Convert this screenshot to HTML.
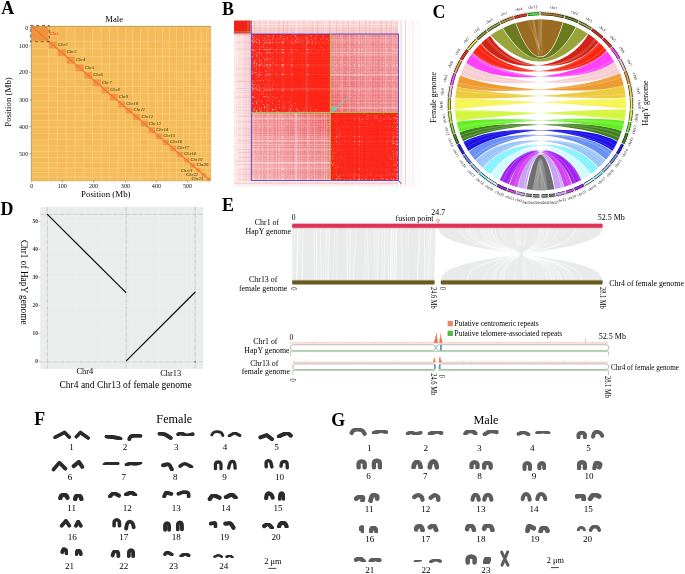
<!DOCTYPE html>
<html><head><meta charset="utf-8"><title>Figure</title>
<style>
html,body{margin:0;padding:0;background:#fff;}
body{width:685px;height:574px;overflow:hidden;font-family:"Liberation Serif",serif;}
svg{display:block;font-family:"Liberation Serif",serif;opacity:0.999;}
</style></head><body>
<svg width="685" height="574" viewBox="0 0 685 574">
<rect width="685" height="574" fill="#fff"/>
<g id="panelA">
<rect x="31.3" y="26.3" width="179.40" height="154.60" fill="#f5bb58"/>
<clipPath id="clipA"><rect x="31.3" y="26.3" width="179.40" height="154.60"/></clipPath>
<g clip-path="url(#clipA)">
<rect x="31.30" y="41.21" width="17.30" height="7.58" fill="#f9cf78" opacity="0.06"/>
<rect x="31.30" y="48.79" width="17.30" height="7.58" fill="#f2a84a" opacity="0.09"/>
<rect x="31.30" y="56.38" width="17.30" height="7.67" fill="#f2a84a" opacity="0.09"/>
<rect x="31.30" y="64.05" width="17.30" height="7.76" fill="#f2a84a" opacity="0.06"/>
<rect x="31.30" y="71.80" width="17.30" height="7.24" fill="#f2a84a" opacity="0.12"/>
<rect x="31.30" y="79.04" width="17.30" height="7.50" fill="#f9cf78" opacity="0.10"/>
<rect x="31.30" y="93.69" width="17.30" height="7.24" fill="#f2a84a" opacity="0.13"/>
<rect x="31.30" y="107.39" width="17.30" height="6.38" fill="#f2a84a" opacity="0.06"/>
<rect x="31.30" y="113.77" width="17.30" height="6.72" fill="#f2a84a" opacity="0.12"/>
<rect x="31.30" y="133.33" width="17.30" height="6.03" fill="#f2a84a" opacity="0.09"/>
<rect x="31.30" y="139.36" width="17.30" height="6.03" fill="#f9cf78" opacity="0.07"/>
<rect x="31.30" y="145.40" width="17.30" height="6.03" fill="#f9cf78" opacity="0.08"/>
<rect x="31.30" y="151.43" width="17.30" height="6.03" fill="#f9cf78" opacity="0.07"/>
<rect x="31.30" y="162.80" width="17.30" height="5.26" fill="#f9cf78" opacity="0.10"/>
<rect x="31.30" y="177.11" width="17.30" height="3.79" fill="#f2a84a" opacity="0.13"/>
<rect x="48.60" y="26.30" width="8.80" height="14.91" fill="#f2a84a" opacity="0.11"/>
<rect x="48.60" y="48.79" width="8.80" height="7.58" fill="#f9cf78" opacity="0.05"/>
<rect x="48.60" y="79.04" width="8.80" height="7.50" fill="#f9cf78" opacity="0.11"/>
<rect x="48.60" y="93.69" width="8.80" height="7.24" fill="#f9cf78" opacity="0.12"/>
<rect x="48.60" y="100.93" width="8.80" height="6.46" fill="#f2a84a" opacity="0.10"/>
<rect x="48.60" y="133.33" width="8.80" height="6.03" fill="#f9cf78" opacity="0.08"/>
<rect x="48.60" y="139.36" width="8.80" height="6.03" fill="#f2a84a" opacity="0.09"/>
<rect x="48.60" y="145.40" width="8.80" height="6.03" fill="#f9cf78" opacity="0.05"/>
<rect x="48.60" y="151.43" width="8.80" height="6.03" fill="#f2a84a" opacity="0.07"/>
<rect x="48.60" y="162.80" width="8.80" height="5.26" fill="#f9cf78" opacity="0.09"/>
<rect x="57.40" y="26.30" width="8.80" height="14.91" fill="#f2a84a" opacity="0.08"/>
<rect x="57.40" y="64.05" width="8.80" height="7.76" fill="#f2a84a" opacity="0.06"/>
<rect x="57.40" y="71.80" width="8.80" height="7.24" fill="#f9cf78" opacity="0.09"/>
<rect x="57.40" y="79.04" width="8.80" height="7.50" fill="#f2a84a" opacity="0.05"/>
<rect x="57.40" y="86.54" width="8.80" height="7.15" fill="#f9cf78" opacity="0.10"/>
<rect x="57.40" y="120.49" width="8.80" height="6.55" fill="#f9cf78" opacity="0.12"/>
<rect x="57.40" y="139.36" width="8.80" height="6.03" fill="#f2a84a" opacity="0.08"/>
<rect x="57.40" y="151.43" width="8.80" height="6.03" fill="#f2a84a" opacity="0.06"/>
<rect x="57.40" y="157.46" width="8.80" height="5.34" fill="#f2a84a" opacity="0.08"/>
<rect x="57.40" y="162.80" width="8.80" height="5.26" fill="#f2a84a" opacity="0.06"/>
<rect x="57.40" y="168.06" width="8.80" height="4.48" fill="#f9cf78" opacity="0.05"/>
<rect x="57.40" y="177.11" width="8.80" height="3.79" fill="#f2a84a" opacity="0.07"/>
<rect x="66.20" y="26.30" width="8.90" height="14.91" fill="#f9cf78" opacity="0.06"/>
<rect x="66.20" y="48.79" width="8.90" height="7.58" fill="#f2a84a" opacity="0.09"/>
<rect x="66.20" y="64.05" width="8.90" height="7.76" fill="#f2a84a" opacity="0.08"/>
<rect x="66.20" y="79.04" width="8.90" height="7.50" fill="#f9cf78" opacity="0.05"/>
<rect x="66.20" y="93.69" width="8.90" height="7.24" fill="#f2a84a" opacity="0.09"/>
<rect x="66.20" y="127.04" width="8.90" height="6.29" fill="#f2a84a" opacity="0.08"/>
<rect x="66.20" y="151.43" width="8.90" height="6.03" fill="#f9cf78" opacity="0.07"/>
<rect x="75.10" y="26.30" width="9.00" height="14.91" fill="#f2a84a" opacity="0.09"/>
<rect x="75.10" y="41.21" width="9.00" height="7.58" fill="#f2a84a" opacity="0.05"/>
<rect x="75.10" y="48.79" width="9.00" height="7.58" fill="#f9cf78" opacity="0.11"/>
<rect x="75.10" y="56.38" width="9.00" height="7.67" fill="#f9cf78" opacity="0.12"/>
<rect x="75.10" y="79.04" width="9.00" height="7.50" fill="#f2a84a" opacity="0.07"/>
<rect x="75.10" y="86.54" width="9.00" height="7.15" fill="#f9cf78" opacity="0.07"/>
<rect x="75.10" y="107.39" width="9.00" height="6.38" fill="#f9cf78" opacity="0.10"/>
<rect x="75.10" y="113.77" width="9.00" height="6.72" fill="#f9cf78" opacity="0.10"/>
<rect x="75.10" y="133.33" width="9.00" height="6.03" fill="#f9cf78" opacity="0.06"/>
<rect x="75.10" y="139.36" width="9.00" height="6.03" fill="#f9cf78" opacity="0.11"/>
<rect x="75.10" y="145.40" width="9.00" height="6.03" fill="#f9cf78" opacity="0.08"/>
<rect x="75.10" y="157.46" width="9.00" height="5.34" fill="#f2a84a" opacity="0.06"/>
<rect x="75.10" y="172.54" width="9.00" height="4.57" fill="#f9cf78" opacity="0.12"/>
<rect x="84.10" y="26.30" width="8.40" height="14.91" fill="#f2a84a" opacity="0.09"/>
<rect x="84.10" y="41.21" width="8.40" height="7.58" fill="#f9cf78" opacity="0.13"/>
<rect x="84.10" y="64.05" width="8.40" height="7.76" fill="#f9cf78" opacity="0.12"/>
<rect x="84.10" y="79.04" width="8.40" height="7.50" fill="#f2a84a" opacity="0.07"/>
<rect x="84.10" y="86.54" width="8.40" height="7.15" fill="#f2a84a" opacity="0.10"/>
<rect x="84.10" y="93.69" width="8.40" height="7.24" fill="#f9cf78" opacity="0.06"/>
<rect x="84.10" y="100.93" width="8.40" height="6.46" fill="#f9cf78" opacity="0.09"/>
<rect x="84.10" y="113.77" width="8.40" height="6.72" fill="#f9cf78" opacity="0.12"/>
<rect x="84.10" y="133.33" width="8.40" height="6.03" fill="#f2a84a" opacity="0.09"/>
<rect x="84.10" y="139.36" width="8.40" height="6.03" fill="#f2a84a" opacity="0.11"/>
<rect x="84.10" y="145.40" width="8.40" height="6.03" fill="#f9cf78" opacity="0.11"/>
<rect x="84.10" y="151.43" width="8.40" height="6.03" fill="#f9cf78" opacity="0.09"/>
<rect x="84.10" y="162.80" width="8.40" height="5.26" fill="#f2a84a" opacity="0.09"/>
<rect x="84.10" y="168.06" width="8.40" height="4.48" fill="#f9cf78" opacity="0.11"/>
<rect x="92.50" y="41.21" width="8.70" height="7.58" fill="#f9cf78" opacity="0.10"/>
<rect x="92.50" y="64.05" width="8.70" height="7.76" fill="#f2a84a" opacity="0.09"/>
<rect x="92.50" y="107.39" width="8.70" height="6.38" fill="#f9cf78" opacity="0.09"/>
<rect x="92.50" y="120.49" width="8.70" height="6.55" fill="#f2a84a" opacity="0.06"/>
<rect x="92.50" y="127.04" width="8.70" height="6.29" fill="#f2a84a" opacity="0.07"/>
<rect x="92.50" y="151.43" width="8.70" height="6.03" fill="#f9cf78" opacity="0.11"/>
<rect x="92.50" y="157.46" width="8.70" height="5.34" fill="#f9cf78" opacity="0.12"/>
<rect x="92.50" y="162.80" width="8.70" height="5.26" fill="#f2a84a" opacity="0.13"/>
<rect x="92.50" y="168.06" width="8.70" height="4.48" fill="#f9cf78" opacity="0.13"/>
<rect x="92.50" y="172.54" width="8.70" height="4.57" fill="#f9cf78" opacity="0.08"/>
<rect x="92.50" y="177.11" width="8.70" height="3.79" fill="#f2a84a" opacity="0.07"/>
<rect x="101.20" y="41.21" width="8.30" height="7.58" fill="#f2a84a" opacity="0.09"/>
<rect x="101.20" y="48.79" width="8.30" height="7.58" fill="#f9cf78" opacity="0.08"/>
<rect x="101.20" y="64.05" width="8.30" height="7.76" fill="#f9cf78" opacity="0.13"/>
<rect x="101.20" y="79.04" width="8.30" height="7.50" fill="#f2a84a" opacity="0.07"/>
<rect x="101.20" y="100.93" width="8.30" height="6.46" fill="#f2a84a" opacity="0.06"/>
<rect x="101.20" y="120.49" width="8.30" height="6.55" fill="#f9cf78" opacity="0.06"/>
<rect x="101.20" y="139.36" width="8.30" height="6.03" fill="#f9cf78" opacity="0.05"/>
<rect x="101.20" y="145.40" width="8.30" height="6.03" fill="#f9cf78" opacity="0.06"/>
<rect x="101.20" y="162.80" width="8.30" height="5.26" fill="#f2a84a" opacity="0.12"/>
<rect x="101.20" y="172.54" width="8.30" height="4.57" fill="#f9cf78" opacity="0.08"/>
<rect x="109.50" y="26.30" width="8.40" height="14.91" fill="#f9cf78" opacity="0.06"/>
<rect x="109.50" y="41.21" width="8.40" height="7.58" fill="#f2a84a" opacity="0.06"/>
<rect x="109.50" y="48.79" width="8.40" height="7.58" fill="#f2a84a" opacity="0.07"/>
<rect x="109.50" y="56.38" width="8.40" height="7.67" fill="#f2a84a" opacity="0.11"/>
<rect x="109.50" y="71.80" width="8.40" height="7.24" fill="#f2a84a" opacity="0.08"/>
<rect x="109.50" y="79.04" width="8.40" height="7.50" fill="#f9cf78" opacity="0.05"/>
<rect x="109.50" y="100.93" width="8.40" height="6.46" fill="#f9cf78" opacity="0.09"/>
<rect x="109.50" y="107.39" width="8.40" height="6.38" fill="#f2a84a" opacity="0.12"/>
<rect x="109.50" y="113.77" width="8.40" height="6.72" fill="#f2a84a" opacity="0.12"/>
<rect x="109.50" y="139.36" width="8.40" height="6.03" fill="#f9cf78" opacity="0.12"/>
<rect x="109.50" y="151.43" width="8.40" height="6.03" fill="#f2a84a" opacity="0.08"/>
<rect x="109.50" y="157.46" width="8.40" height="5.34" fill="#f9cf78" opacity="0.06"/>
<rect x="109.50" y="162.80" width="8.40" height="5.26" fill="#f2a84a" opacity="0.06"/>
<rect x="117.90" y="26.30" width="7.50" height="14.91" fill="#f2a84a" opacity="0.07"/>
<rect x="117.90" y="41.21" width="7.50" height="7.58" fill="#f2a84a" opacity="0.06"/>
<rect x="117.90" y="48.79" width="7.50" height="7.58" fill="#f9cf78" opacity="0.13"/>
<rect x="117.90" y="64.05" width="7.50" height="7.76" fill="#f2a84a" opacity="0.13"/>
<rect x="117.90" y="71.80" width="7.50" height="7.24" fill="#f2a84a" opacity="0.05"/>
<rect x="117.90" y="79.04" width="7.50" height="7.50" fill="#f2a84a" opacity="0.09"/>
<rect x="117.90" y="93.69" width="7.50" height="7.24" fill="#f2a84a" opacity="0.07"/>
<rect x="117.90" y="107.39" width="7.50" height="6.38" fill="#f2a84a" opacity="0.05"/>
<rect x="117.90" y="113.77" width="7.50" height="6.72" fill="#f9cf78" opacity="0.07"/>
<rect x="117.90" y="151.43" width="7.50" height="6.03" fill="#f9cf78" opacity="0.08"/>
<rect x="117.90" y="157.46" width="7.50" height="5.34" fill="#f9cf78" opacity="0.11"/>
<rect x="117.90" y="162.80" width="7.50" height="5.26" fill="#f9cf78" opacity="0.12"/>
<rect x="125.40" y="26.30" width="7.40" height="14.91" fill="#f9cf78" opacity="0.09"/>
<rect x="125.40" y="93.69" width="7.40" height="7.24" fill="#f2a84a" opacity="0.05"/>
<rect x="125.40" y="100.93" width="7.40" height="6.46" fill="#f9cf78" opacity="0.06"/>
<rect x="125.40" y="139.36" width="7.40" height="6.03" fill="#f9cf78" opacity="0.05"/>
<rect x="125.40" y="168.06" width="7.40" height="4.48" fill="#f2a84a" opacity="0.11"/>
<rect x="125.40" y="172.54" width="7.40" height="4.57" fill="#f9cf78" opacity="0.07"/>
<rect x="125.40" y="177.11" width="7.40" height="3.79" fill="#f9cf78" opacity="0.11"/>
<rect x="132.80" y="26.30" width="7.80" height="14.91" fill="#f2a84a" opacity="0.08"/>
<rect x="132.80" y="71.80" width="7.80" height="7.24" fill="#f2a84a" opacity="0.06"/>
<rect x="132.80" y="86.54" width="7.80" height="7.15" fill="#f2a84a" opacity="0.10"/>
<rect x="132.80" y="93.69" width="7.80" height="7.24" fill="#f9cf78" opacity="0.07"/>
<rect x="132.80" y="120.49" width="7.80" height="6.55" fill="#f2a84a" opacity="0.09"/>
<rect x="132.80" y="127.04" width="7.80" height="6.29" fill="#f9cf78" opacity="0.06"/>
<rect x="132.80" y="133.33" width="7.80" height="6.03" fill="#f9cf78" opacity="0.13"/>
<rect x="132.80" y="139.36" width="7.80" height="6.03" fill="#f9cf78" opacity="0.09"/>
<rect x="132.80" y="151.43" width="7.80" height="6.03" fill="#f2a84a" opacity="0.07"/>
<rect x="132.80" y="162.80" width="7.80" height="5.26" fill="#f2a84a" opacity="0.10"/>
<rect x="132.80" y="177.11" width="7.80" height="3.79" fill="#f9cf78" opacity="0.12"/>
<rect x="140.60" y="48.79" width="7.60" height="7.58" fill="#f2a84a" opacity="0.12"/>
<rect x="140.60" y="56.38" width="7.60" height="7.67" fill="#f2a84a" opacity="0.05"/>
<rect x="140.60" y="64.05" width="7.60" height="7.76" fill="#f2a84a" opacity="0.07"/>
<rect x="140.60" y="71.80" width="7.60" height="7.24" fill="#f9cf78" opacity="0.08"/>
<rect x="140.60" y="79.04" width="7.60" height="7.50" fill="#f9cf78" opacity="0.11"/>
<rect x="140.60" y="86.54" width="7.60" height="7.15" fill="#f9cf78" opacity="0.12"/>
<rect x="140.60" y="100.93" width="7.60" height="6.46" fill="#f2a84a" opacity="0.08"/>
<rect x="140.60" y="127.04" width="7.60" height="6.29" fill="#f2a84a" opacity="0.08"/>
<rect x="140.60" y="133.33" width="7.60" height="6.03" fill="#f9cf78" opacity="0.06"/>
<rect x="140.60" y="139.36" width="7.60" height="6.03" fill="#f2a84a" opacity="0.12"/>
<rect x="140.60" y="145.40" width="7.60" height="6.03" fill="#f2a84a" opacity="0.09"/>
<rect x="140.60" y="151.43" width="7.60" height="6.03" fill="#f9cf78" opacity="0.13"/>
<rect x="148.20" y="41.21" width="7.30" height="7.58" fill="#f2a84a" opacity="0.11"/>
<rect x="148.20" y="64.05" width="7.30" height="7.76" fill="#f9cf78" opacity="0.05"/>
<rect x="148.20" y="71.80" width="7.30" height="7.24" fill="#f2a84a" opacity="0.09"/>
<rect x="148.20" y="79.04" width="7.30" height="7.50" fill="#f9cf78" opacity="0.11"/>
<rect x="148.20" y="86.54" width="7.30" height="7.15" fill="#f2a84a" opacity="0.10"/>
<rect x="148.20" y="100.93" width="7.30" height="6.46" fill="#f2a84a" opacity="0.06"/>
<rect x="148.20" y="107.39" width="7.30" height="6.38" fill="#f2a84a" opacity="0.12"/>
<rect x="148.20" y="113.77" width="7.30" height="6.72" fill="#f9cf78" opacity="0.12"/>
<rect x="148.20" y="120.49" width="7.30" height="6.55" fill="#f2a84a" opacity="0.06"/>
<rect x="148.20" y="133.33" width="7.30" height="6.03" fill="#f2a84a" opacity="0.08"/>
<rect x="148.20" y="139.36" width="7.30" height="6.03" fill="#f9cf78" opacity="0.07"/>
<rect x="148.20" y="157.46" width="7.30" height="5.34" fill="#f9cf78" opacity="0.08"/>
<rect x="148.20" y="162.80" width="7.30" height="5.26" fill="#f2a84a" opacity="0.08"/>
<rect x="148.20" y="168.06" width="7.30" height="4.48" fill="#f2a84a" opacity="0.13"/>
<rect x="155.50" y="41.21" width="7.00" height="7.58" fill="#f2a84a" opacity="0.07"/>
<rect x="155.50" y="48.79" width="7.00" height="7.58" fill="#f9cf78" opacity="0.09"/>
<rect x="155.50" y="71.80" width="7.00" height="7.24" fill="#f9cf78" opacity="0.05"/>
<rect x="155.50" y="86.54" width="7.00" height="7.15" fill="#f2a84a" opacity="0.10"/>
<rect x="155.50" y="93.69" width="7.00" height="7.24" fill="#f9cf78" opacity="0.12"/>
<rect x="155.50" y="113.77" width="7.00" height="6.72" fill="#f2a84a" opacity="0.06"/>
<rect x="155.50" y="162.80" width="7.00" height="5.26" fill="#f2a84a" opacity="0.09"/>
<rect x="155.50" y="172.54" width="7.00" height="4.57" fill="#f9cf78" opacity="0.12"/>
<rect x="155.50" y="177.11" width="7.00" height="3.79" fill="#f2a84a" opacity="0.06"/>
<rect x="162.50" y="48.79" width="7.00" height="7.58" fill="#f9cf78" opacity="0.06"/>
<rect x="162.50" y="64.05" width="7.00" height="7.76" fill="#f9cf78" opacity="0.07"/>
<rect x="162.50" y="71.80" width="7.00" height="7.24" fill="#f2a84a" opacity="0.07"/>
<rect x="162.50" y="100.93" width="7.00" height="6.46" fill="#f2a84a" opacity="0.07"/>
<rect x="162.50" y="120.49" width="7.00" height="6.55" fill="#f2a84a" opacity="0.05"/>
<rect x="162.50" y="133.33" width="7.00" height="6.03" fill="#f9cf78" opacity="0.07"/>
<rect x="162.50" y="151.43" width="7.00" height="6.03" fill="#f2a84a" opacity="0.05"/>
<rect x="162.50" y="157.46" width="7.00" height="5.34" fill="#f2a84a" opacity="0.10"/>
<rect x="162.50" y="177.11" width="7.00" height="3.79" fill="#f2a84a" opacity="0.13"/>
<rect x="169.50" y="41.21" width="7.00" height="7.58" fill="#f9cf78" opacity="0.07"/>
<rect x="169.50" y="48.79" width="7.00" height="7.58" fill="#f2a84a" opacity="0.13"/>
<rect x="169.50" y="56.38" width="7.00" height="7.67" fill="#f2a84a" opacity="0.07"/>
<rect x="169.50" y="79.04" width="7.00" height="7.50" fill="#f2a84a" opacity="0.08"/>
<rect x="169.50" y="93.69" width="7.00" height="7.24" fill="#f2a84a" opacity="0.05"/>
<rect x="169.50" y="100.93" width="7.00" height="6.46" fill="#f9cf78" opacity="0.12"/>
<rect x="169.50" y="127.04" width="7.00" height="6.29" fill="#f9cf78" opacity="0.06"/>
<rect x="169.50" y="139.36" width="7.00" height="6.03" fill="#f2a84a" opacity="0.10"/>
<rect x="169.50" y="151.43" width="7.00" height="6.03" fill="#f2a84a" opacity="0.08"/>
<rect x="169.50" y="157.46" width="7.00" height="5.34" fill="#f2a84a" opacity="0.07"/>
<rect x="169.50" y="168.06" width="7.00" height="4.48" fill="#f2a84a" opacity="0.13"/>
<rect x="169.50" y="172.54" width="7.00" height="4.57" fill="#f9cf78" opacity="0.12"/>
<rect x="169.50" y="177.11" width="7.00" height="3.79" fill="#f2a84a" opacity="0.05"/>
<rect x="176.50" y="26.30" width="7.00" height="14.91" fill="#f2a84a" opacity="0.12"/>
<rect x="176.50" y="41.21" width="7.00" height="7.58" fill="#f2a84a" opacity="0.12"/>
<rect x="176.50" y="48.79" width="7.00" height="7.58" fill="#f9cf78" opacity="0.11"/>
<rect x="176.50" y="56.38" width="7.00" height="7.67" fill="#f2a84a" opacity="0.05"/>
<rect x="176.50" y="71.80" width="7.00" height="7.24" fill="#f9cf78" opacity="0.11"/>
<rect x="176.50" y="79.04" width="7.00" height="7.50" fill="#f9cf78" opacity="0.07"/>
<rect x="176.50" y="93.69" width="7.00" height="7.24" fill="#f2a84a" opacity="0.11"/>
<rect x="176.50" y="100.93" width="7.00" height="6.46" fill="#f9cf78" opacity="0.05"/>
<rect x="176.50" y="127.04" width="7.00" height="6.29" fill="#f2a84a" opacity="0.07"/>
<rect x="176.50" y="145.40" width="7.00" height="6.03" fill="#f2a84a" opacity="0.07"/>
<rect x="176.50" y="157.46" width="7.00" height="5.34" fill="#f2a84a" opacity="0.12"/>
<rect x="183.50" y="41.21" width="6.20" height="7.58" fill="#f2a84a" opacity="0.08"/>
<rect x="183.50" y="56.38" width="6.20" height="7.67" fill="#f9cf78" opacity="0.07"/>
<rect x="183.50" y="64.05" width="6.20" height="7.76" fill="#f2a84a" opacity="0.06"/>
<rect x="183.50" y="79.04" width="6.20" height="7.50" fill="#f9cf78" opacity="0.13"/>
<rect x="183.50" y="93.69" width="6.20" height="7.24" fill="#f2a84a" opacity="0.06"/>
<rect x="183.50" y="100.93" width="6.20" height="6.46" fill="#f2a84a" opacity="0.11"/>
<rect x="183.50" y="107.39" width="6.20" height="6.38" fill="#f9cf78" opacity="0.08"/>
<rect x="183.50" y="139.36" width="6.20" height="6.03" fill="#f2a84a" opacity="0.12"/>
<rect x="183.50" y="151.43" width="6.20" height="6.03" fill="#f2a84a" opacity="0.11"/>
<rect x="183.50" y="162.80" width="6.20" height="5.26" fill="#f2a84a" opacity="0.07"/>
<rect x="183.50" y="177.11" width="6.20" height="3.79" fill="#f9cf78" opacity="0.08"/>
<rect x="189.70" y="41.21" width="6.10" height="7.58" fill="#f9cf78" opacity="0.11"/>
<rect x="189.70" y="56.38" width="6.10" height="7.67" fill="#f9cf78" opacity="0.09"/>
<rect x="189.70" y="79.04" width="6.10" height="7.50" fill="#f2a84a" opacity="0.07"/>
<rect x="189.70" y="86.54" width="6.10" height="7.15" fill="#f9cf78" opacity="0.13"/>
<rect x="189.70" y="100.93" width="6.10" height="6.46" fill="#f2a84a" opacity="0.12"/>
<rect x="189.70" y="107.39" width="6.10" height="6.38" fill="#f9cf78" opacity="0.11"/>
<rect x="189.70" y="113.77" width="6.10" height="6.72" fill="#f9cf78" opacity="0.10"/>
<rect x="189.70" y="120.49" width="6.10" height="6.55" fill="#f2a84a" opacity="0.08"/>
<rect x="189.70" y="127.04" width="6.10" height="6.29" fill="#f9cf78" opacity="0.07"/>
<rect x="189.70" y="139.36" width="6.10" height="6.03" fill="#f2a84a" opacity="0.05"/>
<rect x="189.70" y="151.43" width="6.10" height="6.03" fill="#f2a84a" opacity="0.07"/>
<rect x="189.70" y="172.54" width="6.10" height="4.57" fill="#f2a84a" opacity="0.06"/>
<rect x="195.80" y="41.21" width="5.20" height="7.58" fill="#f9cf78" opacity="0.06"/>
<rect x="195.80" y="48.79" width="5.20" height="7.58" fill="#f2a84a" opacity="0.07"/>
<rect x="195.80" y="64.05" width="5.20" height="7.76" fill="#f2a84a" opacity="0.10"/>
<rect x="195.80" y="71.80" width="5.20" height="7.24" fill="#f9cf78" opacity="0.12"/>
<rect x="195.80" y="79.04" width="5.20" height="7.50" fill="#f9cf78" opacity="0.07"/>
<rect x="195.80" y="86.54" width="5.20" height="7.15" fill="#f9cf78" opacity="0.05"/>
<rect x="195.80" y="93.69" width="5.20" height="7.24" fill="#f2a84a" opacity="0.12"/>
<rect x="195.80" y="107.39" width="5.20" height="6.38" fill="#f2a84a" opacity="0.06"/>
<rect x="195.80" y="133.33" width="5.20" height="6.03" fill="#f2a84a" opacity="0.10"/>
<rect x="195.80" y="145.40" width="5.20" height="6.03" fill="#f9cf78" opacity="0.07"/>
<rect x="195.80" y="157.46" width="5.20" height="5.34" fill="#f9cf78" opacity="0.09"/>
<rect x="195.80" y="172.54" width="5.20" height="4.57" fill="#f9cf78" opacity="0.06"/>
<rect x="201.00" y="26.30" width="5.30" height="14.91" fill="#f9cf78" opacity="0.05"/>
<rect x="201.00" y="41.21" width="5.30" height="7.58" fill="#f9cf78" opacity="0.12"/>
<rect x="201.00" y="56.38" width="5.30" height="7.67" fill="#f2a84a" opacity="0.11"/>
<rect x="201.00" y="64.05" width="5.30" height="7.76" fill="#f9cf78" opacity="0.12"/>
<rect x="201.00" y="71.80" width="5.30" height="7.24" fill="#f2a84a" opacity="0.07"/>
<rect x="201.00" y="86.54" width="5.30" height="7.15" fill="#f2a84a" opacity="0.06"/>
<rect x="201.00" y="107.39" width="5.30" height="6.38" fill="#f9cf78" opacity="0.09"/>
<rect x="201.00" y="113.77" width="5.30" height="6.72" fill="#f2a84a" opacity="0.12"/>
<rect x="201.00" y="139.36" width="5.30" height="6.03" fill="#f9cf78" opacity="0.08"/>
<rect x="201.00" y="145.40" width="5.30" height="6.03" fill="#f2a84a" opacity="0.10"/>
<rect x="201.00" y="151.43" width="5.30" height="6.03" fill="#f9cf78" opacity="0.05"/>
<rect x="201.00" y="157.46" width="5.30" height="5.34" fill="#f9cf78" opacity="0.07"/>
<rect x="201.00" y="168.06" width="5.30" height="4.48" fill="#f2a84a" opacity="0.06"/>
<rect x="201.00" y="177.11" width="5.30" height="3.79" fill="#f2a84a" opacity="0.06"/>
<rect x="206.30" y="26.30" width="4.40" height="14.91" fill="#f9cf78" opacity="0.09"/>
<rect x="206.30" y="41.21" width="4.40" height="7.58" fill="#f2a84a" opacity="0.10"/>
<rect x="206.30" y="71.80" width="4.40" height="7.24" fill="#f2a84a" opacity="0.09"/>
<rect x="206.30" y="86.54" width="4.40" height="7.15" fill="#f9cf78" opacity="0.12"/>
<rect x="206.30" y="107.39" width="4.40" height="6.38" fill="#f2a84a" opacity="0.13"/>
<rect x="206.30" y="127.04" width="4.40" height="6.29" fill="#f9cf78" opacity="0.11"/>
<rect x="206.30" y="133.33" width="4.40" height="6.03" fill="#f9cf78" opacity="0.08"/>
<rect x="206.30" y="139.36" width="4.40" height="6.03" fill="#f2a84a" opacity="0.12"/>
<rect x="206.30" y="151.43" width="4.40" height="6.03" fill="#f9cf78" opacity="0.09"/>
<rect x="206.30" y="157.46" width="4.40" height="5.34" fill="#f9cf78" opacity="0.07"/>
<rect x="206.30" y="162.80" width="4.40" height="5.26" fill="#f2a84a" opacity="0.05"/>
<rect x="206.30" y="168.06" width="4.40" height="4.48" fill="#f9cf78" opacity="0.12"/>
<rect x="31.30" y="26.30" width="17.30" height="14.91" fill="#f1943c"/>
<rect x="48.60" y="41.21" width="8.80" height="7.58" fill="#f1943c"/>
<rect x="57.40" y="48.79" width="8.80" height="7.58" fill="#f1943c"/>
<rect x="66.20" y="56.38" width="8.90" height="7.67" fill="#f1943c"/>
<rect x="75.10" y="64.05" width="9.00" height="7.76" fill="#f1943c"/>
<rect x="84.10" y="71.80" width="8.40" height="7.24" fill="#f1943c"/>
<rect x="92.50" y="79.04" width="8.70" height="7.50" fill="#f1943c"/>
<rect x="101.20" y="86.54" width="8.30" height="7.15" fill="#f1943c"/>
<rect x="109.50" y="93.69" width="8.40" height="7.24" fill="#f1943c"/>
<rect x="117.90" y="100.93" width="7.50" height="6.46" fill="#f1943c"/>
<rect x="125.40" y="107.39" width="7.40" height="6.38" fill="#f1943c"/>
<rect x="132.80" y="113.77" width="7.80" height="6.72" fill="#f1943c"/>
<rect x="140.60" y="120.49" width="7.60" height="6.55" fill="#f1943c"/>
<rect x="148.20" y="127.04" width="7.30" height="6.29" fill="#f1943c"/>
<rect x="155.50" y="133.33" width="7.00" height="6.03" fill="#f1943c"/>
<rect x="162.50" y="139.36" width="7.00" height="6.03" fill="#f1943c"/>
<rect x="169.50" y="145.40" width="7.00" height="6.03" fill="#f1943c"/>
<rect x="176.50" y="151.43" width="7.00" height="6.03" fill="#f1943c"/>
<rect x="183.50" y="157.46" width="6.20" height="5.34" fill="#f1943c"/>
<rect x="189.70" y="162.80" width="6.10" height="5.26" fill="#f1943c"/>
<rect x="195.80" y="168.06" width="5.20" height="4.48" fill="#f1943c"/>
<rect x="201.00" y="172.54" width="5.30" height="4.57" fill="#f1943c"/>
<rect x="206.30" y="177.11" width="4.40" height="3.79" fill="#f1943c"/>
<rect x="31.30" y="26.30" width="8" height="6.6" fill="#f29238" opacity="0.3"/>
<rect x="39.30" y="32.90" width="9.30" height="8.31" fill="#f29238" opacity="0.3"/>
<line x1="48.60" y1="26.3" x2="48.60" y2="180.9" stroke="#fbdc98" stroke-width="0.6" opacity="0.8"/>
<line x1="31.3" y1="41.21" x2="210.7" y2="41.21" stroke="#fbdc98" stroke-width="0.6" opacity="0.8"/>
<line x1="57.40" y1="26.3" x2="57.40" y2="180.9" stroke="#fbdc98" stroke-width="0.6" opacity="0.8"/>
<line x1="31.3" y1="48.79" x2="210.7" y2="48.79" stroke="#fbdc98" stroke-width="0.6" opacity="0.8"/>
<line x1="66.20" y1="26.3" x2="66.20" y2="180.9" stroke="#fbdc98" stroke-width="0.6" opacity="0.8"/>
<line x1="31.3" y1="56.38" x2="210.7" y2="56.38" stroke="#fbdc98" stroke-width="0.6" opacity="0.8"/>
<line x1="75.10" y1="26.3" x2="75.10" y2="180.9" stroke="#fbdc98" stroke-width="0.6" opacity="0.8"/>
<line x1="31.3" y1="64.05" x2="210.7" y2="64.05" stroke="#fbdc98" stroke-width="0.6" opacity="0.8"/>
<line x1="84.10" y1="26.3" x2="84.10" y2="180.9" stroke="#fbdc98" stroke-width="0.6" opacity="0.8"/>
<line x1="31.3" y1="71.80" x2="210.7" y2="71.80" stroke="#fbdc98" stroke-width="0.6" opacity="0.8"/>
<line x1="92.50" y1="26.3" x2="92.50" y2="180.9" stroke="#fbdc98" stroke-width="0.6" opacity="0.8"/>
<line x1="31.3" y1="79.04" x2="210.7" y2="79.04" stroke="#fbdc98" stroke-width="0.6" opacity="0.8"/>
<line x1="101.20" y1="26.3" x2="101.20" y2="180.9" stroke="#fbdc98" stroke-width="0.6" opacity="0.8"/>
<line x1="31.3" y1="86.54" x2="210.7" y2="86.54" stroke="#fbdc98" stroke-width="0.6" opacity="0.8"/>
<line x1="109.50" y1="26.3" x2="109.50" y2="180.9" stroke="#fbdc98" stroke-width="0.6" opacity="0.8"/>
<line x1="31.3" y1="93.69" x2="210.7" y2="93.69" stroke="#fbdc98" stroke-width="0.6" opacity="0.8"/>
<line x1="117.90" y1="26.3" x2="117.90" y2="180.9" stroke="#fbdc98" stroke-width="0.6" opacity="0.8"/>
<line x1="31.3" y1="100.93" x2="210.7" y2="100.93" stroke="#fbdc98" stroke-width="0.6" opacity="0.8"/>
<line x1="125.40" y1="26.3" x2="125.40" y2="180.9" stroke="#fbdc98" stroke-width="0.6" opacity="0.8"/>
<line x1="31.3" y1="107.39" x2="210.7" y2="107.39" stroke="#fbdc98" stroke-width="0.6" opacity="0.8"/>
<line x1="132.80" y1="26.3" x2="132.80" y2="180.9" stroke="#fbdc98" stroke-width="0.6" opacity="0.8"/>
<line x1="31.3" y1="113.77" x2="210.7" y2="113.77" stroke="#fbdc98" stroke-width="0.6" opacity="0.8"/>
<line x1="140.60" y1="26.3" x2="140.60" y2="180.9" stroke="#fbdc98" stroke-width="0.6" opacity="0.8"/>
<line x1="31.3" y1="120.49" x2="210.7" y2="120.49" stroke="#fbdc98" stroke-width="0.6" opacity="0.8"/>
<line x1="148.20" y1="26.3" x2="148.20" y2="180.9" stroke="#fbdc98" stroke-width="0.6" opacity="0.8"/>
<line x1="31.3" y1="127.04" x2="210.7" y2="127.04" stroke="#fbdc98" stroke-width="0.6" opacity="0.8"/>
<line x1="155.50" y1="26.3" x2="155.50" y2="180.9" stroke="#fbdc98" stroke-width="0.6" opacity="0.8"/>
<line x1="31.3" y1="133.33" x2="210.7" y2="133.33" stroke="#fbdc98" stroke-width="0.6" opacity="0.8"/>
<line x1="162.50" y1="26.3" x2="162.50" y2="180.9" stroke="#fbdc98" stroke-width="0.6" opacity="0.8"/>
<line x1="31.3" y1="139.36" x2="210.7" y2="139.36" stroke="#fbdc98" stroke-width="0.6" opacity="0.8"/>
<line x1="169.50" y1="26.3" x2="169.50" y2="180.9" stroke="#fbdc98" stroke-width="0.6" opacity="0.8"/>
<line x1="31.3" y1="145.40" x2="210.7" y2="145.40" stroke="#fbdc98" stroke-width="0.6" opacity="0.8"/>
<line x1="176.50" y1="26.3" x2="176.50" y2="180.9" stroke="#fbdc98" stroke-width="0.6" opacity="0.8"/>
<line x1="31.3" y1="151.43" x2="210.7" y2="151.43" stroke="#fbdc98" stroke-width="0.6" opacity="0.8"/>
<line x1="183.50" y1="26.3" x2="183.50" y2="180.9" stroke="#fbdc98" stroke-width="0.6" opacity="0.8"/>
<line x1="31.3" y1="157.46" x2="210.7" y2="157.46" stroke="#fbdc98" stroke-width="0.6" opacity="0.8"/>
<line x1="189.70" y1="26.3" x2="189.70" y2="180.9" stroke="#fbdc98" stroke-width="0.6" opacity="0.8"/>
<line x1="31.3" y1="162.80" x2="210.7" y2="162.80" stroke="#fbdc98" stroke-width="0.6" opacity="0.8"/>
<line x1="195.80" y1="26.3" x2="195.80" y2="180.9" stroke="#fbdc98" stroke-width="0.6" opacity="0.8"/>
<line x1="31.3" y1="168.06" x2="210.7" y2="168.06" stroke="#fbdc98" stroke-width="0.6" opacity="0.8"/>
<line x1="201.00" y1="26.3" x2="201.00" y2="180.9" stroke="#fbdc98" stroke-width="0.6" opacity="0.8"/>
<line x1="31.3" y1="172.54" x2="210.7" y2="172.54" stroke="#fbdc98" stroke-width="0.6" opacity="0.8"/>
<line x1="206.30" y1="26.3" x2="206.30" y2="180.9" stroke="#fbdc98" stroke-width="0.6" opacity="0.8"/>
<line x1="31.3" y1="177.11" x2="210.7" y2="177.11" stroke="#fbdc98" stroke-width="0.6" opacity="0.8"/>
<line x1="38.23" y1="26.3" x2="38.23" y2="180.9" stroke="#f9d488" stroke-width="0.5" opacity="0.14"/>
<line x1="31.3" y1="32.27" x2="210.7" y2="32.27" stroke="#f9d488" stroke-width="0.5" opacity="0.14"/>
<line x1="53.75" y1="26.3" x2="53.75" y2="180.9" stroke="#f9d488" stroke-width="0.5" opacity="0.14"/>
<line x1="31.3" y1="45.65" x2="210.7" y2="45.65" stroke="#f9d488" stroke-width="0.5" opacity="0.14"/>
<line x1="60.78" y1="26.3" x2="60.78" y2="180.9" stroke="#f9d488" stroke-width="0.5" opacity="0.14"/>
<line x1="31.3" y1="51.71" x2="210.7" y2="51.71" stroke="#f9d488" stroke-width="0.5" opacity="0.14"/>
<line x1="70.73" y1="26.3" x2="70.73" y2="180.9" stroke="#f9d488" stroke-width="0.5" opacity="0.14"/>
<line x1="31.3" y1="60.28" x2="210.7" y2="60.28" stroke="#f9d488" stroke-width="0.5" opacity="0.14"/>
<line x1="79.97" y1="26.3" x2="79.97" y2="180.9" stroke="#f9d488" stroke-width="0.5" opacity="0.14"/>
<line x1="31.3" y1="68.24" x2="210.7" y2="68.24" stroke="#f9d488" stroke-width="0.5" opacity="0.14"/>
<line x1="87.95" y1="26.3" x2="87.95" y2="180.9" stroke="#f9d488" stroke-width="0.5" opacity="0.14"/>
<line x1="31.3" y1="75.12" x2="210.7" y2="75.12" stroke="#f9d488" stroke-width="0.5" opacity="0.14"/>
<line x1="97.82" y1="26.3" x2="97.82" y2="180.9" stroke="#f9d488" stroke-width="0.5" opacity="0.14"/>
<line x1="31.3" y1="83.63" x2="210.7" y2="83.63" stroke="#f9d488" stroke-width="0.5" opacity="0.14"/>
<line x1="105.49" y1="26.3" x2="105.49" y2="180.9" stroke="#f9d488" stroke-width="0.5" opacity="0.14"/>
<line x1="31.3" y1="90.23" x2="210.7" y2="90.23" stroke="#f9d488" stroke-width="0.5" opacity="0.14"/>
<line x1="113.90" y1="26.3" x2="113.90" y2="180.9" stroke="#f9d488" stroke-width="0.5" opacity="0.14"/>
<line x1="31.3" y1="97.48" x2="210.7" y2="97.48" stroke="#f9d488" stroke-width="0.5" opacity="0.14"/>
<line x1="122.51" y1="26.3" x2="122.51" y2="180.9" stroke="#f9d488" stroke-width="0.5" opacity="0.14"/>
<line x1="31.3" y1="104.90" x2="210.7" y2="104.90" stroke="#f9d488" stroke-width="0.5" opacity="0.14"/>
<line x1="128.22" y1="26.3" x2="128.22" y2="180.9" stroke="#f9d488" stroke-width="0.5" opacity="0.14"/>
<line x1="31.3" y1="109.82" x2="210.7" y2="109.82" stroke="#f9d488" stroke-width="0.5" opacity="0.14"/>
<line x1="137.85" y1="26.3" x2="137.85" y2="180.9" stroke="#f9d488" stroke-width="0.5" opacity="0.14"/>
<line x1="31.3" y1="118.12" x2="210.7" y2="118.12" stroke="#f9d488" stroke-width="0.5" opacity="0.14"/>
<line x1="144.70" y1="26.3" x2="144.70" y2="180.9" stroke="#f9d488" stroke-width="0.5" opacity="0.14"/>
<line x1="31.3" y1="124.02" x2="210.7" y2="124.02" stroke="#f9d488" stroke-width="0.5" opacity="0.14"/>
<line x1="151.62" y1="26.3" x2="151.62" y2="180.9" stroke="#f9d488" stroke-width="0.5" opacity="0.14"/>
<line x1="31.3" y1="129.99" x2="210.7" y2="129.99" stroke="#f9d488" stroke-width="0.5" opacity="0.14"/>
<line x1="159.63" y1="26.3" x2="159.63" y2="180.9" stroke="#f9d488" stroke-width="0.5" opacity="0.14"/>
<line x1="31.3" y1="136.89" x2="210.7" y2="136.89" stroke="#f9d488" stroke-width="0.5" opacity="0.14"/>
<line x1="165.51" y1="26.3" x2="165.51" y2="180.9" stroke="#f9d488" stroke-width="0.5" opacity="0.14"/>
<line x1="31.3" y1="141.95" x2="210.7" y2="141.95" stroke="#f9d488" stroke-width="0.5" opacity="0.14"/>
<line x1="174.03" y1="26.3" x2="174.03" y2="180.9" stroke="#f9d488" stroke-width="0.5" opacity="0.14"/>
<line x1="31.3" y1="149.30" x2="210.7" y2="149.30" stroke="#f9d488" stroke-width="0.5" opacity="0.14"/>
<line x1="180.16" y1="26.3" x2="180.16" y2="180.9" stroke="#f9d488" stroke-width="0.5" opacity="0.14"/>
<line x1="31.3" y1="154.58" x2="210.7" y2="154.58" stroke="#f9d488" stroke-width="0.5" opacity="0.14"/>
<line x1="186.34" y1="26.3" x2="186.34" y2="180.9" stroke="#f9d488" stroke-width="0.5" opacity="0.14"/>
<line x1="31.3" y1="159.91" x2="210.7" y2="159.91" stroke="#f9d488" stroke-width="0.5" opacity="0.14"/>
<line x1="193.23" y1="26.3" x2="193.23" y2="180.9" stroke="#f9d488" stroke-width="0.5" opacity="0.14"/>
<line x1="31.3" y1="165.85" x2="210.7" y2="165.85" stroke="#f9d488" stroke-width="0.5" opacity="0.14"/>
<line x1="198.31" y1="26.3" x2="198.31" y2="180.9" stroke="#f9d488" stroke-width="0.5" opacity="0.14"/>
<line x1="31.3" y1="170.22" x2="210.7" y2="170.22" stroke="#f9d488" stroke-width="0.5" opacity="0.14"/>
<line x1="203.14" y1="26.3" x2="203.14" y2="180.9" stroke="#f9d488" stroke-width="0.5" opacity="0.14"/>
<line x1="31.3" y1="174.38" x2="210.7" y2="174.38" stroke="#f9d488" stroke-width="0.5" opacity="0.14"/>
<line x1="208.82" y1="26.3" x2="208.82" y2="180.9" stroke="#f9d488" stroke-width="0.5" opacity="0.14"/>
<line x1="31.3" y1="179.28" x2="210.7" y2="179.28" stroke="#f9d488" stroke-width="0.5" opacity="0.14"/>
<line x1="31.3" y1="26.3" x2="210.7" y2="180.9" stroke="#f28a3a" stroke-width="2.2" opacity="0.42"/>
<line x1="31.3" y1="26.3" x2="210.7" y2="180.9" stroke="#ee5a32" stroke-width="0.7"/>
</g>
<path d="M31.3 180.9 L31.3 26.3 L210.7 26.3" fill="none" stroke="#8a7a55" stroke-width="0.6"/>
<path d="M31.3 180.9 L210.7 180.9 L210.7 26.3" fill="none" stroke="#c9a560" stroke-width="0.5"/>
<rect x="30.40" y="25.40" width="18.80" height="16.31" fill="none" stroke="#2a2a1a" stroke-width="0.75" stroke-dasharray="3.0 2.8" opacity="0.9"/>
<text x="49.40" y="34.55" font-size="4.6" text-anchor="start" font-weight="normal" font-style="italic" fill="#e8281c">Chr1</text>
<text x="58.20" y="45.80" font-size="4.6" text-anchor="start" font-weight="normal" font-style="italic" fill="#2c3a10">Chr2</text>
<text x="67.00" y="53.38" font-size="4.6" text-anchor="start" font-weight="normal" font-style="italic" fill="#2c3a10">Chr3</text>
<text x="75.90" y="61.01" font-size="4.6" text-anchor="start" font-weight="normal" font-style="italic" fill="#2c3a10">Chr4</text>
<text x="84.90" y="68.72" font-size="4.6" text-anchor="start" font-weight="normal" font-style="italic" fill="#2c3a10">Chr5</text>
<text x="93.30" y="76.22" font-size="4.6" text-anchor="start" font-weight="normal" font-style="italic" fill="#2c3a10">Chr6</text>
<text x="102.00" y="83.59" font-size="4.6" text-anchor="start" font-weight="normal" font-style="italic" fill="#2c3a10">Chr7</text>
<text x="110.30" y="90.91" font-size="4.6" text-anchor="start" font-weight="normal" font-style="italic" fill="#2c3a10">Chr8</text>
<text x="118.70" y="98.11" font-size="4.6" text-anchor="start" font-weight="normal" font-style="italic" fill="#2c3a10">Chr9</text>
<text x="126.20" y="104.96" font-size="4.6" text-anchor="start" font-weight="normal" font-style="italic" fill="#2c3a10">Chr10</text>
<text x="133.60" y="111.38" font-size="4.6" text-anchor="start" font-weight="normal" font-style="italic" fill="#2c3a10">Chr11</text>
<text x="141.40" y="117.93" font-size="4.6" text-anchor="start" font-weight="normal" font-style="italic" fill="#2c3a10">Chr12</text>
<text x="149.00" y="124.57" font-size="4.6" text-anchor="start" font-weight="normal" font-style="italic" fill="#2c3a10">Chr13</text>
<text x="156.30" y="130.99" font-size="4.6" text-anchor="start" font-weight="normal" font-style="italic" fill="#2c3a10">Chr14</text>
<text x="163.30" y="137.15" font-size="4.6" text-anchor="start" font-weight="normal" font-style="italic" fill="#2c3a10">Chr15</text>
<text x="170.30" y="143.18" font-size="4.6" text-anchor="start" font-weight="normal" font-style="italic" fill="#2c3a10">Chr16</text>
<text x="177.30" y="149.21" font-size="4.6" text-anchor="start" font-weight="normal" font-style="italic" fill="#2c3a10">Chr17</text>
<text x="184.30" y="155.24" font-size="4.6" text-anchor="start" font-weight="normal" font-style="italic" fill="#2c3a10">Chr18</text>
<text x="190.50" y="160.93" font-size="4.6" text-anchor="start" font-weight="normal" font-style="italic" fill="#2c3a10">Chr19</text>
<text x="196.60" y="166.23" font-size="4.6" text-anchor="start" font-weight="normal" font-style="italic" fill="#2c3a10">Chr20</text>
<text x="192.80" y="171.60" font-size="4.6" text-anchor="end" font-weight="normal" font-style="italic" fill="#2c3a10">Chr21</text>
<text x="198.00" y="176.12" font-size="4.6" text-anchor="end" font-weight="normal" font-style="italic" fill="#2c3a10">Chr22</text>
<text x="203.30" y="180.30" font-size="4.6" text-anchor="end" font-weight="normal" font-style="italic" fill="#2c3a10">Chr23</text>
<text x="114.20" y="22.30" font-size="8.6" text-anchor="middle" font-weight="normal" font-style="normal" fill="#000">Male</text>
<text x="28.20" y="29.50" font-size="6.1" text-anchor="end" font-weight="normal" font-style="normal" fill="#111">0</text>
<line x1="29.3" y1="27.5" x2="31.3" y2="27.5" stroke="#333" stroke-width="0.4"/>
<text x="28.20" y="47.90" font-size="6.1" text-anchor="end" font-weight="normal" font-style="normal" fill="#111">100</text>
<line x1="29.3" y1="45.9" x2="31.3" y2="45.9" stroke="#333" stroke-width="0.4"/>
<text x="28.20" y="74.30" font-size="6.1" text-anchor="end" font-weight="normal" font-style="normal" fill="#111">200</text>
<line x1="29.3" y1="72.3" x2="31.3" y2="72.3" stroke="#333" stroke-width="0.4"/>
<text x="28.20" y="101.90" font-size="6.1" text-anchor="end" font-weight="normal" font-style="normal" fill="#111">300</text>
<line x1="29.3" y1="99.9" x2="31.3" y2="99.9" stroke="#333" stroke-width="0.4"/>
<text x="28.20" y="128.60" font-size="6.1" text-anchor="end" font-weight="normal" font-style="normal" fill="#111">400</text>
<line x1="29.3" y1="126.6" x2="31.3" y2="126.6" stroke="#333" stroke-width="0.4"/>
<text x="28.20" y="155.60" font-size="6.1" text-anchor="end" font-weight="normal" font-style="normal" fill="#111">500</text>
<line x1="29.3" y1="153.6" x2="31.3" y2="153.6" stroke="#333" stroke-width="0.4"/>
<text x="31.80" y="187.70" font-size="6.1" text-anchor="middle" font-weight="normal" font-style="normal" fill="#111">0</text>
<line x1="31.8" y1="180.9" x2="31.8" y2="182.5" stroke="#333" stroke-width="0.4"/>
<text x="62.30" y="187.70" font-size="6.1" text-anchor="middle" font-weight="normal" font-style="normal" fill="#111">100</text>
<line x1="62.3" y1="180.9" x2="62.3" y2="182.5" stroke="#333" stroke-width="0.4"/>
<text x="93.50" y="187.70" font-size="6.1" text-anchor="middle" font-weight="normal" font-style="normal" fill="#111">200</text>
<line x1="93.5" y1="180.9" x2="93.5" y2="182.5" stroke="#333" stroke-width="0.4"/>
<text x="125.40" y="187.70" font-size="6.1" text-anchor="middle" font-weight="normal" font-style="normal" fill="#111">300</text>
<line x1="125.4" y1="180.9" x2="125.4" y2="182.5" stroke="#333" stroke-width="0.4"/>
<text x="156.40" y="187.70" font-size="6.1" text-anchor="middle" font-weight="normal" font-style="normal" fill="#111">400</text>
<line x1="156.4" y1="180.9" x2="156.4" y2="182.5" stroke="#333" stroke-width="0.4"/>
<text x="187.60" y="187.70" font-size="6.1" text-anchor="middle" font-weight="normal" font-style="normal" fill="#111">500</text>
<line x1="187.6" y1="180.9" x2="187.6" y2="182.5" stroke="#333" stroke-width="0.4"/>
<text x="105.80" y="196.60" font-size="8.9" text-anchor="middle" font-weight="normal" font-style="normal" fill="#000">Position (Mb)</text>
<text x="11.20" y="102.00" font-size="8.9" text-anchor="middle" font-weight="normal" font-style="normal" fill="#000" transform="rotate(-90 11.20 102.00)">Position (Mb)</text>
</g>
<g id="panelB">
<defs>
<linearGradient id="bTR" x1="0" y1="1" x2="1" y2="0"><stop offset="0" stop-color="#f24844"/><stop offset="0.25" stop-color="#ec7276"/><stop offset="1" stop-color="#ee8c90"/></linearGradient>
<linearGradient id="bBL" x1="1" y1="0" x2="0" y2="1"><stop offset="0" stop-color="#f24844"/><stop offset="0.25" stop-color="#ec7276"/><stop offset="1" stop-color="#f2a2a6"/></linearGradient>
<linearGradient id="bTop" x1="0" y1="0" x2="0" y2="1"><stop offset="0" stop-color="#fadada"/><stop offset="1" stop-color="#f5bcbc"/></linearGradient>
<linearGradient id="bLeft" x1="0" y1="0" x2="1" y2="0"><stop offset="0" stop-color="#fce4e4"/><stop offset="1" stop-color="#f6c4c4"/></linearGradient>
<clipPath id="clipB"><rect x="234.0" y="20.5" width="185.70" height="165.70"/></clipPath>
<clipPath id="clipBbox"><rect x="251.3" y="34.0" width="147.10" height="146.50"/></clipPath>
</defs>
<rect x="234.0" y="20.5" width="185.70" height="165.70" fill="#fdf1f1"/>
<rect x="251.3" y="20.5" width="147.10" height="13.50" fill="url(#bTop)"/>
<rect x="234.0" y="34.0" width="17.30" height="146.50" fill="url(#bLeft)"/>
<rect x="234.0" y="180.5" width="164.40" height="5.70" fill="#fbe6e6"/>
<rect x="398.4" y="20.5" width="21.30" height="165.70" fill="#fefbfb"/>
<rect x="330.3" y="34.0" width="68.10" height="78.40" fill="url(#bTR)"/>
<rect x="251.3" y="112.4" width="79.00" height="68.10" fill="url(#bBL)"/>
<g clip-path="url(#clipB)">
<line x1="235.60" y1="20.5" x2="235.60" y2="186.2" stroke="#fff" stroke-width="0.74" opacity="0.45"/>
<line x1="237.22" y1="20.5" x2="237.22" y2="186.2" stroke="#fff" stroke-width="0.71" opacity="0.31"/>
<line x1="238.23" y1="20.5" x2="238.23" y2="186.2" stroke="#fff" stroke-width="0.71" opacity="0.33"/>
<line x1="240.57" y1="20.5" x2="240.57" y2="186.2" stroke="#fff" stroke-width="0.42" opacity="0.20"/>
<line x1="241.37" y1="20.5" x2="241.37" y2="186.2" stroke="#fff" stroke-width="0.92" opacity="0.36"/>
<line x1="242.06" y1="20.5" x2="242.06" y2="186.2" stroke="#fff" stroke-width="1.04" opacity="0.47"/>
<line x1="244.10" y1="20.5" x2="244.10" y2="186.2" stroke="#fff" stroke-width="0.78" opacity="0.14"/>
<line x1="244.73" y1="20.5" x2="244.73" y2="186.2" stroke="#fff" stroke-width="0.72" opacity="0.10"/>
<line x1="245.75" y1="20.5" x2="245.75" y2="186.2" stroke="#fff" stroke-width="0.52" opacity="0.09"/>
<line x1="247.37" y1="20.5" x2="247.37" y2="186.2" stroke="#fff" stroke-width="0.66" opacity="0.42"/>
<line x1="249.11" y1="20.5" x2="249.11" y2="186.2" stroke="#fff" stroke-width="0.80" opacity="0.28"/>
<line x1="251.17" y1="20.5" x2="251.17" y2="186.2" stroke="#fff" stroke-width="0.67" opacity="0.19"/>
<line x1="253.97" y1="20.5" x2="253.97" y2="186.2" stroke="#fff" stroke-width="1.05" opacity="0.42"/>
<line x1="256.12" y1="20.5" x2="256.12" y2="186.2" stroke="#fff" stroke-width="0.57" opacity="0.17"/>
<line x1="257.36" y1="20.5" x2="257.36" y2="186.2" stroke="#fff" stroke-width="0.40" opacity="0.39"/>
<line x1="258.84" y1="20.5" x2="258.84" y2="186.2" stroke="#fff" stroke-width="0.94" opacity="0.23"/>
<line x1="261.55" y1="20.5" x2="261.55" y2="186.2" stroke="#fff" stroke-width="0.94" opacity="0.08"/>
<line x1="262.61" y1="20.5" x2="262.61" y2="186.2" stroke="#fff" stroke-width="0.99" opacity="0.27"/>
<line x1="265.37" y1="20.5" x2="265.37" y2="186.2" stroke="#fff" stroke-width="0.63" opacity="0.11"/>
<line x1="267.35" y1="20.5" x2="267.35" y2="186.2" stroke="#fff" stroke-width="0.89" opacity="0.19"/>
<line x1="268.14" y1="20.5" x2="268.14" y2="186.2" stroke="#fff" stroke-width="0.58" opacity="0.47"/>
<line x1="270.41" y1="20.5" x2="270.41" y2="186.2" stroke="#fff" stroke-width="0.43" opacity="0.18"/>
<line x1="271.23" y1="20.5" x2="271.23" y2="186.2" stroke="#fff" stroke-width="0.39" opacity="0.40"/>
<line x1="272.22" y1="20.5" x2="272.22" y2="186.2" stroke="#fff" stroke-width="0.74" opacity="0.26"/>
<line x1="273.24" y1="20.5" x2="273.24" y2="186.2" stroke="#fff" stroke-width="0.86" opacity="0.13"/>
<line x1="275.26" y1="20.5" x2="275.26" y2="186.2" stroke="#fff" stroke-width="0.43" opacity="0.25"/>
<line x1="276.33" y1="20.5" x2="276.33" y2="186.2" stroke="#fff" stroke-width="0.54" opacity="0.47"/>
<line x1="278.70" y1="20.5" x2="278.70" y2="186.2" stroke="#fff" stroke-width="0.56" opacity="0.43"/>
<line x1="279.76" y1="20.5" x2="279.76" y2="186.2" stroke="#fff" stroke-width="0.63" opacity="0.42"/>
<line x1="281.77" y1="20.5" x2="281.77" y2="186.2" stroke="#fff" stroke-width="0.42" opacity="0.48"/>
<line x1="282.84" y1="20.5" x2="282.84" y2="186.2" stroke="#fff" stroke-width="0.53" opacity="0.39"/>
<line x1="284.16" y1="20.5" x2="284.16" y2="186.2" stroke="#fff" stroke-width="0.56" opacity="0.11"/>
<line x1="284.96" y1="20.5" x2="284.96" y2="186.2" stroke="#fff" stroke-width="0.76" opacity="0.18"/>
<line x1="286.89" y1="20.5" x2="286.89" y2="186.2" stroke="#fff" stroke-width="0.61" opacity="0.26"/>
<line x1="289.60" y1="20.5" x2="289.60" y2="186.2" stroke="#fff" stroke-width="0.69" opacity="0.31"/>
<line x1="292.10" y1="20.5" x2="292.10" y2="186.2" stroke="#fff" stroke-width="0.48" opacity="0.14"/>
<line x1="294.70" y1="20.5" x2="294.70" y2="186.2" stroke="#fff" stroke-width="0.92" opacity="0.18"/>
<line x1="295.72" y1="20.5" x2="295.72" y2="186.2" stroke="#fff" stroke-width="0.87" opacity="0.46"/>
<line x1="296.75" y1="20.5" x2="296.75" y2="186.2" stroke="#fff" stroke-width="1.02" opacity="0.43"/>
<line x1="298.68" y1="20.5" x2="298.68" y2="186.2" stroke="#fff" stroke-width="0.65" opacity="0.12"/>
<line x1="299.36" y1="20.5" x2="299.36" y2="186.2" stroke="#fff" stroke-width="1.02" opacity="0.18"/>
<line x1="301.51" y1="20.5" x2="301.51" y2="186.2" stroke="#fff" stroke-width="0.53" opacity="0.41"/>
<line x1="303.43" y1="20.5" x2="303.43" y2="186.2" stroke="#fff" stroke-width="0.56" opacity="0.15"/>
<line x1="305.61" y1="20.5" x2="305.61" y2="186.2" stroke="#fff" stroke-width="0.40" opacity="0.17"/>
<line x1="307.44" y1="20.5" x2="307.44" y2="186.2" stroke="#fff" stroke-width="0.95" opacity="0.33"/>
<line x1="308.66" y1="20.5" x2="308.66" y2="186.2" stroke="#fff" stroke-width="0.99" opacity="0.16"/>
<line x1="309.29" y1="20.5" x2="309.29" y2="186.2" stroke="#fff" stroke-width="0.54" opacity="0.26"/>
<line x1="310.03" y1="20.5" x2="310.03" y2="186.2" stroke="#fff" stroke-width="0.47" opacity="0.23"/>
<line x1="311.89" y1="20.5" x2="311.89" y2="186.2" stroke="#fff" stroke-width="0.44" opacity="0.22"/>
<line x1="314.45" y1="20.5" x2="314.45" y2="186.2" stroke="#fff" stroke-width="1.04" opacity="0.34"/>
<line x1="316.57" y1="20.5" x2="316.57" y2="186.2" stroke="#fff" stroke-width="0.76" opacity="0.14"/>
<line x1="317.24" y1="20.5" x2="317.24" y2="186.2" stroke="#fff" stroke-width="0.36" opacity="0.44"/>
<line x1="319.39" y1="20.5" x2="319.39" y2="186.2" stroke="#fff" stroke-width="1.02" opacity="0.09"/>
<line x1="321.39" y1="20.5" x2="321.39" y2="186.2" stroke="#fff" stroke-width="0.69" opacity="0.37"/>
<line x1="322.69" y1="20.5" x2="322.69" y2="186.2" stroke="#fff" stroke-width="1.05" opacity="0.11"/>
<line x1="324.49" y1="20.5" x2="324.49" y2="186.2" stroke="#fff" stroke-width="0.87" opacity="0.44"/>
<line x1="326.71" y1="20.5" x2="326.71" y2="186.2" stroke="#fff" stroke-width="0.84" opacity="0.40"/>
<line x1="329.32" y1="20.5" x2="329.32" y2="186.2" stroke="#fff" stroke-width="0.60" opacity="0.35"/>
<line x1="331.90" y1="20.5" x2="331.90" y2="186.2" stroke="#fff" stroke-width="0.96" opacity="0.25"/>
<line x1="334.24" y1="20.5" x2="334.24" y2="186.2" stroke="#fff" stroke-width="0.95" opacity="0.31"/>
<line x1="336.22" y1="20.5" x2="336.22" y2="186.2" stroke="#fff" stroke-width="0.62" opacity="0.31"/>
<line x1="338.16" y1="20.5" x2="338.16" y2="186.2" stroke="#fff" stroke-width="0.41" opacity="0.34"/>
<line x1="340.94" y1="20.5" x2="340.94" y2="186.2" stroke="#fff" stroke-width="0.97" opacity="0.37"/>
<line x1="342.40" y1="20.5" x2="342.40" y2="186.2" stroke="#fff" stroke-width="0.86" opacity="0.31"/>
<line x1="343.97" y1="20.5" x2="343.97" y2="186.2" stroke="#fff" stroke-width="0.94" opacity="0.11"/>
<line x1="346.22" y1="20.5" x2="346.22" y2="186.2" stroke="#fff" stroke-width="0.37" opacity="0.32"/>
<line x1="347.88" y1="20.5" x2="347.88" y2="186.2" stroke="#fff" stroke-width="0.51" opacity="0.36"/>
<line x1="349.57" y1="20.5" x2="349.57" y2="186.2" stroke="#fff" stroke-width="0.78" opacity="0.45"/>
<line x1="350.73" y1="20.5" x2="350.73" y2="186.2" stroke="#fff" stroke-width="0.36" opacity="0.20"/>
<line x1="352.82" y1="20.5" x2="352.82" y2="186.2" stroke="#fff" stroke-width="0.49" opacity="0.15"/>
<line x1="355.42" y1="20.5" x2="355.42" y2="186.2" stroke="#fff" stroke-width="0.81" opacity="0.26"/>
<line x1="357.98" y1="20.5" x2="357.98" y2="186.2" stroke="#fff" stroke-width="0.58" opacity="0.35"/>
<line x1="359.02" y1="20.5" x2="359.02" y2="186.2" stroke="#fff" stroke-width="0.65" opacity="0.40"/>
<line x1="361.63" y1="20.5" x2="361.63" y2="186.2" stroke="#fff" stroke-width="0.97" opacity="0.23"/>
<line x1="363.51" y1="20.5" x2="363.51" y2="186.2" stroke="#fff" stroke-width="0.57" opacity="0.13"/>
<line x1="365.20" y1="20.5" x2="365.20" y2="186.2" stroke="#fff" stroke-width="0.94" opacity="0.42"/>
<line x1="367.37" y1="20.5" x2="367.37" y2="186.2" stroke="#fff" stroke-width="1.02" opacity="0.19"/>
<line x1="368.34" y1="20.5" x2="368.34" y2="186.2" stroke="#fff" stroke-width="0.67" opacity="0.19"/>
<line x1="369.41" y1="20.5" x2="369.41" y2="186.2" stroke="#fff" stroke-width="0.64" opacity="0.33"/>
<line x1="371.10" y1="20.5" x2="371.10" y2="186.2" stroke="#fff" stroke-width="0.57" opacity="0.42"/>
<line x1="373.86" y1="20.5" x2="373.86" y2="186.2" stroke="#fff" stroke-width="0.67" opacity="0.11"/>
<line x1="374.53" y1="20.5" x2="374.53" y2="186.2" stroke="#fff" stroke-width="0.96" opacity="0.10"/>
<line x1="376.69" y1="20.5" x2="376.69" y2="186.2" stroke="#fff" stroke-width="0.75" opacity="0.20"/>
<line x1="379.03" y1="20.5" x2="379.03" y2="186.2" stroke="#fff" stroke-width="0.36" opacity="0.13"/>
<line x1="380.63" y1="20.5" x2="380.63" y2="186.2" stroke="#fff" stroke-width="0.37" opacity="0.41"/>
<line x1="381.75" y1="20.5" x2="381.75" y2="186.2" stroke="#fff" stroke-width="0.45" opacity="0.10"/>
<line x1="383.73" y1="20.5" x2="383.73" y2="186.2" stroke="#fff" stroke-width="0.66" opacity="0.33"/>
<line x1="385.77" y1="20.5" x2="385.77" y2="186.2" stroke="#fff" stroke-width="0.92" opacity="0.46"/>
<line x1="387.88" y1="20.5" x2="387.88" y2="186.2" stroke="#fff" stroke-width="0.49" opacity="0.27"/>
<line x1="388.87" y1="20.5" x2="388.87" y2="186.2" stroke="#fff" stroke-width="0.36" opacity="0.27"/>
<line x1="391.04" y1="20.5" x2="391.04" y2="186.2" stroke="#fff" stroke-width="0.48" opacity="0.19"/>
<line x1="392.41" y1="20.5" x2="392.41" y2="186.2" stroke="#fff" stroke-width="0.84" opacity="0.29"/>
<line x1="394.36" y1="20.5" x2="394.36" y2="186.2" stroke="#fff" stroke-width="0.88" opacity="0.24"/>
<line x1="396.70" y1="20.5" x2="396.70" y2="186.2" stroke="#fff" stroke-width="0.98" opacity="0.11"/>
<line x1="399.35" y1="20.5" x2="399.35" y2="186.2" stroke="#fff" stroke-width="0.86" opacity="0.13"/>
<line x1="400.95" y1="20.5" x2="400.95" y2="186.2" stroke="#fff" stroke-width="0.79" opacity="0.44"/>
<line x1="402.38" y1="20.5" x2="402.38" y2="186.2" stroke="#fff" stroke-width="0.75" opacity="0.43"/>
<line x1="404.73" y1="20.5" x2="404.73" y2="186.2" stroke="#fff" stroke-width="1.01" opacity="0.27"/>
<line x1="406.76" y1="20.5" x2="406.76" y2="186.2" stroke="#fff" stroke-width="0.49" opacity="0.37"/>
<line x1="409.16" y1="20.5" x2="409.16" y2="186.2" stroke="#fff" stroke-width="0.80" opacity="0.37"/>
<line x1="410.23" y1="20.5" x2="410.23" y2="186.2" stroke="#fff" stroke-width="0.98" opacity="0.47"/>
<line x1="412.98" y1="20.5" x2="412.98" y2="186.2" stroke="#fff" stroke-width="0.73" opacity="0.40"/>
<line x1="414.29" y1="20.5" x2="414.29" y2="186.2" stroke="#fff" stroke-width="0.99" opacity="0.42"/>
<line x1="415.66" y1="20.5" x2="415.66" y2="186.2" stroke="#fff" stroke-width="0.41" opacity="0.26"/>
<line x1="417.47" y1="20.5" x2="417.47" y2="186.2" stroke="#fff" stroke-width="0.89" opacity="0.27"/>
<line x1="418.13" y1="20.5" x2="418.13" y2="186.2" stroke="#fff" stroke-width="0.92" opacity="0.11"/>
<line x1="420.49" y1="20.5" x2="420.49" y2="186.2" stroke="#fff" stroke-width="0.47" opacity="0.21"/>
<line x1="234.0" y1="22.83" x2="419.7" y2="22.83" stroke="#fff" stroke-width="0.45" opacity="0.14"/>
<line x1="234.0" y1="24.57" x2="419.7" y2="24.57" stroke="#fff" stroke-width="0.86" opacity="0.42"/>
<line x1="234.0" y1="26.69" x2="419.7" y2="26.69" stroke="#fff" stroke-width="1.01" opacity="0.28"/>
<line x1="234.0" y1="29.37" x2="419.7" y2="29.37" stroke="#fff" stroke-width="0.41" opacity="0.17"/>
<line x1="234.0" y1="31.13" x2="419.7" y2="31.13" stroke="#fff" stroke-width="0.55" opacity="0.37"/>
<line x1="234.0" y1="33.14" x2="419.7" y2="33.14" stroke="#fff" stroke-width="0.72" opacity="0.42"/>
<line x1="234.0" y1="34.97" x2="419.7" y2="34.97" stroke="#fff" stroke-width="0.57" opacity="0.23"/>
<line x1="234.0" y1="37.43" x2="419.7" y2="37.43" stroke="#fff" stroke-width="0.98" opacity="0.16"/>
<line x1="234.0" y1="39.90" x2="419.7" y2="39.90" stroke="#fff" stroke-width="1.03" opacity="0.29"/>
<line x1="234.0" y1="41.76" x2="419.7" y2="41.76" stroke="#fff" stroke-width="0.49" opacity="0.29"/>
<line x1="234.0" y1="43.47" x2="419.7" y2="43.47" stroke="#fff" stroke-width="0.77" opacity="0.09"/>
<line x1="234.0" y1="46.20" x2="419.7" y2="46.20" stroke="#fff" stroke-width="0.71" opacity="0.24"/>
<line x1="234.0" y1="48.56" x2="419.7" y2="48.56" stroke="#fff" stroke-width="0.74" opacity="0.28"/>
<line x1="234.0" y1="50.68" x2="419.7" y2="50.68" stroke="#fff" stroke-width="0.40" opacity="0.30"/>
<line x1="234.0" y1="52.19" x2="419.7" y2="52.19" stroke="#fff" stroke-width="1.02" opacity="0.45"/>
<line x1="234.0" y1="53.39" x2="419.7" y2="53.39" stroke="#fff" stroke-width="0.68" opacity="0.13"/>
<line x1="234.0" y1="54.94" x2="419.7" y2="54.94" stroke="#fff" stroke-width="0.92" opacity="0.44"/>
<line x1="234.0" y1="56.59" x2="419.7" y2="56.59" stroke="#fff" stroke-width="0.57" opacity="0.16"/>
<line x1="234.0" y1="58.55" x2="419.7" y2="58.55" stroke="#fff" stroke-width="1.00" opacity="0.13"/>
<line x1="234.0" y1="60.86" x2="419.7" y2="60.86" stroke="#fff" stroke-width="0.37" opacity="0.16"/>
<line x1="234.0" y1="61.96" x2="419.7" y2="61.96" stroke="#fff" stroke-width="0.83" opacity="0.21"/>
<line x1="234.0" y1="63.35" x2="419.7" y2="63.35" stroke="#fff" stroke-width="0.78" opacity="0.12"/>
<line x1="234.0" y1="65.55" x2="419.7" y2="65.55" stroke="#fff" stroke-width="0.44" opacity="0.28"/>
<line x1="234.0" y1="66.70" x2="419.7" y2="66.70" stroke="#fff" stroke-width="0.49" opacity="0.29"/>
<line x1="234.0" y1="68.27" x2="419.7" y2="68.27" stroke="#fff" stroke-width="0.61" opacity="0.25"/>
<line x1="234.0" y1="70.03" x2="419.7" y2="70.03" stroke="#fff" stroke-width="0.46" opacity="0.16"/>
<line x1="234.0" y1="72.02" x2="419.7" y2="72.02" stroke="#fff" stroke-width="0.80" opacity="0.29"/>
<line x1="234.0" y1="74.49" x2="419.7" y2="74.49" stroke="#fff" stroke-width="0.78" opacity="0.42"/>
<line x1="234.0" y1="75.60" x2="419.7" y2="75.60" stroke="#fff" stroke-width="0.87" opacity="0.40"/>
<line x1="234.0" y1="78.19" x2="419.7" y2="78.19" stroke="#fff" stroke-width="0.57" opacity="0.21"/>
<line x1="234.0" y1="80.82" x2="419.7" y2="80.82" stroke="#fff" stroke-width="0.50" opacity="0.48"/>
<line x1="234.0" y1="83.37" x2="419.7" y2="83.37" stroke="#fff" stroke-width="0.44" opacity="0.18"/>
<line x1="234.0" y1="85.57" x2="419.7" y2="85.57" stroke="#fff" stroke-width="0.53" opacity="0.12"/>
<line x1="234.0" y1="88.00" x2="419.7" y2="88.00" stroke="#fff" stroke-width="0.65" opacity="0.40"/>
<line x1="234.0" y1="88.88" x2="419.7" y2="88.88" stroke="#fff" stroke-width="0.63" opacity="0.35"/>
<line x1="234.0" y1="89.52" x2="419.7" y2="89.52" stroke="#fff" stroke-width="0.49" opacity="0.35"/>
<line x1="234.0" y1="92.12" x2="419.7" y2="92.12" stroke="#fff" stroke-width="1.03" opacity="0.13"/>
<line x1="234.0" y1="93.84" x2="419.7" y2="93.84" stroke="#fff" stroke-width="0.88" opacity="0.28"/>
<line x1="234.0" y1="95.94" x2="419.7" y2="95.94" stroke="#fff" stroke-width="0.48" opacity="0.11"/>
<line x1="234.0" y1="96.78" x2="419.7" y2="96.78" stroke="#fff" stroke-width="0.38" opacity="0.30"/>
<line x1="234.0" y1="98.51" x2="419.7" y2="98.51" stroke="#fff" stroke-width="0.75" opacity="0.14"/>
<line x1="234.0" y1="99.52" x2="419.7" y2="99.52" stroke="#fff" stroke-width="0.49" opacity="0.42"/>
<line x1="234.0" y1="102.29" x2="419.7" y2="102.29" stroke="#fff" stroke-width="1.00" opacity="0.12"/>
<line x1="234.0" y1="103.03" x2="419.7" y2="103.03" stroke="#fff" stroke-width="1.02" opacity="0.26"/>
<line x1="234.0" y1="105.31" x2="419.7" y2="105.31" stroke="#fff" stroke-width="0.58" opacity="0.27"/>
<line x1="234.0" y1="107.05" x2="419.7" y2="107.05" stroke="#fff" stroke-width="0.65" opacity="0.32"/>
<line x1="234.0" y1="107.68" x2="419.7" y2="107.68" stroke="#fff" stroke-width="0.84" opacity="0.42"/>
<line x1="234.0" y1="108.67" x2="419.7" y2="108.67" stroke="#fff" stroke-width="0.67" opacity="0.38"/>
<line x1="234.0" y1="110.17" x2="419.7" y2="110.17" stroke="#fff" stroke-width="0.49" opacity="0.15"/>
<line x1="234.0" y1="111.89" x2="419.7" y2="111.89" stroke="#fff" stroke-width="0.36" opacity="0.44"/>
<line x1="234.0" y1="114.26" x2="419.7" y2="114.26" stroke="#fff" stroke-width="0.84" opacity="0.42"/>
<line x1="234.0" y1="116.24" x2="419.7" y2="116.24" stroke="#fff" stroke-width="0.63" opacity="0.32"/>
<line x1="234.0" y1="117.95" x2="419.7" y2="117.95" stroke="#fff" stroke-width="1.04" opacity="0.40"/>
<line x1="234.0" y1="119.12" x2="419.7" y2="119.12" stroke="#fff" stroke-width="0.99" opacity="0.38"/>
<line x1="234.0" y1="121.43" x2="419.7" y2="121.43" stroke="#fff" stroke-width="0.92" opacity="0.24"/>
<line x1="234.0" y1="124.00" x2="419.7" y2="124.00" stroke="#fff" stroke-width="0.97" opacity="0.36"/>
<line x1="234.0" y1="126.29" x2="419.7" y2="126.29" stroke="#fff" stroke-width="0.89" opacity="0.24"/>
<line x1="234.0" y1="128.48" x2="419.7" y2="128.48" stroke="#fff" stroke-width="0.40" opacity="0.22"/>
<line x1="234.0" y1="130.11" x2="419.7" y2="130.11" stroke="#fff" stroke-width="0.36" opacity="0.22"/>
<line x1="234.0" y1="132.12" x2="419.7" y2="132.12" stroke="#fff" stroke-width="0.79" opacity="0.17"/>
<line x1="234.0" y1="134.80" x2="419.7" y2="134.80" stroke="#fff" stroke-width="0.82" opacity="0.22"/>
<line x1="234.0" y1="136.85" x2="419.7" y2="136.85" stroke="#fff" stroke-width="0.75" opacity="0.29"/>
<line x1="234.0" y1="138.31" x2="419.7" y2="138.31" stroke="#fff" stroke-width="1.05" opacity="0.34"/>
<line x1="234.0" y1="140.45" x2="419.7" y2="140.45" stroke="#fff" stroke-width="0.88" opacity="0.47"/>
<line x1="234.0" y1="141.10" x2="419.7" y2="141.10" stroke="#fff" stroke-width="0.78" opacity="0.38"/>
<line x1="234.0" y1="142.26" x2="419.7" y2="142.26" stroke="#fff" stroke-width="0.63" opacity="0.10"/>
<line x1="234.0" y1="143.29" x2="419.7" y2="143.29" stroke="#fff" stroke-width="0.61" opacity="0.12"/>
<line x1="234.0" y1="144.44" x2="419.7" y2="144.44" stroke="#fff" stroke-width="0.98" opacity="0.30"/>
<line x1="234.0" y1="146.16" x2="419.7" y2="146.16" stroke="#fff" stroke-width="1.03" opacity="0.31"/>
<line x1="234.0" y1="148.95" x2="419.7" y2="148.95" stroke="#fff" stroke-width="0.80" opacity="0.40"/>
<line x1="234.0" y1="149.72" x2="419.7" y2="149.72" stroke="#fff" stroke-width="0.77" opacity="0.38"/>
<line x1="234.0" y1="150.42" x2="419.7" y2="150.42" stroke="#fff" stroke-width="1.00" opacity="0.14"/>
<line x1="234.0" y1="152.06" x2="419.7" y2="152.06" stroke="#fff" stroke-width="0.47" opacity="0.28"/>
<line x1="234.0" y1="154.00" x2="419.7" y2="154.00" stroke="#fff" stroke-width="0.39" opacity="0.46"/>
<line x1="234.0" y1="155.53" x2="419.7" y2="155.53" stroke="#fff" stroke-width="0.72" opacity="0.32"/>
<line x1="234.0" y1="156.93" x2="419.7" y2="156.93" stroke="#fff" stroke-width="0.55" opacity="0.34"/>
<line x1="234.0" y1="158.76" x2="419.7" y2="158.76" stroke="#fff" stroke-width="0.55" opacity="0.37"/>
<line x1="234.0" y1="160.01" x2="419.7" y2="160.01" stroke="#fff" stroke-width="0.36" opacity="0.18"/>
<line x1="234.0" y1="160.71" x2="419.7" y2="160.71" stroke="#fff" stroke-width="0.46" opacity="0.38"/>
<line x1="234.0" y1="162.17" x2="419.7" y2="162.17" stroke="#fff" stroke-width="0.98" opacity="0.38"/>
<line x1="234.0" y1="162.88" x2="419.7" y2="162.88" stroke="#fff" stroke-width="1.04" opacity="0.46"/>
<line x1="234.0" y1="163.64" x2="419.7" y2="163.64" stroke="#fff" stroke-width="0.98" opacity="0.25"/>
<line x1="234.0" y1="165.29" x2="419.7" y2="165.29" stroke="#fff" stroke-width="1.03" opacity="0.18"/>
<line x1="234.0" y1="167.04" x2="419.7" y2="167.04" stroke="#fff" stroke-width="1.01" opacity="0.37"/>
<line x1="234.0" y1="168.67" x2="419.7" y2="168.67" stroke="#fff" stroke-width="1.04" opacity="0.41"/>
<line x1="234.0" y1="170.60" x2="419.7" y2="170.60" stroke="#fff" stroke-width="0.43" opacity="0.33"/>
<line x1="234.0" y1="172.20" x2="419.7" y2="172.20" stroke="#fff" stroke-width="0.49" opacity="0.10"/>
<line x1="234.0" y1="173.96" x2="419.7" y2="173.96" stroke="#fff" stroke-width="0.44" opacity="0.26"/>
<line x1="234.0" y1="176.03" x2="419.7" y2="176.03" stroke="#fff" stroke-width="0.67" opacity="0.18"/>
<line x1="234.0" y1="177.91" x2="419.7" y2="177.91" stroke="#fff" stroke-width="0.64" opacity="0.39"/>
<line x1="234.0" y1="179.68" x2="419.7" y2="179.68" stroke="#fff" stroke-width="1.05" opacity="0.46"/>
<line x1="234.0" y1="181.90" x2="419.7" y2="181.90" stroke="#fff" stroke-width="0.52" opacity="0.13"/>
<line x1="234.0" y1="184.46" x2="419.7" y2="184.46" stroke="#fff" stroke-width="0.90" opacity="0.33"/>
<line x1="234.0" y1="185.85" x2="419.7" y2="185.85" stroke="#fff" stroke-width="0.54" opacity="0.35"/>
<line x1="234.0" y1="187.69" x2="419.7" y2="187.69" stroke="#fff" stroke-width="0.76" opacity="0.33"/>
<line x1="254.37" y1="20.5" x2="254.37" y2="34.0" stroke="#ee8888" stroke-width="0.7" opacity="0.54"/>
<line x1="254.37" y1="180.5" x2="254.37" y2="186.2" stroke="#f08a8a" stroke-width="0.6" opacity="0.17"/>
<line x1="259.24" y1="20.5" x2="259.24" y2="34.0" stroke="#ee8888" stroke-width="0.7" opacity="0.30"/>
<line x1="259.24" y1="180.5" x2="259.24" y2="186.2" stroke="#f08a8a" stroke-width="0.6" opacity="0.09"/>
<line x1="265.77" y1="20.5" x2="265.77" y2="34.0" stroke="#ee8888" stroke-width="0.7" opacity="0.14"/>
<line x1="265.77" y1="180.5" x2="265.77" y2="186.2" stroke="#f08a8a" stroke-width="0.6" opacity="0.04"/>
<line x1="270.81" y1="20.5" x2="270.81" y2="34.0" stroke="#ee8888" stroke-width="0.7" opacity="0.23"/>
<line x1="270.81" y1="180.5" x2="270.81" y2="186.2" stroke="#f08a8a" stroke-width="0.6" opacity="0.07"/>
<line x1="273.64" y1="20.5" x2="273.64" y2="34.0" stroke="#ee8888" stroke-width="0.7" opacity="0.17"/>
<line x1="273.64" y1="180.5" x2="273.64" y2="186.2" stroke="#f08a8a" stroke-width="0.6" opacity="0.05"/>
<line x1="279.10" y1="20.5" x2="279.10" y2="34.0" stroke="#ee8888" stroke-width="0.7" opacity="0.56"/>
<line x1="279.10" y1="180.5" x2="279.10" y2="186.2" stroke="#f08a8a" stroke-width="0.6" opacity="0.17"/>
<line x1="283.24" y1="20.5" x2="283.24" y2="34.0" stroke="#ee8888" stroke-width="0.7" opacity="0.51"/>
<line x1="283.24" y1="180.5" x2="283.24" y2="186.2" stroke="#f08a8a" stroke-width="0.6" opacity="0.16"/>
<line x1="287.29" y1="20.5" x2="287.29" y2="34.0" stroke="#ee8888" stroke-width="0.7" opacity="0.34"/>
<line x1="287.29" y1="180.5" x2="287.29" y2="186.2" stroke="#f08a8a" stroke-width="0.6" opacity="0.10"/>
<line x1="295.10" y1="20.5" x2="295.10" y2="34.0" stroke="#ee8888" stroke-width="0.7" opacity="0.23"/>
<line x1="295.10" y1="180.5" x2="295.10" y2="186.2" stroke="#f08a8a" stroke-width="0.6" opacity="0.07"/>
<line x1="299.08" y1="20.5" x2="299.08" y2="34.0" stroke="#ee8888" stroke-width="0.7" opacity="0.16"/>
<line x1="299.08" y1="180.5" x2="299.08" y2="186.2" stroke="#f08a8a" stroke-width="0.6" opacity="0.05"/>
<line x1="303.83" y1="20.5" x2="303.83" y2="34.0" stroke="#ee8888" stroke-width="0.7" opacity="0.20"/>
<line x1="303.83" y1="180.5" x2="303.83" y2="186.2" stroke="#f08a8a" stroke-width="0.6" opacity="0.06"/>
<line x1="309.06" y1="20.5" x2="309.06" y2="34.0" stroke="#ee8888" stroke-width="0.7" opacity="0.21"/>
<line x1="309.06" y1="180.5" x2="309.06" y2="186.2" stroke="#f08a8a" stroke-width="0.6" opacity="0.06"/>
<line x1="312.29" y1="20.5" x2="312.29" y2="34.0" stroke="#ee8888" stroke-width="0.7" opacity="0.29"/>
<line x1="312.29" y1="180.5" x2="312.29" y2="186.2" stroke="#f08a8a" stroke-width="0.6" opacity="0.09"/>
<line x1="317.64" y1="20.5" x2="317.64" y2="34.0" stroke="#ee8888" stroke-width="0.7" opacity="0.58"/>
<line x1="317.64" y1="180.5" x2="317.64" y2="186.2" stroke="#f08a8a" stroke-width="0.6" opacity="0.18"/>
<line x1="323.09" y1="20.5" x2="323.09" y2="34.0" stroke="#ee8888" stroke-width="0.7" opacity="0.14"/>
<line x1="323.09" y1="180.5" x2="323.09" y2="186.2" stroke="#f08a8a" stroke-width="0.6" opacity="0.04"/>
<line x1="329.72" y1="20.5" x2="329.72" y2="34.0" stroke="#ee8888" stroke-width="0.7" opacity="0.46"/>
<line x1="329.72" y1="180.5" x2="329.72" y2="186.2" stroke="#f08a8a" stroke-width="0.6" opacity="0.14"/>
<line x1="336.62" y1="20.5" x2="336.62" y2="34.0" stroke="#ee8888" stroke-width="0.7" opacity="0.41"/>
<line x1="336.62" y1="180.5" x2="336.62" y2="186.2" stroke="#f08a8a" stroke-width="0.6" opacity="0.13"/>
<line x1="342.80" y1="20.5" x2="342.80" y2="34.0" stroke="#ee8888" stroke-width="0.7" opacity="0.41"/>
<line x1="342.80" y1="180.5" x2="342.80" y2="186.2" stroke="#f08a8a" stroke-width="0.6" opacity="0.12"/>
<line x1="348.28" y1="20.5" x2="348.28" y2="34.0" stroke="#ee8888" stroke-width="0.7" opacity="0.47"/>
<line x1="348.28" y1="180.5" x2="348.28" y2="186.2" stroke="#f08a8a" stroke-width="0.6" opacity="0.14"/>
<line x1="353.22" y1="20.5" x2="353.22" y2="34.0" stroke="#ee8888" stroke-width="0.7" opacity="0.19"/>
<line x1="353.22" y1="180.5" x2="353.22" y2="186.2" stroke="#f08a8a" stroke-width="0.6" opacity="0.06"/>
<line x1="359.42" y1="20.5" x2="359.42" y2="34.0" stroke="#ee8888" stroke-width="0.7" opacity="0.52"/>
<line x1="359.42" y1="180.5" x2="359.42" y2="186.2" stroke="#f08a8a" stroke-width="0.6" opacity="0.16"/>
<line x1="365.60" y1="20.5" x2="365.60" y2="34.0" stroke="#ee8888" stroke-width="0.7" opacity="0.55"/>
<line x1="365.60" y1="180.5" x2="365.60" y2="186.2" stroke="#f08a8a" stroke-width="0.6" opacity="0.17"/>
<line x1="369.81" y1="20.5" x2="369.81" y2="34.0" stroke="#ee8888" stroke-width="0.7" opacity="0.43"/>
<line x1="369.81" y1="180.5" x2="369.81" y2="186.2" stroke="#f08a8a" stroke-width="0.6" opacity="0.13"/>
<line x1="374.93" y1="20.5" x2="374.93" y2="34.0" stroke="#ee8888" stroke-width="0.7" opacity="0.13"/>
<line x1="374.93" y1="180.5" x2="374.93" y2="186.2" stroke="#f08a8a" stroke-width="0.6" opacity="0.04"/>
<line x1="381.03" y1="20.5" x2="381.03" y2="34.0" stroke="#ee8888" stroke-width="0.7" opacity="0.54"/>
<line x1="381.03" y1="180.5" x2="381.03" y2="186.2" stroke="#f08a8a" stroke-width="0.6" opacity="0.16"/>
<line x1="386.17" y1="20.5" x2="386.17" y2="34.0" stroke="#ee8888" stroke-width="0.7" opacity="0.60"/>
<line x1="386.17" y1="180.5" x2="386.17" y2="186.2" stroke="#f08a8a" stroke-width="0.6" opacity="0.19"/>
<line x1="391.44" y1="20.5" x2="391.44" y2="34.0" stroke="#ee8888" stroke-width="0.7" opacity="0.25"/>
<line x1="391.44" y1="180.5" x2="391.44" y2="186.2" stroke="#f08a8a" stroke-width="0.6" opacity="0.08"/>
<line x1="397.10" y1="20.5" x2="397.10" y2="34.0" stroke="#ee8888" stroke-width="0.7" opacity="0.15"/>
<line x1="397.10" y1="180.5" x2="397.10" y2="186.2" stroke="#f08a8a" stroke-width="0.6" opacity="0.05"/>
<line x1="238.52" y1="35.37" x2="251.3" y2="35.37" stroke="#ee8888" stroke-width="0.7" opacity="0.30"/>
<line x1="235.14" y1="42.16" x2="251.3" y2="42.16" stroke="#ee8888" stroke-width="0.7" opacity="0.38"/>
<line x1="235.49" y1="48.96" x2="251.3" y2="48.96" stroke="#ee8888" stroke-width="0.7" opacity="0.36"/>
<line x1="239.88" y1="53.79" x2="251.3" y2="53.79" stroke="#ee8888" stroke-width="0.7" opacity="0.17"/>
<line x1="239.49" y1="58.95" x2="251.3" y2="58.95" stroke="#ee8888" stroke-width="0.7" opacity="0.17"/>
<line x1="239.27" y1="63.75" x2="251.3" y2="63.75" stroke="#ee8888" stroke-width="0.7" opacity="0.16"/>
<line x1="234.24" y1="68.67" x2="251.3" y2="68.67" stroke="#ee8888" stroke-width="0.7" opacity="0.32"/>
<line x1="234.36" y1="74.89" x2="251.3" y2="74.89" stroke="#ee8888" stroke-width="0.7" opacity="0.55"/>
<line x1="235.63" y1="81.22" x2="251.3" y2="81.22" stroke="#ee8888" stroke-width="0.7" opacity="0.62"/>
<line x1="236.55" y1="88.40" x2="251.3" y2="88.40" stroke="#ee8888" stroke-width="0.7" opacity="0.51"/>
<line x1="237.74" y1="92.52" x2="251.3" y2="92.52" stroke="#ee8888" stroke-width="0.7" opacity="0.16"/>
<line x1="234.61" y1="97.18" x2="251.3" y2="97.18" stroke="#ee8888" stroke-width="0.7" opacity="0.39"/>
<line x1="237.25" y1="102.69" x2="251.3" y2="102.69" stroke="#ee8888" stroke-width="0.7" opacity="0.15"/>
<line x1="234.43" y1="107.45" x2="251.3" y2="107.45" stroke="#ee8888" stroke-width="0.7" opacity="0.42"/>
<line x1="234.52" y1="110.57" x2="251.3" y2="110.57" stroke="#ee8888" stroke-width="0.7" opacity="0.19"/>
<line x1="238.06" y1="116.64" x2="251.3" y2="116.64" stroke="#ee8888" stroke-width="0.7" opacity="0.42"/>
<line x1="237.30" y1="121.83" x2="251.3" y2="121.83" stroke="#ee8888" stroke-width="0.7" opacity="0.31"/>
<line x1="237.79" y1="128.88" x2="251.3" y2="128.88" stroke="#ee8888" stroke-width="0.7" opacity="0.28"/>
<line x1="236.24" y1="135.20" x2="251.3" y2="135.20" stroke="#ee8888" stroke-width="0.7" opacity="0.28"/>
<line x1="236.87" y1="140.85" x2="251.3" y2="140.85" stroke="#ee8888" stroke-width="0.7" opacity="0.61"/>
<line x1="235.26" y1="143.69" x2="251.3" y2="143.69" stroke="#ee8888" stroke-width="0.7" opacity="0.16"/>
<line x1="236.06" y1="149.35" x2="251.3" y2="149.35" stroke="#ee8888" stroke-width="0.7" opacity="0.52"/>
<line x1="238.47" y1="152.46" x2="251.3" y2="152.46" stroke="#ee8888" stroke-width="0.7" opacity="0.36"/>
<line x1="239.03" y1="157.33" x2="251.3" y2="157.33" stroke="#ee8888" stroke-width="0.7" opacity="0.44"/>
<line x1="234.45" y1="161.11" x2="251.3" y2="161.11" stroke="#ee8888" stroke-width="0.7" opacity="0.50"/>
<line x1="234.72" y1="164.04" x2="251.3" y2="164.04" stroke="#ee8888" stroke-width="0.7" opacity="0.33"/>
<line x1="238.86" y1="169.07" x2="251.3" y2="169.07" stroke="#ee8888" stroke-width="0.7" opacity="0.53"/>
<line x1="237.74" y1="174.36" x2="251.3" y2="174.36" stroke="#ee8888" stroke-width="0.7" opacity="0.33"/>
<line x1="238.61" y1="180.08" x2="251.3" y2="180.08" stroke="#ee8888" stroke-width="0.7" opacity="0.60"/>
</g>
<g clip-path="url(#clipBbox)">
<rect x="251.3" y="34.0" width="79.00" height="78.40" fill="#fd2316"/>
<rect x="330.3" y="112.4" width="68.10" height="68.10" fill="#fd2316"/>
<pattern id="speck" width="43" height="47" patternUnits="userSpaceOnUse"><rect x="0" y="29" width="1" height="1" fill="#ffdcd8" opacity="0.54"/><rect x="0" y="38" width="1" height="1" fill="#ffdcd8" opacity="0.42"/><rect x="1" y="14" width="1" height="1" fill="#ffdcd8" opacity="0.92"/><rect x="1" y="23" width="1" height="1" fill="#ffdcd8" opacity="0.63"/><rect x="1" y="40" width="1" height="1" fill="#ffdcd8" opacity="0.84"/><rect x="1" y="43" width="1" height="1" fill="#ffdcd8" opacity="0.51"/><rect x="2" y="17" width="1" height="1" fill="#ffdcd8" opacity="0.53"/><rect x="2" y="28" width="1" height="1" fill="#ffdcd8" opacity="0.58"/><rect x="2" y="33" width="1" height="1" fill="#ffdcd8" opacity="0.94"/><rect x="3" y="6" width="1" height="1" fill="#ffdcd8" opacity="0.43"/><rect x="3" y="7" width="1" height="1" fill="#ffdcd8" opacity="0.76"/><rect x="3" y="13" width="1" height="1" fill="#ffdcd8" opacity="0.49"/><rect x="3" y="14" width="1" height="1" fill="#ffdcd8" opacity="0.42"/><rect x="3" y="16" width="1" height="1" fill="#ffdcd8" opacity="0.90"/><rect x="3" y="25" width="1" height="1" fill="#ffdcd8" opacity="0.59"/><rect x="3" y="31" width="1" height="1" fill="#ffdcd8" opacity="0.55"/><rect x="3" y="46" width="1" height="1" fill="#ffdcd8" opacity="0.78"/><rect x="4" y="18" width="1" height="1" fill="#ffdcd8" opacity="0.89"/><rect x="4" y="37" width="1" height="1" fill="#ffdcd8" opacity="0.46"/><rect x="5" y="0" width="1" height="1" fill="#ffdcd8" opacity="0.47"/><rect x="5" y="2" width="1" height="1" fill="#ffdcd8" opacity="0.58"/><rect x="5" y="10" width="1" height="1" fill="#ffdcd8" opacity="0.75"/><rect x="5" y="33" width="1" height="1" fill="#ffdcd8" opacity="0.79"/><rect x="5" y="40" width="1" height="1" fill="#ffdcd8" opacity="0.42"/><rect x="5" y="44" width="1" height="1" fill="#ffdcd8" opacity="0.77"/><rect x="5" y="46" width="1" height="1" fill="#ffdcd8" opacity="0.53"/><rect x="6" y="2" width="1" height="1" fill="#ffdcd8" opacity="0.90"/><rect x="6" y="12" width="1" height="1" fill="#ffdcd8" opacity="0.83"/><rect x="6" y="13" width="1" height="1" fill="#ffdcd8" opacity="0.67"/><rect x="6" y="15" width="1" height="1" fill="#ffdcd8" opacity="0.50"/><rect x="6" y="18" width="1" height="1" fill="#ffdcd8" opacity="0.89"/><rect x="6" y="23" width="1" height="1" fill="#ffdcd8" opacity="0.37"/><rect x="6" y="38" width="1" height="1" fill="#ffdcd8" opacity="0.88"/><rect x="6" y="42" width="1" height="1" fill="#ffdcd8" opacity="0.88"/><rect x="6" y="43" width="1" height="1" fill="#ffdcd8" opacity="0.41"/><rect x="7" y="2" width="1" height="1" fill="#ffdcd8" opacity="0.77"/><rect x="7" y="24" width="1" height="1" fill="#ffdcd8" opacity="0.94"/><rect x="7" y="28" width="1" height="1" fill="#ffdcd8" opacity="0.71"/><rect x="7" y="32" width="1" height="1" fill="#ffdcd8" opacity="0.52"/><rect x="7" y="40" width="1" height="1" fill="#ffdcd8" opacity="0.63"/><rect x="8" y="12" width="1" height="1" fill="#ffdcd8" opacity="0.71"/><rect x="8" y="23" width="1" height="1" fill="#ffdcd8" opacity="0.71"/><rect x="8" y="29" width="1" height="1" fill="#ffdcd8" opacity="0.65"/><rect x="8" y="42" width="1" height="1" fill="#ffdcd8" opacity="0.54"/><rect x="9" y="0" width="1" height="1" fill="#ffdcd8" opacity="0.84"/><rect x="9" y="3" width="1" height="1" fill="#ffdcd8" opacity="0.76"/><rect x="9" y="6" width="1" height="1" fill="#ffdcd8" opacity="0.60"/><rect x="9" y="10" width="1" height="1" fill="#ffdcd8" opacity="0.64"/><rect x="9" y="13" width="1" height="1" fill="#ffdcd8" opacity="0.62"/><rect x="9" y="15" width="1" height="1" fill="#ffdcd8" opacity="0.49"/><rect x="9" y="17" width="1" height="1" fill="#ffdcd8" opacity="0.59"/><rect x="9" y="20" width="1" height="1" fill="#ffdcd8" opacity="0.37"/><rect x="9" y="24" width="1" height="1" fill="#ffdcd8" opacity="0.50"/><rect x="9" y="33" width="1" height="1" fill="#ffdcd8" opacity="0.59"/><rect x="9" y="35" width="1" height="1" fill="#ffdcd8" opacity="0.56"/><rect x="10" y="2" width="1" height="1" fill="#ffdcd8" opacity="0.47"/><rect x="10" y="3" width="1" height="1" fill="#ffdcd8" opacity="0.63"/><rect x="10" y="11" width="1" height="1" fill="#ffdcd8" opacity="0.76"/><rect x="10" y="14" width="1" height="1" fill="#ffdcd8" opacity="0.46"/><rect x="10" y="21" width="1" height="1" fill="#ffdcd8" opacity="0.91"/><rect x="10" y="26" width="1" height="1" fill="#ffdcd8" opacity="0.54"/><rect x="10" y="28" width="1" height="1" fill="#ffdcd8" opacity="0.88"/><rect x="10" y="32" width="1" height="1" fill="#ffdcd8" opacity="0.59"/><rect x="10" y="33" width="1" height="1" fill="#ffdcd8" opacity="0.37"/><rect x="10" y="36" width="1" height="1" fill="#ffdcd8" opacity="0.54"/><rect x="10" y="39" width="1" height="1" fill="#ffdcd8" opacity="0.77"/><rect x="10" y="43" width="1" height="1" fill="#ffdcd8" opacity="0.47"/><rect x="11" y="6" width="1" height="1" fill="#ffdcd8" opacity="0.36"/><rect x="11" y="21" width="1" height="1" fill="#ffdcd8" opacity="0.61"/><rect x="11" y="23" width="1" height="1" fill="#ffdcd8" opacity="0.58"/><rect x="11" y="33" width="1" height="1" fill="#ffdcd8" opacity="0.56"/><rect x="11" y="40" width="1" height="1" fill="#ffdcd8" opacity="0.58"/><rect x="11" y="42" width="1" height="1" fill="#ffdcd8" opacity="0.59"/><rect x="11" y="43" width="1" height="1" fill="#ffdcd8" opacity="0.65"/><rect x="12" y="1" width="1" height="1" fill="#ffdcd8" opacity="0.56"/><rect x="12" y="23" width="1" height="1" fill="#ffdcd8" opacity="0.43"/><rect x="12" y="33" width="1" height="1" fill="#ffdcd8" opacity="0.68"/><rect x="14" y="2" width="1" height="1" fill="#ffdcd8" opacity="0.58"/><rect x="14" y="6" width="1" height="1" fill="#ffdcd8" opacity="0.70"/><rect x="14" y="9" width="1" height="1" fill="#ffdcd8" opacity="0.76"/><rect x="14" y="15" width="1" height="1" fill="#ffdcd8" opacity="0.78"/><rect x="14" y="16" width="1" height="1" fill="#ffdcd8" opacity="0.38"/><rect x="14" y="22" width="1" height="1" fill="#ffdcd8" opacity="0.68"/><rect x="14" y="37" width="1" height="1" fill="#ffdcd8" opacity="0.46"/><rect x="14" y="38" width="1" height="1" fill="#ffdcd8" opacity="0.91"/><rect x="14" y="41" width="1" height="1" fill="#ffdcd8" opacity="0.54"/><rect x="14" y="42" width="1" height="1" fill="#ffdcd8" opacity="0.69"/><rect x="14" y="43" width="1" height="1" fill="#ffdcd8" opacity="0.73"/><rect x="15" y="2" width="1" height="1" fill="#ffdcd8" opacity="0.39"/><rect x="15" y="15" width="1" height="1" fill="#ffdcd8" opacity="0.68"/><rect x="15" y="26" width="1" height="1" fill="#ffdcd8" opacity="0.45"/><rect x="15" y="33" width="1" height="1" fill="#ffdcd8" opacity="0.48"/><rect x="15" y="35" width="1" height="1" fill="#ffdcd8" opacity="0.67"/><rect x="16" y="3" width="1" height="1" fill="#ffdcd8" opacity="0.70"/><rect x="16" y="27" width="1" height="1" fill="#ffdcd8" opacity="0.65"/><rect x="17" y="15" width="1" height="1" fill="#ffdcd8" opacity="0.85"/><rect x="17" y="25" width="1" height="1" fill="#ffdcd8" opacity="0.73"/><rect x="18" y="3" width="1" height="1" fill="#ffdcd8" opacity="0.87"/><rect x="18" y="13" width="1" height="1" fill="#ffdcd8" opacity="0.68"/><rect x="18" y="25" width="1" height="1" fill="#ffdcd8" opacity="0.37"/><rect x="18" y="29" width="1" height="1" fill="#ffdcd8" opacity="0.46"/><rect x="18" y="43" width="1" height="1" fill="#ffdcd8" opacity="0.55"/><rect x="19" y="2" width="1" height="1" fill="#ffdcd8" opacity="0.43"/><rect x="19" y="17" width="1" height="1" fill="#ffdcd8" opacity="0.73"/><rect x="19" y="39" width="1" height="1" fill="#ffdcd8" opacity="0.60"/><rect x="19" y="46" width="1" height="1" fill="#ffdcd8" opacity="0.60"/><rect x="20" y="19" width="1" height="1" fill="#ffdcd8" opacity="0.73"/><rect x="20" y="46" width="1" height="1" fill="#ffdcd8" opacity="0.74"/><rect x="21" y="6" width="1" height="1" fill="#ffdcd8" opacity="0.63"/><rect x="21" y="7" width="1" height="1" fill="#ffdcd8" opacity="0.87"/><rect x="21" y="10" width="1" height="1" fill="#ffdcd8" opacity="0.56"/><rect x="21" y="13" width="1" height="1" fill="#ffdcd8" opacity="0.82"/><rect x="21" y="18" width="1" height="1" fill="#ffdcd8" opacity="0.40"/><rect x="21" y="24" width="1" height="1" fill="#ffdcd8" opacity="0.48"/><rect x="21" y="29" width="1" height="1" fill="#ffdcd8" opacity="0.86"/><rect x="21" y="38" width="1" height="1" fill="#ffdcd8" opacity="0.44"/><rect x="21" y="42" width="1" height="1" fill="#ffdcd8" opacity="0.67"/><rect x="21" y="43" width="1" height="1" fill="#ffdcd8" opacity="0.42"/><rect x="22" y="1" width="1" height="1" fill="#ffdcd8" opacity="0.60"/><rect x="22" y="2" width="1" height="1" fill="#ffdcd8" opacity="0.51"/><rect x="22" y="3" width="1" height="1" fill="#ffdcd8" opacity="0.90"/><rect x="22" y="22" width="1" height="1" fill="#ffdcd8" opacity="0.85"/><rect x="22" y="35" width="1" height="1" fill="#ffdcd8" opacity="0.59"/><rect x="22" y="37" width="1" height="1" fill="#ffdcd8" opacity="0.71"/><rect x="23" y="2" width="1" height="1" fill="#ffdcd8" opacity="0.41"/><rect x="23" y="21" width="1" height="1" fill="#ffdcd8" opacity="0.72"/><rect x="23" y="25" width="1" height="1" fill="#ffdcd8" opacity="0.91"/><rect x="23" y="28" width="1" height="1" fill="#ffdcd8" opacity="0.79"/><rect x="23" y="33" width="1" height="1" fill="#ffdcd8" opacity="0.82"/><rect x="24" y="13" width="1" height="1" fill="#ffdcd8" opacity="0.61"/><rect x="24" y="21" width="1" height="1" fill="#ffdcd8" opacity="0.80"/><rect x="24" y="24" width="1" height="1" fill="#ffdcd8" opacity="0.56"/><rect x="24" y="43" width="1" height="1" fill="#ffdcd8" opacity="0.84"/><rect x="25" y="11" width="1" height="1" fill="#ffdcd8" opacity="0.77"/><rect x="25" y="39" width="1" height="1" fill="#ffdcd8" opacity="0.67"/><rect x="26" y="14" width="1" height="1" fill="#ffdcd8" opacity="0.91"/><rect x="26" y="32" width="1" height="1" fill="#ffdcd8" opacity="0.69"/><rect x="26" y="33" width="1" height="1" fill="#ffdcd8" opacity="0.94"/><rect x="26" y="38" width="1" height="1" fill="#ffdcd8" opacity="0.37"/><rect x="27" y="8" width="1" height="1" fill="#ffdcd8" opacity="0.64"/><rect x="27" y="12" width="1" height="1" fill="#ffdcd8" opacity="0.53"/><rect x="27" y="21" width="1" height="1" fill="#ffdcd8" opacity="0.64"/><rect x="27" y="30" width="1" height="1" fill="#ffdcd8" opacity="0.42"/><rect x="27" y="33" width="1" height="1" fill="#ffdcd8" opacity="0.37"/><rect x="27" y="40" width="1" height="1" fill="#ffdcd8" opacity="0.39"/><rect x="28" y="0" width="1" height="1" fill="#ffdcd8" opacity="0.81"/><rect x="28" y="29" width="1" height="1" fill="#ffdcd8" opacity="0.81"/><rect x="29" y="3" width="1" height="1" fill="#ffdcd8" opacity="0.65"/><rect x="29" y="18" width="1" height="1" fill="#ffdcd8" opacity="0.76"/><rect x="29" y="24" width="1" height="1" fill="#ffdcd8" opacity="0.51"/><rect x="29" y="26" width="1" height="1" fill="#ffdcd8" opacity="0.46"/><rect x="29" y="28" width="1" height="1" fill="#ffdcd8" opacity="0.53"/><rect x="29" y="37" width="1" height="1" fill="#ffdcd8" opacity="0.48"/><rect x="29" y="38" width="1" height="1" fill="#ffdcd8" opacity="0.54"/><rect x="30" y="8" width="1" height="1" fill="#ffdcd8" opacity="0.81"/><rect x="30" y="15" width="1" height="1" fill="#ffdcd8" opacity="0.48"/><rect x="30" y="21" width="1" height="1" fill="#ffdcd8" opacity="0.53"/><rect x="30" y="22" width="1" height="1" fill="#ffdcd8" opacity="0.51"/><rect x="31" y="12" width="1" height="1" fill="#ffdcd8" opacity="0.65"/><rect x="31" y="17" width="1" height="1" fill="#ffdcd8" opacity="0.65"/><rect x="31" y="23" width="1" height="1" fill="#ffdcd8" opacity="0.83"/><rect x="32" y="3" width="1" height="1" fill="#ffdcd8" opacity="0.84"/><rect x="32" y="7" width="1" height="1" fill="#ffdcd8" opacity="0.66"/><rect x="32" y="14" width="1" height="1" fill="#ffdcd8" opacity="0.75"/><rect x="32" y="15" width="1" height="1" fill="#ffdcd8" opacity="0.94"/><rect x="32" y="18" width="1" height="1" fill="#ffdcd8" opacity="0.77"/><rect x="32" y="22" width="1" height="1" fill="#ffdcd8" opacity="0.79"/><rect x="32" y="23" width="1" height="1" fill="#ffdcd8" opacity="0.87"/><rect x="32" y="33" width="1" height="1" fill="#ffdcd8" opacity="0.45"/><rect x="33" y="11" width="1" height="1" fill="#ffdcd8" opacity="0.87"/><rect x="33" y="21" width="1" height="1" fill="#ffdcd8" opacity="0.56"/><rect x="33" y="44" width="1" height="1" fill="#ffdcd8" opacity="0.44"/><rect x="34" y="12" width="1" height="1" fill="#ffdcd8" opacity="0.39"/><rect x="34" y="24" width="1" height="1" fill="#ffdcd8" opacity="0.78"/><rect x="34" y="26" width="1" height="1" fill="#ffdcd8" opacity="0.63"/><rect x="34" y="27" width="1" height="1" fill="#ffdcd8" opacity="0.39"/><rect x="35" y="34" width="1" height="1" fill="#ffdcd8" opacity="0.60"/><rect x="35" y="43" width="1" height="1" fill="#ffdcd8" opacity="0.70"/><rect x="36" y="26" width="1" height="1" fill="#ffdcd8" opacity="0.71"/><rect x="36" y="43" width="1" height="1" fill="#ffdcd8" opacity="0.57"/><rect x="37" y="2" width="1" height="1" fill="#ffdcd8" opacity="0.46"/><rect x="37" y="3" width="1" height="1" fill="#ffdcd8" opacity="0.40"/><rect x="37" y="9" width="1" height="1" fill="#ffdcd8" opacity="0.84"/><rect x="37" y="24" width="1" height="1" fill="#ffdcd8" opacity="0.48"/><rect x="37" y="26" width="1" height="1" fill="#ffdcd8" opacity="0.93"/><rect x="37" y="33" width="1" height="1" fill="#ffdcd8" opacity="0.56"/><rect x="37" y="35" width="1" height="1" fill="#ffdcd8" opacity="0.88"/><rect x="37" y="37" width="1" height="1" fill="#ffdcd8" opacity="0.57"/><rect x="37" y="40" width="1" height="1" fill="#ffdcd8" opacity="0.77"/><rect x="37" y="41" width="1" height="1" fill="#ffdcd8" opacity="0.85"/><rect x="37" y="44" width="1" height="1" fill="#ffdcd8" opacity="0.38"/><rect x="38" y="2" width="1" height="1" fill="#ffdcd8" opacity="0.41"/><rect x="38" y="3" width="1" height="1" fill="#ffdcd8" opacity="0.77"/><rect x="38" y="14" width="1" height="1" fill="#ffdcd8" opacity="0.53"/><rect x="38" y="16" width="1" height="1" fill="#ffdcd8" opacity="0.54"/><rect x="38" y="18" width="1" height="1" fill="#ffdcd8" opacity="0.42"/><rect x="38" y="37" width="1" height="1" fill="#ffdcd8" opacity="0.36"/><rect x="38" y="39" width="1" height="1" fill="#ffdcd8" opacity="0.83"/><rect x="38" y="42" width="1" height="1" fill="#ffdcd8" opacity="0.87"/><rect x="39" y="7" width="1" height="1" fill="#ffdcd8" opacity="0.50"/><rect x="39" y="15" width="1" height="1" fill="#ffdcd8" opacity="0.95"/><rect x="39" y="16" width="1" height="1" fill="#ffdcd8" opacity="0.44"/><rect x="39" y="19" width="1" height="1" fill="#ffdcd8" opacity="0.69"/><rect x="39" y="25" width="1" height="1" fill="#ffdcd8" opacity="0.63"/><rect x="39" y="34" width="1" height="1" fill="#ffdcd8" opacity="0.48"/><rect x="39" y="37" width="1" height="1" fill="#ffdcd8" opacity="0.81"/><rect x="39" y="41" width="1" height="1" fill="#ffdcd8" opacity="0.73"/><rect x="39" y="46" width="1" height="1" fill="#ffdcd8" opacity="0.37"/><rect x="40" y="3" width="1" height="1" fill="#ffdcd8" opacity="0.45"/><rect x="40" y="13" width="1" height="1" fill="#ffdcd8" opacity="0.69"/><rect x="40" y="25" width="1" height="1" fill="#ffdcd8" opacity="0.46"/><rect x="40" y="40" width="1" height="1" fill="#ffdcd8" opacity="0.37"/><rect x="41" y="8" width="1" height="1" fill="#ffdcd8" opacity="0.87"/><rect x="41" y="9" width="1" height="1" fill="#ffdcd8" opacity="0.46"/><rect x="41" y="16" width="1" height="1" fill="#ffdcd8" opacity="0.85"/><rect x="41" y="17" width="1" height="1" fill="#ffdcd8" opacity="0.45"/><rect x="41" y="18" width="1" height="1" fill="#ffdcd8" opacity="0.37"/><rect x="41" y="21" width="1" height="1" fill="#ffdcd8" opacity="0.38"/><rect x="41" y="25" width="1" height="1" fill="#ffdcd8" opacity="0.42"/><rect x="41" y="28" width="1" height="1" fill="#ffdcd8" opacity="0.47"/><rect x="41" y="39" width="1" height="1" fill="#ffdcd8" opacity="0.72"/><rect x="41" y="42" width="1" height="1" fill="#ffdcd8" opacity="0.88"/><rect x="42" y="6" width="1" height="1" fill="#ffdcd8" opacity="0.52"/><rect x="42" y="33" width="1" height="1" fill="#ffdcd8" opacity="0.82"/></pattern>
<linearGradient id="mL" x1="0" y1="0" x2="1" y2="0"><stop offset="0" stop-color="#fff" stop-opacity="0.95"/><stop offset="1" stop-color="#fff" stop-opacity="0"/></linearGradient>
<linearGradient id="mT" x1="0" y1="0" x2="0" y2="1"><stop offset="0" stop-color="#fff" stop-opacity="0.8"/><stop offset="1" stop-color="#fff" stop-opacity="0"/></linearGradient>
<linearGradient id="mR" x1="1" y1="0" x2="0" y2="0"><stop offset="0" stop-color="#fff" stop-opacity="0.95"/><stop offset="1" stop-color="#fff" stop-opacity="0"/></linearGradient>
<linearGradient id="mB" x1="0" y1="1" x2="0" y2="0"><stop offset="0" stop-color="#fff" stop-opacity="0.9"/><stop offset="1" stop-color="#fff" stop-opacity="0"/></linearGradient>
<mask id="maskTL" maskUnits="userSpaceOnUse" x="250" y="33" width="82" height="81">
<rect x="251.3" y="34.0" width="79.00" height="78.40" fill="#fff" opacity="0.05"/>
<rect x="251.3" y="34.0" width="30" height="78.40" fill="url(#mL)"/>
<rect x="251.3" y="34.0" width="79.00" height="13" fill="url(#mT)"/>
<rect x="251.3" y="92.4" width="46" height="20" fill="url(#mB)"/>
<rect x="297.3" y="103.4" width="20" height="9" fill="url(#mB)" opacity="0.6"/>
<rect x="287.3" y="34.0" width="40" height="26" fill="url(#mT)" opacity="0.5"/>
</mask>
<mask id="maskBR" maskUnits="userSpaceOnUse" x="329" y="111" width="71" height="71">
<rect x="330.3" y="112.4" width="68.10" height="68.10" fill="#fff" opacity="0.05"/>
<rect x="385.4" y="112.4" width="13" height="68.10" fill="url(#mR)"/>
<rect x="330.3" y="169.5" width="68.10" height="11" fill="url(#mB)"/>
<rect x="330.3" y="120.4" width="20" height="60.10" fill="url(#mL)" opacity="0.55"/>
<rect x="356.3" y="112.4" width="42.10" height="16" fill="url(#mT)" opacity="0.75"/>
</mask>
<rect x="330.3" y="34.0" width="68.10" height="78.40" fill="url(#speck)" opacity="0.3"/>
<rect x="251.3" y="112.4" width="79.00" height="68.10" fill="url(#speck)" opacity="0.3"/>
<rect x="251.3" y="34.0" width="79.00" height="78.40" fill="url(#speck)" mask="url(#maskTL)"/>
<rect x="330.3" y="112.4" width="68.10" height="68.10" fill="url(#speck)" mask="url(#maskBR)"/>
<line x1="254.40" y1="34.0" x2="254.40" y2="180.5" stroke="#ffe4e0" stroke-width="0.55" opacity="0.07"/>
<line x1="251.3" y1="37.09" x2="398.4" y2="37.09" stroke="#ffe4e0" stroke-width="0.55" opacity="0.07"/>
<line x1="256.68" y1="34.0" x2="256.68" y2="180.5" stroke="#ffe4e0" stroke-width="0.55" opacity="0.09"/>
<line x1="251.3" y1="39.36" x2="398.4" y2="39.36" stroke="#ffe4e0" stroke-width="0.55" opacity="0.09"/>
<line x1="257.39" y1="34.0" x2="257.39" y2="180.5" stroke="#ffe4e0" stroke-width="0.55" opacity="0.05"/>
<line x1="251.3" y1="40.07" x2="398.4" y2="40.07" stroke="#ffe4e0" stroke-width="0.55" opacity="0.05"/>
<line x1="258.10" y1="34.0" x2="258.10" y2="180.5" stroke="#ffe4e0" stroke-width="0.55" opacity="0.09"/>
<line x1="251.3" y1="40.78" x2="398.4" y2="40.78" stroke="#ffe4e0" stroke-width="0.55" opacity="0.09"/>
<line x1="259.59" y1="34.0" x2="259.59" y2="180.5" stroke="#ffe4e0" stroke-width="0.55" opacity="0.19"/>
<line x1="251.3" y1="42.25" x2="398.4" y2="42.25" stroke="#ffe4e0" stroke-width="0.55" opacity="0.19"/>
<line x1="262.09" y1="34.0" x2="262.09" y2="180.5" stroke="#ffe4e0" stroke-width="0.55" opacity="0.06"/>
<line x1="251.3" y1="44.75" x2="398.4" y2="44.75" stroke="#ffe4e0" stroke-width="0.55" opacity="0.06"/>
<line x1="264.82" y1="34.0" x2="264.82" y2="180.5" stroke="#ffe4e0" stroke-width="0.55" opacity="0.07"/>
<line x1="251.3" y1="47.47" x2="398.4" y2="47.47" stroke="#ffe4e0" stroke-width="0.55" opacity="0.07"/>
<line x1="266.89" y1="34.0" x2="266.89" y2="180.5" stroke="#ffe4e0" stroke-width="0.55" opacity="0.19"/>
<line x1="251.3" y1="49.52" x2="398.4" y2="49.52" stroke="#ffe4e0" stroke-width="0.55" opacity="0.19"/>
<line x1="270.01" y1="34.0" x2="270.01" y2="180.5" stroke="#ffe4e0" stroke-width="0.55" opacity="0.19"/>
<line x1="251.3" y1="52.64" x2="398.4" y2="52.64" stroke="#ffe4e0" stroke-width="0.55" opacity="0.19"/>
<line x1="271.91" y1="34.0" x2="271.91" y2="180.5" stroke="#ffe4e0" stroke-width="0.55" opacity="0.08"/>
<line x1="251.3" y1="54.52" x2="398.4" y2="54.52" stroke="#ffe4e0" stroke-width="0.55" opacity="0.08"/>
<line x1="273.74" y1="34.0" x2="273.74" y2="180.5" stroke="#ffe4e0" stroke-width="0.55" opacity="0.08"/>
<line x1="251.3" y1="56.35" x2="398.4" y2="56.35" stroke="#ffe4e0" stroke-width="0.55" opacity="0.08"/>
<line x1="276.54" y1="34.0" x2="276.54" y2="180.5" stroke="#ffe4e0" stroke-width="0.55" opacity="0.12"/>
<line x1="251.3" y1="59.14" x2="398.4" y2="59.14" stroke="#ffe4e0" stroke-width="0.55" opacity="0.12"/>
<line x1="279.18" y1="34.0" x2="279.18" y2="180.5" stroke="#ffe4e0" stroke-width="0.55" opacity="0.06"/>
<line x1="251.3" y1="61.77" x2="398.4" y2="61.77" stroke="#ffe4e0" stroke-width="0.55" opacity="0.06"/>
<line x1="282.10" y1="34.0" x2="282.10" y2="180.5" stroke="#ffe4e0" stroke-width="0.55" opacity="0.19"/>
<line x1="251.3" y1="64.67" x2="398.4" y2="64.67" stroke="#ffe4e0" stroke-width="0.55" opacity="0.19"/>
<line x1="283.38" y1="34.0" x2="283.38" y2="180.5" stroke="#ffe4e0" stroke-width="0.55" opacity="0.16"/>
<line x1="251.3" y1="65.95" x2="398.4" y2="65.95" stroke="#ffe4e0" stroke-width="0.55" opacity="0.16"/>
<line x1="284.54" y1="34.0" x2="284.54" y2="180.5" stroke="#ffe4e0" stroke-width="0.55" opacity="0.05"/>
<line x1="251.3" y1="67.11" x2="398.4" y2="67.11" stroke="#ffe4e0" stroke-width="0.55" opacity="0.05"/>
<line x1="286.42" y1="34.0" x2="286.42" y2="180.5" stroke="#ffe4e0" stroke-width="0.55" opacity="0.06"/>
<line x1="251.3" y1="68.97" x2="398.4" y2="68.97" stroke="#ffe4e0" stroke-width="0.55" opacity="0.06"/>
<line x1="289.19" y1="34.0" x2="289.19" y2="180.5" stroke="#ffe4e0" stroke-width="0.55" opacity="0.08"/>
<line x1="251.3" y1="71.73" x2="398.4" y2="71.73" stroke="#ffe4e0" stroke-width="0.55" opacity="0.08"/>
<line x1="291.80" y1="34.0" x2="291.80" y2="180.5" stroke="#ffe4e0" stroke-width="0.55" opacity="0.18"/>
<line x1="251.3" y1="74.33" x2="398.4" y2="74.33" stroke="#ffe4e0" stroke-width="0.55" opacity="0.18"/>
<line x1="292.67" y1="34.0" x2="292.67" y2="180.5" stroke="#ffe4e0" stroke-width="0.55" opacity="0.03"/>
<line x1="251.3" y1="75.20" x2="398.4" y2="75.20" stroke="#ffe4e0" stroke-width="0.55" opacity="0.03"/>
<line x1="294.69" y1="34.0" x2="294.69" y2="180.5" stroke="#ffe4e0" stroke-width="0.55" opacity="0.06"/>
<line x1="251.3" y1="77.21" x2="398.4" y2="77.21" stroke="#ffe4e0" stroke-width="0.55" opacity="0.06"/>
<line x1="302.27" y1="34.0" x2="302.27" y2="180.5" stroke="#ffe4e0" stroke-width="0.55" opacity="0.10"/>
<line x1="251.3" y1="84.76" x2="398.4" y2="84.76" stroke="#ffe4e0" stroke-width="0.55" opacity="0.10"/>
<line x1="307.91" y1="34.0" x2="307.91" y2="180.5" stroke="#ffe4e0" stroke-width="0.55" opacity="0.15"/>
<line x1="251.3" y1="90.37" x2="398.4" y2="90.37" stroke="#ffe4e0" stroke-width="0.55" opacity="0.15"/>
<line x1="312.30" y1="34.0" x2="312.30" y2="180.5" stroke="#ffe4e0" stroke-width="0.55" opacity="0.03"/>
<line x1="251.3" y1="94.75" x2="398.4" y2="94.75" stroke="#ffe4e0" stroke-width="0.55" opacity="0.03"/>
<line x1="318.59" y1="34.0" x2="318.59" y2="180.5" stroke="#ffe4e0" stroke-width="0.55" opacity="0.03"/>
<line x1="251.3" y1="101.02" x2="398.4" y2="101.02" stroke="#ffe4e0" stroke-width="0.55" opacity="0.03"/>
<line x1="321.98" y1="34.0" x2="321.98" y2="180.5" stroke="#ffe4e0" stroke-width="0.55" opacity="0.03"/>
<line x1="251.3" y1="104.39" x2="398.4" y2="104.39" stroke="#ffe4e0" stroke-width="0.55" opacity="0.03"/>
<line x1="324.88" y1="34.0" x2="324.88" y2="180.5" stroke="#ffe4e0" stroke-width="0.55" opacity="0.03"/>
<line x1="251.3" y1="107.28" x2="398.4" y2="107.28" stroke="#ffe4e0" stroke-width="0.55" opacity="0.03"/>
<line x1="330.40" y1="34.0" x2="330.40" y2="180.5" stroke="#ffe4e0" stroke-width="0.55" opacity="0.03"/>
<line x1="251.3" y1="112.78" x2="398.4" y2="112.78" stroke="#ffe4e0" stroke-width="0.55" opacity="0.03"/>
<line x1="336.43" y1="34.0" x2="336.43" y2="180.5" stroke="#ffe4e0" stroke-width="0.55" opacity="0.14"/>
<line x1="251.3" y1="118.78" x2="398.4" y2="118.78" stroke="#ffe4e0" stroke-width="0.55" opacity="0.14"/>
<line x1="339.51" y1="34.0" x2="339.51" y2="180.5" stroke="#ffe4e0" stroke-width="0.55" opacity="0.03"/>
<line x1="251.3" y1="121.85" x2="398.4" y2="121.85" stroke="#ffe4e0" stroke-width="0.55" opacity="0.03"/>
<line x1="344.28" y1="34.0" x2="344.28" y2="180.5" stroke="#ffe4e0" stroke-width="0.55" opacity="0.11"/>
<line x1="251.3" y1="126.60" x2="398.4" y2="126.60" stroke="#ffe4e0" stroke-width="0.55" opacity="0.11"/>
<line x1="350.15" y1="34.0" x2="350.15" y2="180.5" stroke="#ffe4e0" stroke-width="0.55" opacity="0.08"/>
<line x1="251.3" y1="132.45" x2="398.4" y2="132.45" stroke="#ffe4e0" stroke-width="0.55" opacity="0.08"/>
<line x1="354.46" y1="34.0" x2="354.46" y2="180.5" stroke="#ffe4e0" stroke-width="0.55" opacity="0.15"/>
<line x1="251.3" y1="136.74" x2="398.4" y2="136.74" stroke="#ffe4e0" stroke-width="0.55" opacity="0.15"/>
<line x1="359.26" y1="34.0" x2="359.26" y2="180.5" stroke="#ffe4e0" stroke-width="0.55" opacity="0.18"/>
<line x1="251.3" y1="141.52" x2="398.4" y2="141.52" stroke="#ffe4e0" stroke-width="0.55" opacity="0.18"/>
<line x1="362.04" y1="34.0" x2="362.04" y2="180.5" stroke="#ffe4e0" stroke-width="0.55" opacity="0.13"/>
<line x1="251.3" y1="144.29" x2="398.4" y2="144.29" stroke="#ffe4e0" stroke-width="0.55" opacity="0.13"/>
<line x1="366.61" y1="34.0" x2="366.61" y2="180.5" stroke="#ffe4e0" stroke-width="0.55" opacity="0.07"/>
<line x1="251.3" y1="148.84" x2="398.4" y2="148.84" stroke="#ffe4e0" stroke-width="0.55" opacity="0.07"/>
<line x1="367.96" y1="34.0" x2="367.96" y2="180.5" stroke="#ffe4e0" stroke-width="0.55" opacity="0.07"/>
<line x1="251.3" y1="150.18" x2="398.4" y2="150.18" stroke="#ffe4e0" stroke-width="0.55" opacity="0.07"/>
<line x1="370.62" y1="34.0" x2="370.62" y2="180.5" stroke="#ffe4e0" stroke-width="0.55" opacity="0.09"/>
<line x1="251.3" y1="152.83" x2="398.4" y2="152.83" stroke="#ffe4e0" stroke-width="0.55" opacity="0.09"/>
<line x1="374.55" y1="34.0" x2="374.55" y2="180.5" stroke="#ffe4e0" stroke-width="0.55" opacity="0.07"/>
<line x1="251.3" y1="156.75" x2="398.4" y2="156.75" stroke="#ffe4e0" stroke-width="0.55" opacity="0.07"/>
<line x1="376.15" y1="34.0" x2="376.15" y2="180.5" stroke="#ffe4e0" stroke-width="0.55" opacity="0.03"/>
<line x1="251.3" y1="158.34" x2="398.4" y2="158.34" stroke="#ffe4e0" stroke-width="0.55" opacity="0.03"/>
<line x1="380.59" y1="34.0" x2="380.59" y2="180.5" stroke="#ffe4e0" stroke-width="0.55" opacity="0.10"/>
<line x1="251.3" y1="162.76" x2="398.4" y2="162.76" stroke="#ffe4e0" stroke-width="0.55" opacity="0.10"/>
<line x1="387.01" y1="34.0" x2="387.01" y2="180.5" stroke="#ffe4e0" stroke-width="0.55" opacity="0.13"/>
<line x1="251.3" y1="169.16" x2="398.4" y2="169.16" stroke="#ffe4e0" stroke-width="0.55" opacity="0.13"/>
<line x1="389.81" y1="34.0" x2="389.81" y2="180.5" stroke="#ffe4e0" stroke-width="0.55" opacity="0.06"/>
<line x1="251.3" y1="171.94" x2="398.4" y2="171.94" stroke="#ffe4e0" stroke-width="0.55" opacity="0.06"/>
<line x1="393.72" y1="34.0" x2="393.72" y2="180.5" stroke="#ffe4e0" stroke-width="0.55" opacity="0.13"/>
<line x1="251.3" y1="175.84" x2="398.4" y2="175.84" stroke="#ffe4e0" stroke-width="0.55" opacity="0.13"/>
<line x1="397.06" y1="34.0" x2="397.06" y2="180.5" stroke="#ffe4e0" stroke-width="0.55" opacity="0.17"/>
<line x1="251.3" y1="179.16" x2="398.4" y2="179.16" stroke="#ffe4e0" stroke-width="0.55" opacity="0.17"/>
<line x1="400.86" y1="34.0" x2="400.86" y2="180.5" stroke="#ffe4e0" stroke-width="0.55" opacity="0.06"/>
<line x1="251.3" y1="182.95" x2="398.4" y2="182.95" stroke="#ffe4e0" stroke-width="0.55" opacity="0.06"/>
<rect x="259.14" y="41.80" width="0.9" height="0.9" fill="#fff" opacity="0.90"/>
<rect x="259.14" y="49.07" width="0.9" height="0.9" fill="#fff" opacity="0.90"/>
<rect x="259.14" y="52.19" width="0.9" height="0.9" fill="#fff" opacity="0.90"/>
<rect x="259.14" y="58.69" width="0.9" height="0.9" fill="#fff" opacity="0.59"/>
<rect x="259.14" y="64.22" width="0.9" height="0.9" fill="#fff" opacity="0.90"/>
<rect x="259.14" y="65.50" width="0.9" height="0.9" fill="#fff" opacity="0.90"/>
<rect x="259.14" y="73.88" width="0.9" height="0.9" fill="#fff" opacity="0.90"/>
<rect x="259.14" y="89.92" width="0.9" height="0.9" fill="#fff" opacity="0.81"/>
<rect x="259.14" y="118.33" width="0.9" height="0.9" fill="#fff" opacity="0.75"/>
<rect x="259.14" y="126.15" width="0.9" height="0.9" fill="#fff" opacity="0.58"/>
<rect x="259.14" y="136.29" width="0.9" height="0.9" fill="#fff" opacity="0.82"/>
<rect x="259.14" y="141.07" width="0.9" height="0.9" fill="#fff" opacity="0.90"/>
<rect x="259.14" y="143.84" width="0.9" height="0.9" fill="#fff" opacity="0.66"/>
<rect x="259.14" y="168.71" width="0.9" height="0.9" fill="#fff" opacity="0.69"/>
<rect x="259.14" y="175.39" width="0.9" height="0.9" fill="#fff" opacity="0.71"/>
<rect x="259.14" y="178.71" width="0.9" height="0.9" fill="#fff" opacity="0.90"/>
<rect x="266.44" y="41.80" width="0.9" height="0.9" fill="#fff" opacity="0.90"/>
<rect x="266.44" y="49.07" width="0.9" height="0.9" fill="#fff" opacity="0.90"/>
<rect x="266.44" y="52.19" width="0.9" height="0.9" fill="#fff" opacity="0.90"/>
<rect x="266.44" y="58.69" width="0.9" height="0.9" fill="#fff" opacity="0.59"/>
<rect x="266.44" y="64.22" width="0.9" height="0.9" fill="#fff" opacity="0.90"/>
<rect x="266.44" y="65.50" width="0.9" height="0.9" fill="#fff" opacity="0.90"/>
<rect x="266.44" y="73.88" width="0.9" height="0.9" fill="#fff" opacity="0.90"/>
<rect x="266.44" y="89.92" width="0.9" height="0.9" fill="#fff" opacity="0.81"/>
<rect x="266.44" y="118.33" width="0.9" height="0.9" fill="#fff" opacity="0.75"/>
<rect x="266.44" y="126.15" width="0.9" height="0.9" fill="#fff" opacity="0.58"/>
<rect x="266.44" y="136.29" width="0.9" height="0.9" fill="#fff" opacity="0.82"/>
<rect x="266.44" y="141.07" width="0.9" height="0.9" fill="#fff" opacity="0.90"/>
<rect x="266.44" y="143.84" width="0.9" height="0.9" fill="#fff" opacity="0.66"/>
<rect x="266.44" y="168.71" width="0.9" height="0.9" fill="#fff" opacity="0.69"/>
<rect x="266.44" y="175.39" width="0.9" height="0.9" fill="#fff" opacity="0.71"/>
<rect x="266.44" y="178.71" width="0.9" height="0.9" fill="#fff" opacity="0.90"/>
<rect x="269.56" y="41.80" width="0.9" height="0.9" fill="#fff" opacity="0.90"/>
<rect x="269.56" y="49.07" width="0.9" height="0.9" fill="#fff" opacity="0.90"/>
<rect x="269.56" y="52.19" width="0.9" height="0.9" fill="#fff" opacity="0.90"/>
<rect x="269.56" y="58.69" width="0.9" height="0.9" fill="#fff" opacity="0.59"/>
<rect x="269.56" y="64.22" width="0.9" height="0.9" fill="#fff" opacity="0.90"/>
<rect x="269.56" y="65.50" width="0.9" height="0.9" fill="#fff" opacity="0.90"/>
<rect x="269.56" y="73.88" width="0.9" height="0.9" fill="#fff" opacity="0.90"/>
<rect x="269.56" y="89.92" width="0.9" height="0.9" fill="#fff" opacity="0.81"/>
<rect x="269.56" y="118.33" width="0.9" height="0.9" fill="#fff" opacity="0.75"/>
<rect x="269.56" y="126.15" width="0.9" height="0.9" fill="#fff" opacity="0.58"/>
<rect x="269.56" y="136.29" width="0.9" height="0.9" fill="#fff" opacity="0.82"/>
<rect x="269.56" y="141.07" width="0.9" height="0.9" fill="#fff" opacity="0.90"/>
<rect x="269.56" y="143.84" width="0.9" height="0.9" fill="#fff" opacity="0.66"/>
<rect x="269.56" y="168.71" width="0.9" height="0.9" fill="#fff" opacity="0.69"/>
<rect x="269.56" y="175.39" width="0.9" height="0.9" fill="#fff" opacity="0.71"/>
<rect x="269.56" y="178.71" width="0.9" height="0.9" fill="#fff" opacity="0.90"/>
<rect x="276.09" y="41.80" width="0.9" height="0.9" fill="#fff" opacity="0.59"/>
<rect x="276.09" y="49.07" width="0.9" height="0.9" fill="#fff" opacity="0.59"/>
<rect x="276.09" y="52.19" width="0.9" height="0.9" fill="#fff" opacity="0.59"/>
<rect x="276.09" y="64.22" width="0.9" height="0.9" fill="#fff" opacity="0.59"/>
<rect x="276.09" y="73.88" width="0.9" height="0.9" fill="#fff" opacity="0.55"/>
<rect x="276.09" y="141.07" width="0.9" height="0.9" fill="#fff" opacity="0.56"/>
<rect x="281.65" y="41.80" width="0.9" height="0.9" fill="#fff" opacity="0.90"/>
<rect x="281.65" y="49.07" width="0.9" height="0.9" fill="#fff" opacity="0.90"/>
<rect x="281.65" y="52.19" width="0.9" height="0.9" fill="#fff" opacity="0.90"/>
<rect x="281.65" y="58.69" width="0.9" height="0.9" fill="#fff" opacity="0.59"/>
<rect x="281.65" y="64.22" width="0.9" height="0.9" fill="#fff" opacity="0.90"/>
<rect x="281.65" y="65.50" width="0.9" height="0.9" fill="#fff" opacity="0.90"/>
<rect x="281.65" y="73.88" width="0.9" height="0.9" fill="#fff" opacity="0.90"/>
<rect x="281.65" y="89.92" width="0.9" height="0.9" fill="#fff" opacity="0.81"/>
<rect x="281.65" y="118.33" width="0.9" height="0.9" fill="#fff" opacity="0.75"/>
<rect x="281.65" y="126.15" width="0.9" height="0.9" fill="#fff" opacity="0.58"/>
<rect x="281.65" y="136.29" width="0.9" height="0.9" fill="#fff" opacity="0.82"/>
<rect x="281.65" y="141.07" width="0.9" height="0.9" fill="#fff" opacity="0.90"/>
<rect x="281.65" y="143.84" width="0.9" height="0.9" fill="#fff" opacity="0.66"/>
<rect x="281.65" y="168.71" width="0.9" height="0.9" fill="#fff" opacity="0.69"/>
<rect x="281.65" y="175.39" width="0.9" height="0.9" fill="#fff" opacity="0.71"/>
<rect x="281.65" y="178.71" width="0.9" height="0.9" fill="#fff" opacity="0.90"/>
<rect x="282.93" y="41.80" width="0.9" height="0.9" fill="#fff" opacity="0.90"/>
<rect x="282.93" y="49.07" width="0.9" height="0.9" fill="#fff" opacity="0.90"/>
<rect x="282.93" y="52.19" width="0.9" height="0.9" fill="#fff" opacity="0.90"/>
<rect x="282.93" y="64.22" width="0.9" height="0.9" fill="#fff" opacity="0.90"/>
<rect x="282.93" y="65.50" width="0.9" height="0.9" fill="#fff" opacity="0.77"/>
<rect x="282.93" y="73.88" width="0.9" height="0.9" fill="#fff" opacity="0.86"/>
<rect x="282.93" y="89.92" width="0.9" height="0.9" fill="#fff" opacity="0.67"/>
<rect x="282.93" y="118.33" width="0.9" height="0.9" fill="#fff" opacity="0.62"/>
<rect x="282.93" y="136.29" width="0.9" height="0.9" fill="#fff" opacity="0.68"/>
<rect x="282.93" y="141.07" width="0.9" height="0.9" fill="#fff" opacity="0.87"/>
<rect x="282.93" y="143.84" width="0.9" height="0.9" fill="#fff" opacity="0.55"/>
<rect x="282.93" y="168.71" width="0.9" height="0.9" fill="#fff" opacity="0.58"/>
<rect x="282.93" y="175.39" width="0.9" height="0.9" fill="#fff" opacity="0.59"/>
<rect x="282.93" y="178.71" width="0.9" height="0.9" fill="#fff" opacity="0.78"/>
<rect x="291.35" y="41.80" width="0.9" height="0.9" fill="#fff" opacity="0.90"/>
<rect x="291.35" y="49.07" width="0.9" height="0.9" fill="#fff" opacity="0.90"/>
<rect x="291.35" y="52.19" width="0.9" height="0.9" fill="#fff" opacity="0.90"/>
<rect x="291.35" y="58.69" width="0.9" height="0.9" fill="#fff" opacity="0.55"/>
<rect x="291.35" y="64.22" width="0.9" height="0.9" fill="#fff" opacity="0.90"/>
<rect x="291.35" y="65.50" width="0.9" height="0.9" fill="#fff" opacity="0.86"/>
<rect x="291.35" y="73.88" width="0.9" height="0.9" fill="#fff" opacity="0.90"/>
<rect x="291.35" y="89.92" width="0.9" height="0.9" fill="#fff" opacity="0.76"/>
<rect x="291.35" y="118.33" width="0.9" height="0.9" fill="#fff" opacity="0.70"/>
<rect x="291.35" y="136.29" width="0.9" height="0.9" fill="#fff" opacity="0.77"/>
<rect x="291.35" y="141.07" width="0.9" height="0.9" fill="#fff" opacity="0.90"/>
<rect x="291.35" y="143.84" width="0.9" height="0.9" fill="#fff" opacity="0.62"/>
<rect x="291.35" y="168.71" width="0.9" height="0.9" fill="#fff" opacity="0.65"/>
<rect x="291.35" y="175.39" width="0.9" height="0.9" fill="#fff" opacity="0.67"/>
<rect x="291.35" y="178.71" width="0.9" height="0.9" fill="#fff" opacity="0.87"/>
<rect x="307.46" y="41.80" width="0.9" height="0.9" fill="#fff" opacity="0.81"/>
<rect x="307.46" y="49.07" width="0.9" height="0.9" fill="#fff" opacity="0.81"/>
<rect x="307.46" y="52.19" width="0.9" height="0.9" fill="#fff" opacity="0.81"/>
<rect x="307.46" y="64.22" width="0.9" height="0.9" fill="#fff" opacity="0.81"/>
<rect x="307.46" y="65.50" width="0.9" height="0.9" fill="#fff" opacity="0.67"/>
<rect x="307.46" y="73.88" width="0.9" height="0.9" fill="#fff" opacity="0.76"/>
<rect x="307.46" y="89.92" width="0.9" height="0.9" fill="#fff" opacity="0.59"/>
<rect x="307.46" y="136.29" width="0.9" height="0.9" fill="#fff" opacity="0.60"/>
<rect x="307.46" y="141.07" width="0.9" height="0.9" fill="#fff" opacity="0.77"/>
<rect x="307.46" y="178.71" width="0.9" height="0.9" fill="#fff" opacity="0.68"/>
<rect x="335.98" y="41.80" width="0.9" height="0.9" fill="#fff" opacity="0.75"/>
<rect x="335.98" y="49.07" width="0.9" height="0.9" fill="#fff" opacity="0.75"/>
<rect x="335.98" y="52.19" width="0.9" height="0.9" fill="#fff" opacity="0.75"/>
<rect x="335.98" y="64.22" width="0.9" height="0.9" fill="#fff" opacity="0.75"/>
<rect x="335.98" y="65.50" width="0.9" height="0.9" fill="#fff" opacity="0.62"/>
<rect x="335.98" y="73.88" width="0.9" height="0.9" fill="#fff" opacity="0.70"/>
<rect x="335.98" y="136.29" width="0.9" height="0.9" fill="#fff" opacity="0.56"/>
<rect x="335.98" y="141.07" width="0.9" height="0.9" fill="#fff" opacity="0.71"/>
<rect x="335.98" y="178.71" width="0.9" height="0.9" fill="#fff" opacity="0.63"/>
<rect x="343.83" y="41.80" width="0.9" height="0.9" fill="#fff" opacity="0.58"/>
<rect x="343.83" y="49.07" width="0.9" height="0.9" fill="#fff" opacity="0.58"/>
<rect x="343.83" y="52.19" width="0.9" height="0.9" fill="#fff" opacity="0.58"/>
<rect x="343.83" y="64.22" width="0.9" height="0.9" fill="#fff" opacity="0.58"/>
<rect x="343.83" y="141.07" width="0.9" height="0.9" fill="#fff" opacity="0.55"/>
<rect x="354.01" y="41.80" width="0.9" height="0.9" fill="#fff" opacity="0.82"/>
<rect x="354.01" y="49.07" width="0.9" height="0.9" fill="#fff" opacity="0.82"/>
<rect x="354.01" y="52.19" width="0.9" height="0.9" fill="#fff" opacity="0.82"/>
<rect x="354.01" y="64.22" width="0.9" height="0.9" fill="#fff" opacity="0.82"/>
<rect x="354.01" y="65.50" width="0.9" height="0.9" fill="#fff" opacity="0.68"/>
<rect x="354.01" y="73.88" width="0.9" height="0.9" fill="#fff" opacity="0.77"/>
<rect x="354.01" y="89.92" width="0.9" height="0.9" fill="#fff" opacity="0.60"/>
<rect x="354.01" y="118.33" width="0.9" height="0.9" fill="#fff" opacity="0.56"/>
<rect x="354.01" y="136.29" width="0.9" height="0.9" fill="#fff" opacity="0.61"/>
<rect x="354.01" y="141.07" width="0.9" height="0.9" fill="#fff" opacity="0.78"/>
<rect x="354.01" y="178.71" width="0.9" height="0.9" fill="#fff" opacity="0.69"/>
<rect x="358.81" y="41.80" width="0.9" height="0.9" fill="#fff" opacity="0.90"/>
<rect x="358.81" y="49.07" width="0.9" height="0.9" fill="#fff" opacity="0.90"/>
<rect x="358.81" y="52.19" width="0.9" height="0.9" fill="#fff" opacity="0.90"/>
<rect x="358.81" y="58.69" width="0.9" height="0.9" fill="#fff" opacity="0.56"/>
<rect x="358.81" y="64.22" width="0.9" height="0.9" fill="#fff" opacity="0.90"/>
<rect x="358.81" y="65.50" width="0.9" height="0.9" fill="#fff" opacity="0.87"/>
<rect x="358.81" y="73.88" width="0.9" height="0.9" fill="#fff" opacity="0.90"/>
<rect x="358.81" y="89.92" width="0.9" height="0.9" fill="#fff" opacity="0.77"/>
<rect x="358.81" y="118.33" width="0.9" height="0.9" fill="#fff" opacity="0.71"/>
<rect x="358.81" y="126.15" width="0.9" height="0.9" fill="#fff" opacity="0.55"/>
<rect x="358.81" y="136.29" width="0.9" height="0.9" fill="#fff" opacity="0.78"/>
<rect x="358.81" y="141.07" width="0.9" height="0.9" fill="#fff" opacity="0.90"/>
<rect x="358.81" y="143.84" width="0.9" height="0.9" fill="#fff" opacity="0.63"/>
<rect x="358.81" y="168.71" width="0.9" height="0.9" fill="#fff" opacity="0.66"/>
<rect x="358.81" y="175.39" width="0.9" height="0.9" fill="#fff" opacity="0.68"/>
<rect x="358.81" y="178.71" width="0.9" height="0.9" fill="#fff" opacity="0.89"/>
<rect x="361.59" y="41.80" width="0.9" height="0.9" fill="#fff" opacity="0.66"/>
<rect x="361.59" y="49.07" width="0.9" height="0.9" fill="#fff" opacity="0.66"/>
<rect x="361.59" y="52.19" width="0.9" height="0.9" fill="#fff" opacity="0.66"/>
<rect x="361.59" y="64.22" width="0.9" height="0.9" fill="#fff" opacity="0.66"/>
<rect x="361.59" y="65.50" width="0.9" height="0.9" fill="#fff" opacity="0.55"/>
<rect x="361.59" y="73.88" width="0.9" height="0.9" fill="#fff" opacity="0.62"/>
<rect x="361.59" y="141.07" width="0.9" height="0.9" fill="#fff" opacity="0.63"/>
<rect x="361.59" y="178.71" width="0.9" height="0.9" fill="#fff" opacity="0.56"/>
<rect x="386.56" y="41.80" width="0.9" height="0.9" fill="#fff" opacity="0.69"/>
<rect x="386.56" y="49.07" width="0.9" height="0.9" fill="#fff" opacity="0.69"/>
<rect x="386.56" y="52.19" width="0.9" height="0.9" fill="#fff" opacity="0.69"/>
<rect x="386.56" y="64.22" width="0.9" height="0.9" fill="#fff" opacity="0.69"/>
<rect x="386.56" y="65.50" width="0.9" height="0.9" fill="#fff" opacity="0.58"/>
<rect x="386.56" y="73.88" width="0.9" height="0.9" fill="#fff" opacity="0.65"/>
<rect x="386.56" y="141.07" width="0.9" height="0.9" fill="#fff" opacity="0.66"/>
<rect x="386.56" y="178.71" width="0.9" height="0.9" fill="#fff" opacity="0.59"/>
<rect x="393.27" y="41.80" width="0.9" height="0.9" fill="#fff" opacity="0.71"/>
<rect x="393.27" y="49.07" width="0.9" height="0.9" fill="#fff" opacity="0.71"/>
<rect x="393.27" y="52.19" width="0.9" height="0.9" fill="#fff" opacity="0.71"/>
<rect x="393.27" y="64.22" width="0.9" height="0.9" fill="#fff" opacity="0.71"/>
<rect x="393.27" y="65.50" width="0.9" height="0.9" fill="#fff" opacity="0.59"/>
<rect x="393.27" y="73.88" width="0.9" height="0.9" fill="#fff" opacity="0.67"/>
<rect x="393.27" y="141.07" width="0.9" height="0.9" fill="#fff" opacity="0.68"/>
<rect x="393.27" y="178.71" width="0.9" height="0.9" fill="#fff" opacity="0.60"/>
<rect x="396.61" y="41.80" width="0.9" height="0.9" fill="#fff" opacity="0.90"/>
<rect x="396.61" y="49.07" width="0.9" height="0.9" fill="#fff" opacity="0.90"/>
<rect x="396.61" y="52.19" width="0.9" height="0.9" fill="#fff" opacity="0.90"/>
<rect x="396.61" y="64.22" width="0.9" height="0.9" fill="#fff" opacity="0.90"/>
<rect x="396.61" y="65.50" width="0.9" height="0.9" fill="#fff" opacity="0.78"/>
<rect x="396.61" y="73.88" width="0.9" height="0.9" fill="#fff" opacity="0.87"/>
<rect x="396.61" y="89.92" width="0.9" height="0.9" fill="#fff" opacity="0.68"/>
<rect x="396.61" y="118.33" width="0.9" height="0.9" fill="#fff" opacity="0.63"/>
<rect x="396.61" y="136.29" width="0.9" height="0.9" fill="#fff" opacity="0.69"/>
<rect x="396.61" y="141.07" width="0.9" height="0.9" fill="#fff" opacity="0.89"/>
<rect x="396.61" y="143.84" width="0.9" height="0.9" fill="#fff" opacity="0.56"/>
<rect x="396.61" y="168.71" width="0.9" height="0.9" fill="#fff" opacity="0.59"/>
<rect x="396.61" y="175.39" width="0.9" height="0.9" fill="#fff" opacity="0.60"/>
<rect x="396.61" y="178.71" width="0.9" height="0.9" fill="#fff" opacity="0.79"/>
<line x1="306.4" y1="34.0" x2="306.4" y2="112.4" stroke="#ff9a90" stroke-width="0.5" opacity="0.8"/>
<line x1="251.3" y1="88.8" x2="330.3" y2="88.8" stroke="#ff9a90" stroke-width="0.5" opacity="0.8"/>
</g>
<rect x="234.0" y="20.5" width="16.6" height="13.0" fill="#f2221a"/>
<line x1="234.0" y1="31.9" x2="250.6" y2="31.9" stroke="#8fd24a" stroke-width="0.6"/>
<line x1="248" y1="20.5" x2="248" y2="33.5" stroke="#b5b040" stroke-width="0.6"/>
<line x1="401.0" y1="20.5" x2="401.0" y2="186.2" stroke="#e98080" stroke-width="0.6" opacity="0.55"/>
<line x1="405.4" y1="20.5" x2="405.4" y2="186.2" stroke="#e98080" stroke-width="0.6" opacity="0.6"/>
<line x1="413.0" y1="20.5" x2="413.0" y2="186.2" stroke="#e98080" stroke-width="0.6" opacity="0.25"/>
<line x1="409.5" y1="20.5" x2="409.5" y2="186.2" stroke="#e98080" stroke-width="0.6" opacity="0.15"/>
<line x1="234.0" y1="183.2" x2="398.4" y2="183.2" stroke="#e98080" stroke-width="0.6" opacity="0.5"/>
<rect x="251.3" y="34.0" width="147.10" height="146.50" fill="none" stroke="#3a34d0" stroke-width="0.8"/>
<line x1="251.3" y1="20.5" x2="251.3" y2="34.0" stroke="#3a34d0" stroke-width="0.8"/>
<line x1="234.0" y1="34.0" x2="251.3" y2="34.0" stroke="#7a50c0" stroke-width="0.6" opacity="0.6"/>
<line x1="330.3" y1="34.0" x2="330.3" y2="180.5" stroke="#7fdc4a" stroke-width="0.9"/>
<line x1="251.3" y1="112.4" x2="398.4" y2="112.4" stroke="#7fdc4a" stroke-width="0.9"/>
<path d="M347.6 97.9 L335.5 107.8" stroke="#45e0d0" stroke-width="1.0" stroke-linecap="round"/><path d="M331.4 111.2 L334.0 106.3 L336.9 109.7 Z" fill="#45e0d0" stroke="#45e0d0" stroke-width="0.4" stroke-linejoin="round"/>
<path d="M398.4 180.5 L401.4 183.8" stroke="#5a3a90" stroke-width="1"/>
</g>
<g id="panelC">
<path d="M515.91 22.90 A85.5 85.5 0 0 1 562.84 22.28 Q541.53 90.61 515.91 22.90 Z" fill="#9b6b22"/>
<path d="M554.38 189.16 A85.5 85.5 0 0 1 526.66 189.18 Q540.38 120.03 554.38 189.16 Z" fill="#6e6e6e"/>
<path d="M547.60 190.00 A85.5 85.5 0 0 1 533.59 190.02 Q540.30 126.99 547.60 190.00 Z" fill="#8e8e8e"/>
<path d="M563.70 187.08 A85.5 85.5 0 0 1 555.03 189.05 C548.47 142.15 528.14 141.20 518.06 187.32 A85.5 85.5 0 0 0 526.01 189.07 C532.51 142.26 553.24 141.16 563.70 187.08 Z" fill="#c9a2f8" fill-rule="nonzero"/>
<path d="M571.76 184.36 A85.5 85.5 0 0 1 564.33 186.90 C553.59 141.42 523.46 140.11 509.56 184.52 A85.5 85.5 0 0 0 517.43 187.14 C527.79 141.51 557.67 139.98 571.76 184.36 Z" fill="#d242f2" fill-rule="nonzero"/>
<path d="M581.22 179.95 A85.5 85.5 0 0 1 572.37 184.12 C558.00 141.24 518.10 138.98 499.81 180.02 A85.5 85.5 0 0 0 508.95 184.28 C523.12 141.28 562.87 138.90 581.22 179.95 Z" fill="#a222ee" fill-rule="nonzero"/>
<path d="M590.44 174.16 A85.5 85.5 0 0 1 581.80 179.64 C563.19 140.48 513.29 137.71 491.07 174.60 A85.5 85.5 0 0 0 499.23 179.71 C517.78 140.68 567.94 137.63 590.44 174.16 Z" fill="#d2fbff" fill-rule="nonzero"/>
<path d="M597.97 168.06 A85.5 85.5 0 0 1 590.97 173.78 C568.24 137.80 509.00 134.82 483.26 168.36 A85.5 85.5 0 0 0 490.53 174.22 C513.00 137.98 572.09 134.59 597.97 168.06 Z" fill="#84f2ff" fill-rule="nonzero"/>
<path d="M605.54 160.24 A85.5 85.5 0 0 1 598.45 167.61 C572.35 135.02 504.76 131.09 475.55 160.46 A85.5 85.5 0 0 0 482.78 167.92 C508.73 135.15 576.25 130.93 605.54 160.24 Z" fill="#9cc6f9" fill-rule="nonzero"/>
<path d="M612.06 151.52 A85.5 85.5 0 0 1 605.97 159.74 C576.48 130.33 501.11 125.88 468.92 151.64 A85.5 85.5 0 0 0 475.13 159.96 C504.52 130.41 579.83 125.76 612.06 151.52 Z" fill="#6a90f2" fill-rule="nonzero"/>
<path d="M617.54 141.77 A85.5 85.5 0 0 1 612.42 150.97 C580.03 127.41 498.08 122.43 463.42 141.90 A85.5 85.5 0 0 0 468.57 151.09 C500.91 127.49 582.85 122.36 617.54 141.77 Z" fill="#1c12e8" fill-rule="nonzero"/>
<path d="M621.80 131.11 A85.5 85.5 0 0 1 617.83 141.18 C583.01 122.96 495.94 118.12 459.52 132.38 A85.5 85.5 0 0 0 463.14 141.31 C497.93 123.54 585.19 117.92 621.80 131.11 Z" fill="#3f801c" fill-rule="nonzero"/>
<path d="M624.43 120.85 A85.5 85.5 0 0 1 622.00 130.48 C585.30 120.57 494.37 115.84 456.67 121.88 A85.5 85.5 0 0 0 459.31 131.76 C495.82 121.17 586.64 115.16 624.43 120.85 Z" fill="#62ef1e" fill-rule="nonzero"/>
<path d="M625.82 109.45 A85.5 85.5 0 0 1 624.55 120.21 C586.71 115.09 493.52 109.66 455.13 110.35 A85.5 85.5 0 0 0 456.54 121.23 C494.30 115.59 587.41 109.11 625.82 109.45 Z" fill="#d4f53e" fill-rule="nonzero"/>
<path d="M625.70 98.27 A85.5 85.5 0 0 1 625.86 108.80 C587.42 104.59 493.54 99.04 455.17 98.72 A85.5 85.5 0 0 0 455.09 109.69 C493.50 104.88 587.34 98.60 625.70 98.27 Z" fill="#f6f552" fill-rule="nonzero"/>
<path d="M623.86 86.03 A85.5 85.5 0 0 1 625.65 97.62 C587.31 100.13 494.45 94.32 456.81 87.05 A85.5 85.5 0 0 0 455.22 98.06 C493.57 100.63 586.33 94.01 623.86 86.03 Z" fill="#eccb3e" fill-rule="nonzero"/>
<path d="M619.96 73.35 A85.5 85.5 0 0 1 623.72 85.39 C586.25 95.56 496.30 90.05 460.17 75.38 A85.5 85.5 0 0 0 456.95 86.41 C494.53 96.56 584.18 89.38 619.96 73.35 Z" fill="#ee9c30" fill-rule="nonzero"/>
<path d="M614.62 62.27 A85.5 85.5 0 0 1 619.71 72.74 C584.04 89.81 499.35 84.59 465.73 63.24 A85.5 85.5 0 0 0 460.40 74.76 C496.42 90.46 581.24 83.59 614.62 62.27 Z" fill="#f6cfd2" fill-rule="nonzero"/>
<path d="M607.10 51.25 A85.5 85.5 0 0 1 614.29 61.70 C581.06 85.43 502.93 80.78 472.24 53.25 A85.5 85.5 0 0 0 466.05 62.67 C499.53 86.42 577.11 80.14 607.10 51.25 Z" fill="#ff42fa" fill-rule="nonzero"/>
<path d="M599.11 42.60 A85.5 85.5 0 0 1 606.69 50.74 C576.88 81.38 507.54 77.53 480.61 43.73 A85.5 85.5 0 0 0 472.64 52.73 C503.15 82.10 572.71 76.53 599.11 42.60 Z" fill="#fc2412" fill-rule="nonzero"/>
<path d="M588.53 34.10 A85.5 85.5 0 0 1 598.63 42.15 C572.45 76.42 512.80 72.85 490.17 35.65 A85.5 85.5 0 0 0 481.08 43.28 C507.80 77.23 566.90 72.18 588.53 34.10 Z" fill="#d22416" fill-rule="nonzero"/>
<path d="M576.48 27.26 A85.5 85.5 0 0 1 587.99 33.73 Q541.55 88.70 490.70 35.26 A85.5 85.5 0 0 1 502.41 28.23 Q541.46 90.65 576.48 27.26 Z" fill="#9aa43c"/>
<path d="M563.47 22.46 A85.5 85.5 0 0 1 575.88 26.99 Q541.46 90.34 503.00 27.94 A85.5 85.5 0 0 1 515.28 23.09 Q541.52 91.83 563.47 22.46 Z" fill="#6b7a1f"/>
<path d="M594.64 38.67 C570.26 74.73 510.68 74.71 486.32 38.62" fill="none" stroke="#fff" stroke-width="0.35" opacity="0.60"/>
<path d="M595.90 39.72 C570.95 75.27 511.33 74.14 487.50 37.67" fill="none" stroke="#fff" stroke-width="0.35" opacity="0.68"/>
<path d="M604.36 48.01 C575.60 79.86 506.05 79.04 477.90 46.51" fill="none" stroke="#fff" stroke-width="0.35" opacity="0.67"/>
<path d="M600.32 43.76 C573.38 77.29 503.77 81.43 473.77 51.29" fill="none" stroke="#fff" stroke-width="0.35" opacity="0.49"/>
<path d="M613.16 59.81 C580.44 84.54 502.30 81.79 471.09 54.81" fill="none" stroke="#fff" stroke-width="0.35" opacity="0.56"/>
<path d="M612.95 59.47 C580.32 84.38 502.19 81.97 470.88 55.10" fill="none" stroke="#fff" stroke-width="0.35" opacity="0.35"/>
<path d="M617.23 67.18 C582.68 86.60 497.70 87.69 462.73 69.17" fill="none" stroke="#fff" stroke-width="0.35" opacity="0.40"/>
<path d="M617.51 67.76 C582.83 86.94 497.87 87.36 463.02 68.53" fill="none" stroke="#fff" stroke-width="0.35" opacity="0.53"/>
<path d="M620.60 75.02 C584.53 90.25 494.72 95.66 457.31 84.84" fill="none" stroke="#fff" stroke-width="0.35" opacity="0.39"/>
<path d="M621.43 77.35 C584.99 91.48 495.03 94.39 457.87 82.65" fill="none" stroke="#fff" stroke-width="0.35" opacity="0.67"/>
<path d="M625.27 94.07 C587.10 98.28 494.10 96.24 456.18 90.37" fill="none" stroke="#fff" stroke-width="0.35" opacity="0.36"/>
<path d="M625.31 94.35 C587.12 98.42 494.12 96.09 456.22 90.11" fill="none" stroke="#fff" stroke-width="0.35" opacity="0.36"/>
<path d="M625.95 104.45 C587.47 102.12 493.43 101.45 454.96 103.25" fill="none" stroke="#fff" stroke-width="0.35" opacity="0.35"/>
<path d="M625.79 99.63 C587.39 99.38 493.46 104.12 455.02 108.26" fill="none" stroke="#fff" stroke-width="0.35" opacity="0.65"/>
<path d="M625.60 112.53 C587.28 110.81 494.00 113.90 456.00 118.16" fill="none" stroke="#fff" stroke-width="0.35" opacity="0.39"/>
<path d="M624.81 118.69 C586.85 114.23 493.59 110.50 455.25 111.90" fill="none" stroke="#fff" stroke-width="0.35" opacity="0.65"/>
<path d="M623.72 124.18 C586.25 117.01 495.25 119.33 458.27 128.41" fill="none" stroke="#fff" stroke-width="0.35" opacity="0.68"/>
<path d="M623.28 125.98 C586.01 118.01 494.97 118.34 457.77 126.57" fill="none" stroke="#fff" stroke-width="0.35" opacity="0.57"/>
<path d="M620.81 133.98 C584.65 119.32 497.32 122.00 462.03 138.86" fill="none" stroke="#fff" stroke-width="0.35" opacity="0.68"/>
<path d="M619.40 137.63 C583.87 121.14 496.59 120.04 460.70 135.62" fill="none" stroke="#fff" stroke-width="0.35" opacity="0.69"/>
<path d="M613.57 149.11 C580.67 126.35 498.62 123.46 464.39 143.86" fill="none" stroke="#fff" stroke-width="0.35" opacity="0.42"/>
<path d="M615.64 145.49 C581.81 124.34 499.72 125.46 466.39 147.52" fill="none" stroke="#fff" stroke-width="0.35" opacity="0.37"/>
<path d="M610.71 153.52 C579.09 126.82 503.67 129.32 473.57 158.07" fill="none" stroke="#fff" stroke-width="0.35" opacity="0.33"/>
<path d="M610.03 154.49 C578.72 127.34 503.26 128.79 472.83 157.12" fill="none" stroke="#fff" stroke-width="0.35" opacity="0.54"/>
<path d="M604.67 161.24 C575.77 131.44 508.18 134.61 481.78 167.00" fill="none" stroke="#fff" stroke-width="0.35" opacity="0.57"/>
<path d="M602.96 163.13 C574.83 132.45 507.16 133.58 479.93 165.19" fill="none" stroke="#fff" stroke-width="0.35" opacity="0.42"/>
<path d="M592.85 172.36 C569.27 136.94 510.01 135.62 485.10 169.97" fill="none" stroke="#fff" stroke-width="0.35" opacity="0.49"/>
<path d="M595.51 170.21 C570.73 135.72 511.51 136.81 487.83 172.19" fill="none" stroke="#fff" stroke-width="0.35" opacity="0.49"/>
<path d="M584.87 177.85 C564.88 139.46 514.81 138.70 493.84 176.47" fill="none" stroke="#fff" stroke-width="0.35" opacity="0.32"/>
<path d="M583.10 178.90 C563.91 140.05 513.92 138.12 492.21 175.39" fill="none" stroke="#fff" stroke-width="0.35" opacity="0.31"/>
<path d="M575.19 182.92 C559.56 140.46 519.64 139.67 502.62 181.48" fill="none" stroke="#fff" stroke-width="0.35" opacity="0.64"/>
<path d="M580.01 180.60 C562.21 139.21 522.40 140.94 507.63 183.75" fill="none" stroke="#fff" stroke-width="0.35" opacity="0.62"/>
<path d="M568.83 185.45 C556.06 140.52 526.05 140.93 514.26 186.19" fill="none" stroke="#fff" stroke-width="0.35" opacity="0.53"/>
<path d="M570.82 184.72 C557.16 140.15 527.22 141.32 516.40 186.85" fill="none" stroke="#fff" stroke-width="0.35" opacity="0.32"/>
<path d="M561.47 187.68 C552.01 141.39 531.37 141.95 523.94 188.69" fill="none" stroke="#fff" stroke-width="0.35" opacity="0.68"/>
<path d="M561.37 187.70 C551.95 141.40 531.32 141.94 523.85 188.67" fill="none" stroke="#fff" stroke-width="0.35" opacity="0.60"/>
<path d="M540.95 19.30 Q541.28 35.93 542.19 52.56" fill="none" stroke="#e9d9b5" stroke-width="0.35" opacity="0.71"/>
<path d="M538.76 19.32 Q539.19 33.92 538.44 48.52" fill="none" stroke="#e9d9b5" stroke-width="0.35" opacity="0.84"/>
<path d="M528.33 20.16 Q534.95 37.63 542.21 55.09" fill="none" stroke="#e9d9b5" stroke-width="0.35" opacity="0.74"/>
<path d="M540.78 19.30 Q540.22 33.03 539.48 46.76" fill="none" stroke="#e9d9b5" stroke-width="0.35" opacity="0.62"/>
<path d="M532.27 19.69 Q534.81 37.46 538.75 55.22" fill="none" stroke="#e9d9b5" stroke-width="0.35" opacity="0.78"/>
<path d="M541.90 19.31 Q541.26 37.41 538.68 55.51" fill="none" stroke="#e9d9b5" stroke-width="0.35" opacity="0.71"/>
<path d="M533.53 19.58 Q536.93 34.82 539.02 50.06" fill="none" stroke="#e9d9b5" stroke-width="0.35" opacity="0.68"/>
<path d="M533.75 19.56 Q535.04 33.20 538.20 46.84" fill="none" stroke="#e9d9b5" stroke-width="0.35" opacity="0.70"/>
<path d="M531.88 189.87 Q536.33 177.32 538.97 164.78" fill="none" stroke="#c4c4c4" stroke-width="0.4" opacity="0.75"/>
<path d="M533.15 189.99 Q535.31 175.60 538.88 161.21" fill="none" stroke="#c4c4c4" stroke-width="0.4" opacity="0.84"/>
<path d="M545.65 190.14 Q543.66 179.07 540.26 167.99" fill="none" stroke="#c4c4c4" stroke-width="0.4" opacity="0.89"/>
<path d="M541.63 190.29 Q540.97 177.52 540.40 164.75" fill="none" stroke="#c4c4c4" stroke-width="0.4" opacity="0.62"/>
<path d="M542.89 190.27 Q541.94 175.39 539.04 160.52" fill="none" stroke="#c4c4c4" stroke-width="0.4" opacity="0.88"/>
<path d="M537.23 190.24 Q538.02 175.15 540.45 160.06" fill="none" stroke="#c4c4c4" stroke-width="0.4" opacity="0.61"/>
<path d="M533.30 190.00 Q538.18 175.17 541.92 160.34" fill="none" stroke="#c4c4c4" stroke-width="0.4" opacity="0.81"/>
<path d="M535.52 190.16 Q538.04 177.64 541.11 165.12" fill="none" stroke="#c4c4c4" stroke-width="0.4" opacity="0.78"/>
<path d="M546.01 190.12 Q543.58 177.68 540.39 165.24" fill="none" stroke="#c4c4c4" stroke-width="0.4" opacity="0.62"/>
<path d="M540.77 13.70 A91.1 91.1 0 0 1 564.18 16.85" fill="none" stroke="#222" stroke-width="3.10"/>
<path d="M540.77 13.70 A91.1 91.1 0 0 1 564.18 16.85" fill="none" stroke="#a87424" stroke-width="1.90"/>
<path d="M565.10 17.10 A91.1 91.1 0 0 1 578.08 21.84" fill="none" stroke="#222" stroke-width="3.10"/>
<path d="M565.10 17.10 A91.1 91.1 0 0 1 578.08 21.84" fill="none" stroke="#6f7e20" stroke-width="1.90"/>
<path d="M578.95 22.24 A91.1 91.1 0 0 1 591.00 29.01" fill="none" stroke="#222" stroke-width="3.10"/>
<path d="M578.95 22.24 A91.1 91.1 0 0 1 591.00 29.01" fill="none" stroke="#a0aa3e" stroke-width="1.90"/>
<path d="M591.79 29.54 A91.1 91.1 0 0 1 602.35 37.96" fill="none" stroke="#222" stroke-width="3.10"/>
<path d="M591.79 29.54 A91.1 91.1 0 0 1 602.35 37.96" fill="none" stroke="#d62818" stroke-width="1.90"/>
<path d="M603.04 38.61 A91.1 91.1 0 0 1 610.95 47.10" fill="none" stroke="#222" stroke-width="3.10"/>
<path d="M603.04 38.61 A91.1 91.1 0 0 1 610.95 47.10" fill="none" stroke="#fb2614" stroke-width="1.90"/>
<path d="M611.55 47.84 A91.1 91.1 0 0 1 619.07 58.77" fill="none" stroke="#222" stroke-width="3.10"/>
<path d="M611.55 47.84 A91.1 91.1 0 0 1 619.07 58.77" fill="none" stroke="#ff46fa" stroke-width="1.90"/>
<path d="M619.54 59.59 A91.1 91.1 0 0 1 624.86 70.53" fill="none" stroke="#222" stroke-width="3.10"/>
<path d="M619.54 59.59 A91.1 91.1 0 0 1 624.86 70.53" fill="none" stroke="#f2c6ca" stroke-width="1.90"/>
<path d="M625.21 71.41 A91.1 91.1 0 0 1 629.14 84.00" fill="none" stroke="#222" stroke-width="3.10"/>
<path d="M625.21 71.41 A91.1 91.1 0 0 1 629.14 84.00" fill="none" stroke="#ee9c30" stroke-width="1.90"/>
<path d="M629.36 84.93 A91.1 91.1 0 0 1 631.22 97.02" fill="none" stroke="#222" stroke-width="3.10"/>
<path d="M629.36 84.93 A91.1 91.1 0 0 1 631.22 97.02" fill="none" stroke="#ecd040" stroke-width="1.90"/>
<path d="M631.29 97.97 A91.1 91.1 0 0 1 631.46 108.93" fill="none" stroke="#222" stroke-width="3.10"/>
<path d="M631.29 97.97 A91.1 91.1 0 0 1 631.46 108.93" fill="none" stroke="#f2f250" stroke-width="1.90"/>
<path d="M631.41 109.89 A91.1 91.1 0 0 1 630.08 121.09" fill="none" stroke="#222" stroke-width="3.10"/>
<path d="M631.41 109.89 A91.1 91.1 0 0 1 630.08 121.09" fill="none" stroke="#d0f040" stroke-width="1.90"/>
<path d="M629.91 122.03 A91.1 91.1 0 0 1 627.38 132.04" fill="none" stroke="#222" stroke-width="3.10"/>
<path d="M629.91 122.03 A91.1 91.1 0 0 1 627.38 132.04" fill="none" stroke="#66ee22" stroke-width="1.90"/>
<path d="M627.09 132.95 A91.1 91.1 0 0 1 622.95 143.44" fill="none" stroke="#222" stroke-width="3.10"/>
<path d="M627.09 132.95 A91.1 91.1 0 0 1 622.95 143.44" fill="none" stroke="#42841e" stroke-width="1.90"/>
<path d="M622.54 144.31 A91.1 91.1 0 0 1 617.20 153.88" fill="none" stroke="#222" stroke-width="3.10"/>
<path d="M622.54 144.31 A91.1 91.1 0 0 1 617.20 153.88" fill="none" stroke="#201ae6" stroke-width="1.90"/>
<path d="M616.68 154.68 A91.1 91.1 0 0 1 610.34 163.24" fill="none" stroke="#222" stroke-width="3.10"/>
<path d="M616.68 154.68 A91.1 91.1 0 0 1 610.34 163.24" fill="none" stroke="#6a90f2" stroke-width="1.90"/>
<path d="M609.72 163.96 A91.1 91.1 0 0 1 602.35 171.64" fill="none" stroke="#222" stroke-width="3.10"/>
<path d="M609.72 163.96 A91.1 91.1 0 0 1 602.35 171.64" fill="none" stroke="#9cc6f9" stroke-width="1.90"/>
<path d="M601.64 172.29 A91.1 91.1 0 0 1 594.38 178.22" fill="none" stroke="#222" stroke-width="3.10"/>
<path d="M601.64 172.29 A91.1 91.1 0 0 1 594.38 178.22" fill="none" stroke="#84f2ff" stroke-width="1.90"/>
<path d="M593.61 178.78 A91.1 91.1 0 0 1 584.62 184.48" fill="none" stroke="#222" stroke-width="3.10"/>
<path d="M593.61 178.78 A91.1 91.1 0 0 1 584.62 184.48" fill="none" stroke="#c8f6fa" stroke-width="1.90"/>
<path d="M583.78 184.94 A91.1 91.1 0 0 1 574.58 189.27" fill="none" stroke="#222" stroke-width="3.10"/>
<path d="M583.78 184.94 A91.1 91.1 0 0 1 574.58 189.27" fill="none" stroke="#a222ee" stroke-width="1.90"/>
<path d="M573.69 189.62 A91.1 91.1 0 0 1 566.02 192.24" fill="none" stroke="#222" stroke-width="3.10"/>
<path d="M573.69 189.62 A91.1 91.1 0 0 1 566.02 192.24" fill="none" stroke="#d242f2" stroke-width="1.90"/>
<path d="M565.10 192.50 A91.1 91.1 0 0 1 556.11 194.54" fill="none" stroke="#222" stroke-width="3.10"/>
<path d="M565.10 192.50 A91.1 91.1 0 0 1 556.11 194.54" fill="none" stroke="#c9a2f8" stroke-width="1.90"/>
<path d="M555.17 194.70 A91.1 91.1 0 0 1 548.86 195.51" fill="none" stroke="#222" stroke-width="3.10"/>
<path d="M555.17 194.70 A91.1 91.1 0 0 1 548.86 195.51" fill="none" stroke="#777" stroke-width="1.90"/>
<path d="M547.91 195.59 A91.1 91.1 0 0 1 541.56 195.89" fill="none" stroke="#222" stroke-width="3.10"/>
<path d="M547.91 195.59 A91.1 91.1 0 0 1 541.56 195.89" fill="none" stroke="#999" stroke-width="1.90"/>
<path d="M539.34 13.71 A91.1 91.1 0 0 0 527.77 14.59" fill="none" stroke="#222" stroke-width="3.10"/>
<path d="M539.34 13.71 A91.1 91.1 0 0 0 527.77 14.59" fill="none" stroke="#3fe620" stroke-width="1.90"/>
<path d="M526.83 14.72 A91.1 91.1 0 0 0 514.42 17.50" fill="none" stroke="#222" stroke-width="3.10"/>
<path d="M526.83 14.72 A91.1 91.1 0 0 0 514.42 17.50" fill="none" stroke="#e62a1a" stroke-width="1.90"/>
<path d="M513.51 17.77 A91.1 91.1 0 0 0 500.66 22.85" fill="none" stroke="#222" stroke-width="3.10"/>
<path d="M513.51 17.77 A91.1 91.1 0 0 0 500.66 22.85" fill="none" stroke="#c88a2a" stroke-width="1.90"/>
<path d="M499.80 23.27 A91.1 91.1 0 0 0 487.55 30.63" fill="none" stroke="#222" stroke-width="3.10"/>
<path d="M499.80 23.27 A91.1 91.1 0 0 0 487.55 30.63" fill="none" stroke="#9aa43c" stroke-width="1.90"/>
<path d="M486.77 31.19 A91.1 91.1 0 0 0 477.28 39.16" fill="none" stroke="#222" stroke-width="3.10"/>
<path d="M486.77 31.19 A91.1 91.1 0 0 0 477.28 39.16" fill="none" stroke="#8e9630" stroke-width="1.90"/>
<path d="M476.60 39.82 A91.1 91.1 0 0 0 468.27 49.22" fill="none" stroke="#222" stroke-width="3.10"/>
<path d="M476.60 39.82 A91.1 91.1 0 0 0 468.27 49.22" fill="none" stroke="#f0e040" stroke-width="1.90"/>
<path d="M467.69 49.97 A91.1 91.1 0 0 0 461.24 59.80" fill="none" stroke="#222" stroke-width="3.10"/>
<path d="M467.69 49.97 A91.1 91.1 0 0 0 461.24 59.80" fill="none" stroke="#f03020" stroke-width="1.90"/>
<path d="M460.77 60.63 A91.1 91.1 0 0 0 455.20 72.67" fill="none" stroke="#222" stroke-width="3.10"/>
<path d="M460.77 60.63 A91.1 91.1 0 0 0 455.20 72.67" fill="none" stroke="#f0a030" stroke-width="1.90"/>
<path d="M454.87 73.57 A91.1 91.1 0 0 0 451.51 85.08" fill="none" stroke="#222" stroke-width="3.10"/>
<path d="M454.87 73.57 A91.1 91.1 0 0 0 451.51 85.08" fill="none" stroke="#ff46fa" stroke-width="1.90"/>
<path d="M451.31 86.01 A91.1 91.1 0 0 0 449.64 97.49" fill="none" stroke="#222" stroke-width="3.10"/>
<path d="M451.31 86.01 A91.1 91.1 0 0 0 449.64 97.49" fill="none" stroke="#f2c6ca" stroke-width="1.90"/>
<path d="M449.57 98.45 A91.1 91.1 0 0 0 449.49 109.89" fill="none" stroke="#222" stroke-width="3.10"/>
<path d="M449.57 98.45 A91.1 91.1 0 0 0 449.49 109.89" fill="none" stroke="#d8e040" stroke-width="1.90"/>
<path d="M449.55 110.84 A91.1 91.1 0 0 0 451.02 122.18" fill="none" stroke="#222" stroke-width="3.10"/>
<path d="M449.55 110.84 A91.1 91.1 0 0 0 451.02 122.18" fill="none" stroke="#c8e83c" stroke-width="1.90"/>
<path d="M451.21 123.12 A91.1 91.1 0 0 0 453.96 133.40" fill="none" stroke="#222" stroke-width="3.10"/>
<path d="M451.21 123.12 A91.1 91.1 0 0 0 453.96 133.40" fill="none" stroke="#8ad020" stroke-width="1.90"/>
<path d="M454.26 134.31 A91.1 91.1 0 0 0 458.02 143.59" fill="none" stroke="#222" stroke-width="3.10"/>
<path d="M454.26 134.31 A91.1 91.1 0 0 0 458.02 143.59" fill="none" stroke="#42841e" stroke-width="1.90"/>
<path d="M458.43 144.45 A91.1 91.1 0 0 0 463.79 154.02" fill="none" stroke="#222" stroke-width="3.10"/>
<path d="M458.43 144.45 A91.1 91.1 0 0 0 463.79 154.02" fill="none" stroke="#201ae6" stroke-width="1.90"/>
<path d="M464.31 154.82 A91.1 91.1 0 0 0 470.77 163.48" fill="none" stroke="#222" stroke-width="3.10"/>
<path d="M464.31 154.82 A91.1 91.1 0 0 0 470.77 163.48" fill="none" stroke="#6a90f2" stroke-width="1.90"/>
<path d="M471.38 164.21 A91.1 91.1 0 0 0 478.90 171.97" fill="none" stroke="#222" stroke-width="3.10"/>
<path d="M471.38 164.21 A91.1 91.1 0 0 0 478.90 171.97" fill="none" stroke="#9cc6f9" stroke-width="1.90"/>
<path d="M479.61 172.61 A91.1 91.1 0 0 0 487.16 178.69" fill="none" stroke="#222" stroke-width="3.10"/>
<path d="M479.61 172.61 A91.1 91.1 0 0 0 487.16 178.69" fill="none" stroke="#84f2ff" stroke-width="1.90"/>
<path d="M487.94 179.24 A91.1 91.1 0 0 0 496.42 184.55" fill="none" stroke="#222" stroke-width="3.10"/>
<path d="M487.94 179.24 A91.1 91.1 0 0 0 496.42 184.55" fill="none" stroke="#c8f6fa" stroke-width="1.90"/>
<path d="M497.26 185.01 A91.1 91.1 0 0 0 506.77 189.44" fill="none" stroke="#222" stroke-width="3.10"/>
<path d="M497.26 185.01 A91.1 91.1 0 0 0 506.77 189.44" fill="none" stroke="#a222ee" stroke-width="1.90"/>
<path d="M507.65 189.79 A91.1 91.1 0 0 0 515.80 192.50" fill="none" stroke="#222" stroke-width="3.10"/>
<path d="M507.65 189.79 A91.1 91.1 0 0 0 515.80 192.50" fill="none" stroke="#d242f2" stroke-width="1.90"/>
<path d="M516.72 192.75 A91.1 91.1 0 0 0 524.94 194.57" fill="none" stroke="#222" stroke-width="3.10"/>
<path d="M516.72 192.75 A91.1 91.1 0 0 0 524.94 194.57" fill="none" stroke="#c9a2f8" stroke-width="1.90"/>
<path d="M525.88 194.73 A91.1 91.1 0 0 0 532.04 195.51" fill="none" stroke="#222" stroke-width="3.10"/>
<path d="M525.88 194.73 A91.1 91.1 0 0 0 532.04 195.51" fill="none" stroke="#888" stroke-width="1.90"/>
<path d="M532.99 195.59 A91.1 91.1 0 0 0 539.34 195.89" fill="none" stroke="#222" stroke-width="3.10"/>
<path d="M532.99 195.59 A91.1 91.1 0 0 0 539.34 195.89" fill="none" stroke="#999" stroke-width="1.90"/>
<line x1="540.45" y1="12.20" x2="540.45" y2="11.00" stroke="#222" stroke-width="0.3"/>
<line x1="542.95" y1="12.23" x2="542.99" y2="11.03" stroke="#222" stroke-width="0.3"/>
<line x1="545.46" y1="12.34" x2="545.52" y2="11.14" stroke="#222" stroke-width="0.3"/>
<line x1="547.96" y1="12.50" x2="548.05" y2="11.31" stroke="#222" stroke-width="0.3"/>
<line x1="550.45" y1="12.74" x2="550.58" y2="11.55" stroke="#222" stroke-width="0.3"/>
<line x1="552.94" y1="13.05" x2="553.10" y2="11.86" stroke="#222" stroke-width="0.3"/>
<line x1="555.41" y1="13.42" x2="555.61" y2="12.23" stroke="#222" stroke-width="0.3"/>
<line x1="557.88" y1="13.86" x2="558.11" y2="12.68" stroke="#222" stroke-width="0.3"/>
<line x1="560.33" y1="14.36" x2="560.59" y2="13.19" stroke="#222" stroke-width="0.3"/>
<line x1="562.77" y1="14.93" x2="563.06" y2="13.77" stroke="#222" stroke-width="0.3"/>
<line x1="565.20" y1="15.57" x2="565.52" y2="14.41" stroke="#222" stroke-width="0.3"/>
<line x1="567.60" y1="16.27" x2="567.95" y2="15.12" stroke="#222" stroke-width="0.3"/>
<line x1="569.99" y1="17.04" x2="570.37" y2="15.90" stroke="#222" stroke-width="0.3"/>
<line x1="572.35" y1="17.87" x2="572.76" y2="16.74" stroke="#222" stroke-width="0.3"/>
<line x1="574.69" y1="18.76" x2="575.13" y2="17.65" stroke="#222" stroke-width="0.3"/>
<line x1="577.00" y1="19.72" x2="577.48" y2="18.62" stroke="#222" stroke-width="0.3"/>
<line x1="579.29" y1="20.74" x2="579.79" y2="19.65" stroke="#222" stroke-width="0.3"/>
<line x1="581.55" y1="21.82" x2="582.08" y2="20.75" stroke="#222" stroke-width="0.3"/>
<line x1="583.78" y1="22.96" x2="584.34" y2="21.90" stroke="#222" stroke-width="0.3"/>
<line x1="585.98" y1="24.17" x2="586.57" y2="23.12" stroke="#222" stroke-width="0.3"/>
<line x1="588.14" y1="25.43" x2="588.76" y2="24.40" stroke="#222" stroke-width="0.3"/>
<line x1="590.27" y1="26.75" x2="590.92" y2="25.73" stroke="#222" stroke-width="0.3"/>
<line x1="592.37" y1="28.12" x2="593.04" y2="27.13" stroke="#222" stroke-width="0.3"/>
<line x1="594.42" y1="29.55" x2="595.12" y2="28.58" stroke="#222" stroke-width="0.3"/>
<line x1="596.44" y1="31.04" x2="597.16" y2="30.09" stroke="#222" stroke-width="0.3"/>
<line x1="598.41" y1="32.58" x2="599.16" y2="31.65" stroke="#222" stroke-width="0.3"/>
<line x1="600.34" y1="34.18" x2="601.12" y2="33.26" stroke="#222" stroke-width="0.3"/>
<line x1="602.23" y1="35.82" x2="603.03" y2="34.93" stroke="#222" stroke-width="0.3"/>
<line x1="604.07" y1="37.52" x2="604.90" y2="36.65" stroke="#222" stroke-width="0.3"/>
<line x1="605.87" y1="39.26" x2="606.72" y2="38.42" stroke="#222" stroke-width="0.3"/>
<line x1="607.62" y1="41.06" x2="608.49" y2="40.23" stroke="#222" stroke-width="0.3"/>
<line x1="609.32" y1="42.90" x2="610.21" y2="42.10" stroke="#222" stroke-width="0.3"/>
<line x1="610.97" y1="44.78" x2="611.88" y2="44.01" stroke="#222" stroke-width="0.3"/>
<line x1="612.57" y1="46.71" x2="613.50" y2="45.96" stroke="#222" stroke-width="0.3"/>
<line x1="614.11" y1="48.69" x2="615.07" y2="47.96" stroke="#222" stroke-width="0.3"/>
<line x1="615.60" y1="50.70" x2="616.58" y2="50.00" stroke="#222" stroke-width="0.3"/>
<line x1="617.04" y1="52.75" x2="618.03" y2="52.08" stroke="#222" stroke-width="0.3"/>
<line x1="618.42" y1="54.84" x2="619.43" y2="54.19" stroke="#222" stroke-width="0.3"/>
<line x1="619.74" y1="56.97" x2="620.77" y2="56.35" stroke="#222" stroke-width="0.3"/>
<line x1="621.01" y1="59.13" x2="622.05" y2="58.54" stroke="#222" stroke-width="0.3"/>
<line x1="622.21" y1="61.33" x2="623.27" y2="60.76" stroke="#222" stroke-width="0.3"/>
<line x1="623.36" y1="63.55" x2="624.43" y2="63.02" stroke="#222" stroke-width="0.3"/>
<line x1="624.44" y1="65.81" x2="625.53" y2="65.31" stroke="#222" stroke-width="0.3"/>
<line x1="625.47" y1="68.10" x2="626.57" y2="67.62" stroke="#222" stroke-width="0.3"/>
<line x1="626.43" y1="70.41" x2="627.54" y2="69.97" stroke="#222" stroke-width="0.3"/>
<line x1="627.33" y1="72.75" x2="628.45" y2="72.33" stroke="#222" stroke-width="0.3"/>
<line x1="628.16" y1="75.11" x2="629.30" y2="74.73" stroke="#222" stroke-width="0.3"/>
<line x1="628.93" y1="77.49" x2="630.08" y2="77.14" stroke="#222" stroke-width="0.3"/>
<line x1="629.64" y1="79.90" x2="630.79" y2="79.58" stroke="#222" stroke-width="0.3"/>
<line x1="630.28" y1="82.32" x2="631.44" y2="82.03" stroke="#222" stroke-width="0.3"/>
<line x1="630.86" y1="84.76" x2="632.03" y2="84.50" stroke="#222" stroke-width="0.3"/>
<line x1="631.36" y1="87.21" x2="632.54" y2="86.98" stroke="#222" stroke-width="0.3"/>
<line x1="631.81" y1="89.68" x2="632.99" y2="89.48" stroke="#222" stroke-width="0.3"/>
<line x1="632.18" y1="92.15" x2="633.37" y2="91.99" stroke="#222" stroke-width="0.3"/>
<line x1="632.49" y1="94.64" x2="633.68" y2="94.51" stroke="#222" stroke-width="0.3"/>
<line x1="632.73" y1="97.13" x2="633.93" y2="97.03" stroke="#222" stroke-width="0.3"/>
<line x1="632.91" y1="99.63" x2="634.10" y2="99.56" stroke="#222" stroke-width="0.3"/>
<line x1="633.01" y1="102.13" x2="634.21" y2="102.10" stroke="#222" stroke-width="0.3"/>
<line x1="633.05" y1="104.64" x2="634.25" y2="104.64" stroke="#222" stroke-width="0.3"/>
<line x1="633.02" y1="107.14" x2="634.22" y2="107.17" stroke="#222" stroke-width="0.3"/>
<line x1="632.92" y1="109.65" x2="634.12" y2="109.71" stroke="#222" stroke-width="0.3"/>
<line x1="632.76" y1="112.15" x2="633.95" y2="112.24" stroke="#222" stroke-width="0.3"/>
<line x1="632.53" y1="114.64" x2="633.72" y2="114.77" stroke="#222" stroke-width="0.3"/>
<line x1="632.23" y1="117.13" x2="633.42" y2="117.29" stroke="#222" stroke-width="0.3"/>
<line x1="631.86" y1="119.60" x2="633.04" y2="119.80" stroke="#222" stroke-width="0.3"/>
<line x1="631.42" y1="122.07" x2="632.60" y2="122.30" stroke="#222" stroke-width="0.3"/>
<line x1="630.92" y1="124.53" x2="632.10" y2="124.78" stroke="#222" stroke-width="0.3"/>
<line x1="630.36" y1="126.97" x2="631.52" y2="127.25" stroke="#222" stroke-width="0.3"/>
<line x1="629.73" y1="129.39" x2="630.88" y2="129.71" stroke="#222" stroke-width="0.3"/>
<line x1="629.03" y1="131.80" x2="630.18" y2="132.15" stroke="#222" stroke-width="0.3"/>
<line x1="628.26" y1="134.18" x2="629.40" y2="134.56" stroke="#222" stroke-width="0.3"/>
<line x1="627.44" y1="136.55" x2="628.57" y2="136.96" stroke="#222" stroke-width="0.3"/>
<line x1="626.55" y1="138.89" x2="627.66" y2="139.33" stroke="#222" stroke-width="0.3"/>
<line x1="625.59" y1="141.20" x2="626.70" y2="141.68" stroke="#222" stroke-width="0.3"/>
<line x1="624.58" y1="143.49" x2="625.67" y2="144.00" stroke="#222" stroke-width="0.3"/>
<line x1="623.50" y1="145.76" x2="624.58" y2="146.29" stroke="#222" stroke-width="0.3"/>
<line x1="622.36" y1="147.99" x2="623.42" y2="148.55" stroke="#222" stroke-width="0.3"/>
<line x1="621.16" y1="150.19" x2="622.21" y2="150.78" stroke="#222" stroke-width="0.3"/>
<line x1="619.91" y1="152.35" x2="620.94" y2="152.97" stroke="#222" stroke-width="0.3"/>
<line x1="618.59" y1="154.49" x2="619.60" y2="155.13" stroke="#222" stroke-width="0.3"/>
<line x1="617.22" y1="156.58" x2="618.21" y2="157.25" stroke="#222" stroke-width="0.3"/>
<line x1="615.79" y1="158.64" x2="616.77" y2="159.34" stroke="#222" stroke-width="0.3"/>
<line x1="614.31" y1="160.66" x2="615.26" y2="161.38" stroke="#222" stroke-width="0.3"/>
<line x1="612.77" y1="162.63" x2="613.71" y2="163.38" stroke="#222" stroke-width="0.3"/>
<line x1="611.18" y1="164.57" x2="612.09" y2="165.34" stroke="#222" stroke-width="0.3"/>
<line x1="609.53" y1="166.46" x2="610.43" y2="167.26" stroke="#222" stroke-width="0.3"/>
<line x1="607.84" y1="168.31" x2="608.72" y2="169.13" stroke="#222" stroke-width="0.3"/>
<line x1="606.10" y1="170.11" x2="606.95" y2="170.95" stroke="#222" stroke-width="0.3"/>
<line x1="604.31" y1="171.86" x2="605.14" y2="172.73" stroke="#222" stroke-width="0.3"/>
<line x1="602.47" y1="173.56" x2="603.28" y2="174.45" stroke="#222" stroke-width="0.3"/>
<line x1="600.59" y1="175.21" x2="601.37" y2="176.13" stroke="#222" stroke-width="0.3"/>
<line x1="598.66" y1="176.81" x2="599.42" y2="177.75" stroke="#222" stroke-width="0.3"/>
<line x1="596.69" y1="178.36" x2="597.42" y2="179.32" stroke="#222" stroke-width="0.3"/>
<line x1="594.68" y1="179.86" x2="595.39" y2="180.83" stroke="#222" stroke-width="0.3"/>
<line x1="592.63" y1="181.30" x2="593.31" y2="182.29" stroke="#222" stroke-width="0.3"/>
<line x1="590.54" y1="182.68" x2="591.19" y2="183.69" stroke="#222" stroke-width="0.3"/>
<line x1="588.42" y1="184.01" x2="589.04" y2="185.03" stroke="#222" stroke-width="0.3"/>
<line x1="586.26" y1="185.28" x2="586.85" y2="186.32" stroke="#222" stroke-width="0.3"/>
<line x1="584.07" y1="186.48" x2="584.63" y2="187.54" stroke="#222" stroke-width="0.3"/>
<line x1="581.84" y1="187.63" x2="582.38" y2="188.71" stroke="#222" stroke-width="0.3"/>
<line x1="579.58" y1="188.72" x2="580.09" y2="189.81" stroke="#222" stroke-width="0.3"/>
<line x1="577.30" y1="189.75" x2="577.78" y2="190.85" stroke="#222" stroke-width="0.3"/>
<line x1="574.99" y1="190.72" x2="575.44" y2="191.83" stroke="#222" stroke-width="0.3"/>
<line x1="572.65" y1="191.62" x2="573.07" y2="192.75" stroke="#222" stroke-width="0.3"/>
<line x1="570.29" y1="192.46" x2="570.68" y2="193.60" stroke="#222" stroke-width="0.3"/>
<line x1="567.91" y1="193.23" x2="568.27" y2="194.38" stroke="#222" stroke-width="0.3"/>
<line x1="565.51" y1="193.95" x2="565.83" y2="195.10" stroke="#222" stroke-width="0.3"/>
<line x1="563.09" y1="194.59" x2="563.38" y2="195.75" stroke="#222" stroke-width="0.3"/>
<line x1="560.65" y1="195.17" x2="560.91" y2="196.34" stroke="#222" stroke-width="0.3"/>
<line x1="558.20" y1="195.68" x2="558.43" y2="196.86" stroke="#222" stroke-width="0.3"/>
<line x1="555.73" y1="196.13" x2="555.93" y2="197.31" stroke="#222" stroke-width="0.3"/>
<line x1="553.26" y1="196.51" x2="553.42" y2="197.70" stroke="#222" stroke-width="0.3"/>
<line x1="550.77" y1="196.82" x2="550.91" y2="198.02" stroke="#222" stroke-width="0.3"/>
<line x1="548.28" y1="197.07" x2="548.38" y2="198.26" stroke="#222" stroke-width="0.3"/>
<line x1="545.78" y1="197.25" x2="545.85" y2="198.44" stroke="#222" stroke-width="0.3"/>
<line x1="543.28" y1="197.36" x2="543.31" y2="198.56" stroke="#222" stroke-width="0.3"/>
<line x1="540.77" y1="197.40" x2="540.78" y2="198.60" stroke="#222" stroke-width="0.3"/>
<line x1="538.27" y1="197.37" x2="538.24" y2="198.57" stroke="#222" stroke-width="0.3"/>
<line x1="535.77" y1="197.28" x2="535.70" y2="198.48" stroke="#222" stroke-width="0.3"/>
<line x1="533.27" y1="197.12" x2="533.17" y2="198.32" stroke="#222" stroke-width="0.3"/>
<line x1="530.77" y1="196.89" x2="530.65" y2="198.09" stroke="#222" stroke-width="0.3"/>
<line x1="528.28" y1="196.60" x2="528.13" y2="197.79" stroke="#222" stroke-width="0.3"/>
<line x1="525.80" y1="196.23" x2="525.61" y2="197.42" stroke="#222" stroke-width="0.3"/>
<line x1="523.34" y1="195.80" x2="523.11" y2="196.98" stroke="#222" stroke-width="0.3"/>
<line x1="520.88" y1="195.31" x2="520.63" y2="196.48" stroke="#222" stroke-width="0.3"/>
<line x1="518.44" y1="194.75" x2="518.16" y2="195.91" stroke="#222" stroke-width="0.3"/>
<line x1="516.02" y1="194.12" x2="515.70" y2="195.28" stroke="#222" stroke-width="0.3"/>
<line x1="513.61" y1="193.42" x2="513.26" y2="194.57" stroke="#222" stroke-width="0.3"/>
<line x1="511.22" y1="192.67" x2="510.84" y2="193.80" stroke="#222" stroke-width="0.3"/>
<line x1="508.85" y1="191.84" x2="508.45" y2="192.97" stroke="#222" stroke-width="0.3"/>
<line x1="506.51" y1="190.96" x2="506.07" y2="192.07" stroke="#222" stroke-width="0.3"/>
<line x1="504.19" y1="190.01" x2="503.72" y2="191.11" stroke="#222" stroke-width="0.3"/>
<line x1="501.90" y1="189.00" x2="501.40" y2="190.09" stroke="#222" stroke-width="0.3"/>
<line x1="499.64" y1="187.92" x2="499.11" y2="189.00" stroke="#222" stroke-width="0.3"/>
<line x1="497.41" y1="186.79" x2="496.85" y2="187.85" stroke="#222" stroke-width="0.3"/>
<line x1="495.20" y1="185.59" x2="494.62" y2="186.64" stroke="#222" stroke-width="0.3"/>
<line x1="493.03" y1="184.34" x2="492.42" y2="185.37" stroke="#222" stroke-width="0.3"/>
<line x1="490.90" y1="183.03" x2="490.26" y2="184.04" stroke="#222" stroke-width="0.3"/>
<line x1="488.80" y1="181.66" x2="488.13" y2="182.66" stroke="#222" stroke-width="0.3"/>
<line x1="486.74" y1="180.23" x2="486.05" y2="181.21" stroke="#222" stroke-width="0.3"/>
<line x1="484.72" y1="178.75" x2="484.00" y2="179.71" stroke="#222" stroke-width="0.3"/>
<line x1="482.74" y1="177.22" x2="481.99" y2="178.16" stroke="#222" stroke-width="0.3"/>
<line x1="480.80" y1="175.63" x2="480.03" y2="176.55" stroke="#222" stroke-width="0.3"/>
<line x1="478.91" y1="173.99" x2="478.11" y2="174.89" stroke="#222" stroke-width="0.3"/>
<line x1="477.06" y1="172.30" x2="476.24" y2="173.18" stroke="#222" stroke-width="0.3"/>
<line x1="475.26" y1="170.56" x2="474.41" y2="171.42" stroke="#222" stroke-width="0.3"/>
<line x1="473.50" y1="168.78" x2="472.64" y2="169.60" stroke="#222" stroke-width="0.3"/>
<line x1="471.80" y1="166.94" x2="470.91" y2="167.75" stroke="#222" stroke-width="0.3"/>
<line x1="470.14" y1="165.06" x2="469.23" y2="165.84" stroke="#222" stroke-width="0.3"/>
<line x1="468.54" y1="163.14" x2="467.61" y2="163.89" stroke="#222" stroke-width="0.3"/>
<line x1="466.99" y1="161.17" x2="466.03" y2="161.90" stroke="#222" stroke-width="0.3"/>
<line x1="465.49" y1="159.16" x2="464.52" y2="159.87" stroke="#222" stroke-width="0.3"/>
<line x1="464.04" y1="157.12" x2="463.05" y2="157.79" stroke="#222" stroke-width="0.3"/>
<line x1="462.66" y1="155.03" x2="461.65" y2="155.68" stroke="#222" stroke-width="0.3"/>
<line x1="461.33" y1="152.91" x2="460.30" y2="153.53" stroke="#222" stroke-width="0.3"/>
<line x1="460.05" y1="150.75" x2="459.01" y2="151.35" stroke="#222" stroke-width="0.3"/>
<line x1="458.84" y1="148.56" x2="457.78" y2="149.13" stroke="#222" stroke-width="0.3"/>
<line x1="457.69" y1="146.33" x2="456.62" y2="146.87" stroke="#222" stroke-width="0.3"/>
<line x1="456.59" y1="144.08" x2="455.51" y2="144.59" stroke="#222" stroke-width="0.3"/>
<line x1="455.56" y1="141.80" x2="454.46" y2="142.28" stroke="#222" stroke-width="0.3"/>
<line x1="454.59" y1="139.49" x2="453.48" y2="139.94" stroke="#222" stroke-width="0.3"/>
<line x1="453.69" y1="137.15" x2="452.56" y2="137.57" stroke="#222" stroke-width="0.3"/>
<line x1="452.84" y1="134.79" x2="451.71" y2="135.18" stroke="#222" stroke-width="0.3"/>
<line x1="452.06" y1="132.41" x2="450.92" y2="132.77" stroke="#222" stroke-width="0.3"/>
<line x1="451.35" y1="130.01" x2="450.19" y2="130.34" stroke="#222" stroke-width="0.3"/>
<line x1="450.70" y1="127.59" x2="449.54" y2="127.89" stroke="#222" stroke-width="0.3"/>
<line x1="450.12" y1="125.16" x2="448.94" y2="125.42" stroke="#222" stroke-width="0.3"/>
<line x1="449.60" y1="122.71" x2="448.42" y2="122.94" stroke="#222" stroke-width="0.3"/>
<line x1="449.15" y1="120.24" x2="447.96" y2="120.44" stroke="#222" stroke-width="0.3"/>
<line x1="448.76" y1="117.77" x2="447.57" y2="117.94" stroke="#222" stroke-width="0.3"/>
<line x1="448.45" y1="115.28" x2="447.25" y2="115.42" stroke="#222" stroke-width="0.3"/>
<line x1="448.20" y1="112.79" x2="447.00" y2="112.89" stroke="#222" stroke-width="0.3"/>
<line x1="448.01" y1="110.29" x2="446.82" y2="110.36" stroke="#222" stroke-width="0.3"/>
<line x1="447.90" y1="107.79" x2="446.70" y2="107.83" stroke="#222" stroke-width="0.3"/>
<line x1="447.85" y1="105.28" x2="446.65" y2="105.29" stroke="#222" stroke-width="0.3"/>
<line x1="447.87" y1="102.78" x2="446.67" y2="102.75" stroke="#222" stroke-width="0.3"/>
<line x1="447.96" y1="100.28" x2="446.76" y2="100.22" stroke="#222" stroke-width="0.3"/>
<line x1="448.12" y1="97.78" x2="446.92" y2="97.69" stroke="#222" stroke-width="0.3"/>
<line x1="448.34" y1="95.28" x2="447.15" y2="95.16" stroke="#222" stroke-width="0.3"/>
<line x1="448.63" y1="92.79" x2="447.44" y2="92.64" stroke="#222" stroke-width="0.3"/>
<line x1="448.99" y1="90.31" x2="447.80" y2="90.13" stroke="#222" stroke-width="0.3"/>
<line x1="449.42" y1="87.85" x2="448.24" y2="87.63" stroke="#222" stroke-width="0.3"/>
<line x1="449.91" y1="85.39" x2="448.73" y2="85.14" stroke="#222" stroke-width="0.3"/>
<line x1="450.47" y1="82.95" x2="449.30" y2="82.66" stroke="#222" stroke-width="0.3"/>
<line x1="451.09" y1="80.52" x2="449.93" y2="80.21" stroke="#222" stroke-width="0.3"/>
<line x1="451.78" y1="78.11" x2="450.63" y2="77.77" stroke="#222" stroke-width="0.3"/>
<line x1="452.53" y1="75.72" x2="451.39" y2="75.35" stroke="#222" stroke-width="0.3"/>
<line x1="453.35" y1="73.36" x2="452.22" y2="72.95" stroke="#222" stroke-width="0.3"/>
<line x1="454.23" y1="71.01" x2="453.12" y2="70.57" stroke="#222" stroke-width="0.3"/>
<line x1="455.18" y1="68.69" x2="454.07" y2="68.22" stroke="#222" stroke-width="0.3"/>
<line x1="456.19" y1="66.40" x2="455.10" y2="65.90" stroke="#222" stroke-width="0.3"/>
<line x1="457.26" y1="64.13" x2="456.18" y2="63.61" stroke="#222" stroke-width="0.3"/>
<line x1="458.39" y1="61.90" x2="457.32" y2="61.34" stroke="#222" stroke-width="0.3"/>
<line x1="459.58" y1="59.69" x2="458.53" y2="59.11" stroke="#222" stroke-width="0.3"/>
<line x1="460.83" y1="57.52" x2="459.80" y2="56.91" stroke="#222" stroke-width="0.3"/>
<line x1="462.14" y1="55.39" x2="461.12" y2="54.75" stroke="#222" stroke-width="0.3"/>
<line x1="463.50" y1="53.29" x2="462.50" y2="52.62" stroke="#222" stroke-width="0.3"/>
<line x1="464.92" y1="51.22" x2="463.94" y2="50.53" stroke="#222" stroke-width="0.3"/>
<line x1="466.40" y1="49.20" x2="465.44" y2="48.48" stroke="#222" stroke-width="0.3"/>
<line x1="467.93" y1="47.22" x2="466.99" y2="46.47" stroke="#222" stroke-width="0.3"/>
<line x1="469.51" y1="45.28" x2="468.60" y2="44.51" stroke="#222" stroke-width="0.3"/>
<line x1="471.15" y1="43.38" x2="470.25" y2="42.58" stroke="#222" stroke-width="0.3"/>
<line x1="472.84" y1="41.53" x2="471.96" y2="40.71" stroke="#222" stroke-width="0.3"/>
<line x1="474.57" y1="39.72" x2="473.72" y2="38.88" stroke="#222" stroke-width="0.3"/>
<line x1="476.36" y1="37.97" x2="475.53" y2="37.10" stroke="#222" stroke-width="0.3"/>
<line x1="478.19" y1="36.26" x2="477.38" y2="35.37" stroke="#222" stroke-width="0.3"/>
<line x1="480.07" y1="34.60" x2="479.28" y2="33.69" stroke="#222" stroke-width="0.3"/>
<line x1="481.99" y1="32.99" x2="481.23" y2="32.06" stroke="#222" stroke-width="0.3"/>
<line x1="483.95" y1="31.43" x2="483.22" y2="30.48" stroke="#222" stroke-width="0.3"/>
<line x1="485.96" y1="29.93" x2="485.25" y2="28.96" stroke="#222" stroke-width="0.3"/>
<line x1="488.00" y1="28.49" x2="487.32" y2="27.50" stroke="#222" stroke-width="0.3"/>
<line x1="490.08" y1="27.10" x2="489.43" y2="26.09" stroke="#222" stroke-width="0.3"/>
<line x1="492.20" y1="25.76" x2="491.58" y2="24.74" stroke="#222" stroke-width="0.3"/>
<line x1="494.36" y1="24.49" x2="493.76" y2="23.44" stroke="#222" stroke-width="0.3"/>
<line x1="496.55" y1="23.27" x2="495.98" y2="22.21" stroke="#222" stroke-width="0.3"/>
<line x1="498.77" y1="22.11" x2="498.23" y2="21.04" stroke="#222" stroke-width="0.3"/>
<line x1="501.02" y1="21.01" x2="500.51" y2="19.93" stroke="#222" stroke-width="0.3"/>
<line x1="503.30" y1="19.98" x2="502.82" y2="18.88" stroke="#222" stroke-width="0.3"/>
<line x1="505.61" y1="19.00" x2="505.16" y2="17.89" stroke="#222" stroke-width="0.3"/>
<line x1="507.95" y1="18.09" x2="507.52" y2="16.97" stroke="#222" stroke-width="0.3"/>
<line x1="510.30" y1="17.24" x2="509.91" y2="16.11" stroke="#222" stroke-width="0.3"/>
<line x1="512.68" y1="16.46" x2="512.32" y2="15.32" stroke="#222" stroke-width="0.3"/>
<line x1="515.08" y1="15.74" x2="514.75" y2="14.59" stroke="#222" stroke-width="0.3"/>
<line x1="517.50" y1="15.09" x2="517.20" y2="13.93" stroke="#222" stroke-width="0.3"/>
<line x1="519.93" y1="14.50" x2="519.67" y2="13.33" stroke="#222" stroke-width="0.3"/>
<line x1="522.38" y1="13.98" x2="522.15" y2="12.80" stroke="#222" stroke-width="0.3"/>
<line x1="524.85" y1="13.52" x2="524.65" y2="12.34" stroke="#222" stroke-width="0.3"/>
<line x1="527.32" y1="13.14" x2="527.15" y2="11.95" stroke="#222" stroke-width="0.3"/>
<line x1="529.81" y1="12.81" x2="529.67" y2="11.62" stroke="#222" stroke-width="0.3"/>
<line x1="532.30" y1="12.56" x2="532.19" y2="11.36" stroke="#222" stroke-width="0.3"/>
<line x1="534.80" y1="12.37" x2="534.72" y2="11.17" stroke="#222" stroke-width="0.3"/>
<line x1="537.30" y1="12.25" x2="537.26" y2="11.05" stroke="#222" stroke-width="0.3"/>
<line x1="539.80" y1="12.20" x2="539.80" y2="11.00" stroke="#222" stroke-width="0.3"/>
<text x="553.48" y="8.97" font-size="3.9" text-anchor="middle" font-weight="normal" font-style="normal" fill="#111" transform="rotate(7.65 553.48 8.97)">chr1</text>
<text x="574.01" y="14.03" font-size="3.9" text-anchor="middle" font-weight="normal" font-style="normal" fill="#111" transform="rotate(20.05 574.01 14.03)">chr2</text>
<text x="588.44" y="20.67" font-size="3.9" text-anchor="middle" font-weight="normal" font-style="normal" fill="#111" transform="rotate(29.35 588.44 20.67)">chr3</text>
<text x="601.46" y="29.44" font-size="3.9" text-anchor="middle" font-weight="normal" font-style="normal" fill="#111" transform="rotate(38.55 601.46 29.44)">chr4</text>
<text x="612.11" y="39.29" font-size="3.9" text-anchor="middle" font-weight="normal" font-style="normal" fill="#111" transform="rotate(47.05 612.11 39.29)">chr5</text>
<text x="621.11" y="50.51" font-size="3.9" text-anchor="middle" font-weight="normal" font-style="normal" fill="#111" transform="rotate(55.475 621.11 50.51)">chr6</text>
<text x="628.50" y="63.20" font-size="3.9" text-anchor="middle" font-weight="normal" font-style="normal" fill="#111" transform="rotate(64.075 628.50 63.20)">chr7</text>
<text x="633.90" y="76.81" font-size="3.9" text-anchor="middle" font-weight="normal" font-style="normal" fill="#111" transform="rotate(72.65 633.90 76.81)">chr8</text>
<text x="637.21" y="91.11" font-size="3.9" text-anchor="middle" font-weight="normal" font-style="normal" fill="#111" transform="rotate(81.25 637.21 91.11)">chr9</text>
<text x="638.34" y="104.55" font-size="3.9" text-anchor="middle" font-weight="normal" font-style="normal" fill="#111" transform="rotate(89.15 638.34 104.55)">chr10</text>
<text x="637.67" y="117.51" font-size="3.9" text-anchor="middle" font-weight="normal" font-style="normal" fill="#111" transform="rotate(-83.25 637.67 117.51)">chr11</text>
<text x="635.38" y="129.93" font-size="3.9" text-anchor="middle" font-weight="normal" font-style="normal" fill="#111" transform="rotate(-75.85 635.38 129.93)">chr12</text>
<text x="631.51" y="141.96" font-size="3.9" text-anchor="middle" font-weight="normal" font-style="normal" fill="#111" transform="rotate(-68.44999999999999 631.51 141.96)">chr13</text>
<text x="625.95" y="153.69" font-size="3.9" text-anchor="middle" font-weight="normal" font-style="normal" fill="#111" transform="rotate(-60.849999999999994 625.95 153.69)">chr14</text>
<text x="619.10" y="164.30" font-size="3.9" text-anchor="middle" font-weight="normal" font-style="normal" fill="#111" transform="rotate(-53.45 619.10 164.30)">chr15</text>
<text x="611.05" y="173.82" font-size="3.9" text-anchor="middle" font-weight="normal" font-style="normal" fill="#111" transform="rotate(-46.150000000000006 611.05 173.82)">chr16</text>
<text x="602.39" y="181.81" font-size="3.9" text-anchor="middle" font-weight="normal" font-style="normal" fill="#111" transform="rotate(-39.25 602.39 181.81)">chr17</text>
<text x="592.84" y="188.71" font-size="3.9" text-anchor="middle" font-weight="normal" font-style="normal" fill="#111" transform="rotate(-32.349999999999994 592.84 188.71)">chr18</text>
<text x="582.13" y="194.58" font-size="3.9" text-anchor="middle" font-weight="normal" font-style="normal" fill="#111" transform="rotate(-25.19999999999999 582.13 194.58)">chr19</text>
<text x="572.08" y="198.65" font-size="3.9" text-anchor="middle" font-weight="normal" font-style="normal" fill="#111" transform="rotate(-18.849999999999994 572.08 198.65)">chr20</text>
<text x="562.14" y="201.47" font-size="3.9" text-anchor="middle" font-weight="normal" font-style="normal" fill="#111" transform="rotate(-12.800000000000011 562.14 201.47)">chr21</text>
<text x="533.02" y="8.38" font-size="3.9" text-anchor="middle" font-weight="normal" font-style="normal" fill="#111" transform="rotate(-4.3500000000000005 533.02 8.38)">chr13</text>
<text x="519.09" y="10.46" font-size="3.9" text-anchor="middle" font-weight="normal" font-style="normal" fill="#111" transform="rotate(-12.6 519.09 10.46)">chr4</text>
<text x="504.49" y="14.94" font-size="3.9" text-anchor="middle" font-weight="normal" font-style="normal" fill="#111" transform="rotate(-21.549999999999997 504.49 14.94)">chr1</text>
<text x="490.03" y="22.08" font-size="3.9" text-anchor="middle" font-weight="normal" font-style="normal" fill="#111" transform="rotate(-31.0 490.03 22.08)">chr3</text>
<text x="477.52" y="31.00" font-size="3.9" text-anchor="middle" font-weight="normal" font-style="normal" fill="#111" transform="rotate(-40.0 477.52 31.00)">chr2</text>
<text x="467.18" y="41.07" font-size="3.9" text-anchor="middle" font-weight="normal" font-style="normal" fill="#111" transform="rotate(-48.45 467.18 41.07)">chr7</text>
<text x="458.62" y="52.25" font-size="3.9" text-anchor="middle" font-weight="normal" font-style="normal" fill="#111" transform="rotate(-56.7 458.62 52.25)">chr6</text>
<text x="451.60" y="64.90" font-size="3.9" text-anchor="middle" font-weight="normal" font-style="normal" fill="#111" transform="rotate(-65.17500000000001 451.60 64.90)">chr8</text>
<text x="446.47" y="78.56" font-size="3.9" text-anchor="middle" font-weight="normal" font-style="normal" fill="#111" transform="rotate(-73.725 446.47 78.56)">chr5</text>
<text x="443.56" y="91.95" font-size="3.9" text-anchor="middle" font-weight="normal" font-style="normal" fill="#111" transform="rotate(-81.75 443.56 91.95)">chr9</text>
<text x="442.55" y="105.32" font-size="3.9" text-anchor="middle" font-weight="normal" font-style="normal" fill="#111" transform="rotate(-89.6 442.55 105.32)">chr11</text>
<text x="443.37" y="118.61" font-size="3.9" text-anchor="middle" font-weight="normal" font-style="normal" fill="#111" transform="rotate(82.6 443.37 118.61)">chr10</text>
<text x="445.86" y="131.26" font-size="3.9" text-anchor="middle" font-weight="normal" font-style="normal" fill="#111" transform="rotate(75.05000000000001 445.86 131.26)">chr12</text>
<text x="449.71" y="142.75" font-size="3.9" text-anchor="middle" font-weight="normal" font-style="normal" fill="#111" transform="rotate(67.95 449.71 142.75)">chr14</text>
<text x="455.03" y="153.84" font-size="3.9" text-anchor="middle" font-weight="normal" font-style="normal" fill="#111" transform="rotate(60.75 455.03 153.84)">chr15</text>
<text x="461.96" y="164.51" font-size="3.9" text-anchor="middle" font-weight="normal" font-style="normal" fill="#111" transform="rotate(53.3 461.96 164.51)">chr16</text>
<text x="470.15" y="174.13" font-size="3.9" text-anchor="middle" font-weight="normal" font-style="normal" fill="#111" transform="rotate(45.89999999999998 470.15 174.13)">chr17</text>
<text x="479.04" y="182.24" font-size="3.9" text-anchor="middle" font-weight="normal" font-style="normal" fill="#111" transform="rotate(38.849999999999994 479.04 182.24)">chr18</text>
<text x="488.50" y="188.98" font-size="3.9" text-anchor="middle" font-weight="normal" font-style="normal" fill="#111" transform="rotate(32.05000000000001 488.50 188.98)">chr19</text>
<text x="499.08" y="194.73" font-size="3.9" text-anchor="middle" font-weight="normal" font-style="normal" fill="#111" transform="rotate(25.0 499.08 194.73)">chr20</text>
<text x="509.55" y="198.89" font-size="3.9" text-anchor="middle" font-weight="normal" font-style="normal" fill="#111" transform="rotate(18.400000000000006 509.55 198.89)">chr21</text>
<text x="519.34" y="201.60" font-size="3.9" text-anchor="middle" font-weight="normal" font-style="normal" fill="#111" transform="rotate(12.449999999999989 519.34 201.60)">chr22</text>
<text x="540.50" y="204.30" font-size="3.0" text-anchor="middle" font-weight="normal" font-style="normal" fill="#111">chr22chr23chr24chr23chr22</text>
<text x="436.30" y="97.50" font-size="8.0" text-anchor="middle" font-weight="normal" font-style="normal" fill="#000" transform="rotate(-90 436.30 97.50)">Female genome</text>
<text x="647.60" y="102.90" font-size="7.8" text-anchor="middle" font-weight="normal" font-style="normal" fill="#000" transform="rotate(-90 647.60 102.90)">HapY genome</text>
</g>
<g id="panelD">
<rect x="40.3" y="206.9" width="162.80" height="162.00" fill="#ebecec"/>
<line x1="40.3" y1="221.6" x2="203.1" y2="221.6" stroke="#f3f3f3" stroke-width="0.55"/>
<line x1="40.3" y1="249.6" x2="203.1" y2="249.6" stroke="#f3f3f3" stroke-width="0.55"/>
<line x1="40.3" y1="277.4" x2="203.1" y2="277.4" stroke="#f3f3f3" stroke-width="0.55"/>
<line x1="40.3" y1="305.4" x2="203.1" y2="305.4" stroke="#f3f3f3" stroke-width="0.55"/>
<line x1="40.3" y1="333.3" x2="203.1" y2="333.3" stroke="#f3f3f3" stroke-width="0.55"/>
<line x1="40.3" y1="361.2" x2="203.1" y2="361.2" stroke="#f3f3f3" stroke-width="0.55"/>
<line x1="40.3" y1="235.6" x2="203.1" y2="235.6" stroke="#efefef" stroke-width="0.4"/>
<line x1="40.3" y1="263.5" x2="203.1" y2="263.5" stroke="#efefef" stroke-width="0.4"/>
<line x1="40.3" y1="291.4" x2="203.1" y2="291.4" stroke="#efefef" stroke-width="0.4"/>
<line x1="40.3" y1="319.3" x2="203.1" y2="319.3" stroke="#efefef" stroke-width="0.4"/>
<line x1="40.3" y1="347.2" x2="203.1" y2="347.2" stroke="#efefef" stroke-width="0.4"/>
<line x1="75.6" y1="206.9" x2="75.6" y2="368.9" stroke="#f2f2f2" stroke-width="0.55"/>
<line x1="103.3" y1="206.9" x2="103.3" y2="368.9" stroke="#f2f2f2" stroke-width="0.55"/>
<line x1="131.0" y1="206.9" x2="131.0" y2="368.9" stroke="#f2f2f2" stroke-width="0.55"/>
<line x1="158.7" y1="206.9" x2="158.7" y2="368.9" stroke="#f2f2f2" stroke-width="0.55"/>
<line x1="186.4" y1="206.9" x2="186.4" y2="368.9" stroke="#f2f2f2" stroke-width="0.55"/>
<line x1="47.3" y1="206.9" x2="47.3" y2="368.9" stroke="#9c9c9c" stroke-width="0.45" stroke-dasharray="4 0.8 1 0.8"/>
<line x1="126.1" y1="206.9" x2="126.1" y2="368.9" stroke="#9c9c9c" stroke-width="0.45" stroke-dasharray="4 0.8 1 0.8"/>
<line x1="195.1" y1="206.9" x2="195.1" y2="368.9" stroke="#9c9c9c" stroke-width="0.45" stroke-dasharray="4 0.8 1 0.8"/>
<line x1="40.3" y1="214.4" x2="203.1" y2="214.4" stroke="#a8a8a8" stroke-width="0.45" stroke-dasharray="4 0.8 1 0.8"/>
<line x1="40.3" y1="361.9" x2="203.1" y2="361.9" stroke="#a8a8a8" stroke-width="0.45" stroke-dasharray="4 0.8 1 0.8"/>
<line x1="47.4" y1="214.4" x2="125.8" y2="292.4" stroke="#111" stroke-width="1.25" stroke-linecap="round"/>
<line x1="126.5" y1="360.6" x2="195.0" y2="292.2" stroke="#111" stroke-width="1.25" stroke-linecap="round"/>
<circle cx="195.1" cy="362" r="0.7" fill="#555"/>
<text x="38.00" y="223.40" font-size="5.4" text-anchor="end" font-weight="bold" font-style="normal" fill="#333">50</text>
<line x1="38.6" y1="221.6" x2="40.3" y2="221.6" stroke="#444" stroke-width="0.4"/>
<text x="38.00" y="251.40" font-size="5.4" text-anchor="end" font-weight="bold" font-style="normal" fill="#333">40</text>
<line x1="38.6" y1="249.6" x2="40.3" y2="249.6" stroke="#444" stroke-width="0.4"/>
<text x="38.00" y="279.20" font-size="5.4" text-anchor="end" font-weight="bold" font-style="normal" fill="#333">30</text>
<line x1="38.6" y1="277.4" x2="40.3" y2="277.4" stroke="#444" stroke-width="0.4"/>
<text x="38.00" y="307.20" font-size="5.4" text-anchor="end" font-weight="bold" font-style="normal" fill="#333">20</text>
<line x1="38.6" y1="305.4" x2="40.3" y2="305.4" stroke="#444" stroke-width="0.4"/>
<text x="38.00" y="335.10" font-size="5.4" text-anchor="end" font-weight="bold" font-style="normal" fill="#333">10</text>
<line x1="38.6" y1="333.3" x2="40.3" y2="333.3" stroke="#444" stroke-width="0.4"/>
<text x="38.00" y="363.00" font-size="5.4" text-anchor="end" font-weight="bold" font-style="normal" fill="#333">0</text>
<line x1="38.6" y1="361.2" x2="40.3" y2="361.2" stroke="#444" stroke-width="0.4"/>
<text x="84.80" y="374.40" font-size="8.4" text-anchor="middle" font-weight="normal" font-style="normal" fill="#000">Chr4</text>
<text x="170.60" y="376.40" font-size="8.4" text-anchor="middle" font-weight="normal" font-style="normal" fill="#000">Chr13</text>
<text x="125.60" y="387.60" font-size="9.5" text-anchor="middle" font-weight="normal" font-style="normal" fill="#000">Chr4 and Chr13 of female genome</text>
<text x="21.20" y="282.20" font-size="9.3" text-anchor="middle" font-weight="normal" font-style="normal" fill="#000" transform="rotate(90 21.20 282.20)">Chr1 of HapY genome</text>
</g>
<g id="panelE">
<path d="M292.2 228.0 L435.8 228.0 C435.8 254.0 434.5 254.2 434.5 280.2 L292.2 280.2 Z" fill="#e9eaea"/>
<path d="M326.50 228.0 C326.50 252.0 325.67 256.2 325.67 280.2" fill="none" stroke="#fff" stroke-width="0.68" opacity="0.78"/>
<path d="M300.15 228.0 C300.15 252.0 302.54 256.2 302.54 280.2" fill="none" stroke="#fff" stroke-width="0.49" opacity="0.61"/>
<path d="M435.09 228.0 C435.09 252.0 434.89 256.2 434.89 280.2" fill="none" stroke="#fff" stroke-width="0.61" opacity="0.79"/>
<path d="M314.23 228.0 C314.23 252.0 314.74 256.2 314.74 280.2" fill="none" stroke="#fff" stroke-width="0.64" opacity="0.83"/>
<path d="M387.31 228.0 C387.31 252.0 388.52 256.2 388.52 280.2" fill="none" stroke="#fff" stroke-width="0.68" opacity="0.64"/>
<path d="M297.75 228.0 C297.75 252.0 296.53 256.2 296.53 280.2" fill="none" stroke="#fff" stroke-width="0.75" opacity="0.90"/>
<path d="M396.01 228.0 C396.01 252.0 393.51 256.2 393.51 280.2" fill="none" stroke="#fff" stroke-width="0.79" opacity="0.70"/>
<path d="M427.69 228.0 C427.69 252.0 424.13 256.2 424.13 280.2" fill="none" stroke="#fff" stroke-width="0.42" opacity="0.60"/>
<path d="M430.65 228.0 C430.65 252.0 429.97 256.2 429.97 280.2" fill="none" stroke="#fff" stroke-width="0.52" opacity="0.73"/>
<path d="M347.16 228.0 C347.16 252.0 347.36 256.2 347.36 280.2" fill="none" stroke="#fff" stroke-width="0.67" opacity="0.91"/>
<path d="M391.42 228.0 C391.42 252.0 390.32 256.2 390.32 280.2" fill="none" stroke="#fff" stroke-width="0.90" opacity="0.80"/>
<path d="M316.70 228.0 C316.70 252.0 316.80 256.2 316.80 280.2" fill="none" stroke="#fff" stroke-width="0.85" opacity="0.76"/>
<path d="M393.84 228.0 C393.84 252.0 394.77 256.2 394.77 280.2" fill="none" stroke="#fff" stroke-width="0.67" opacity="0.63"/>
<path d="M302.37 228.0 C302.37 252.0 302.70 256.2 302.70 280.2" fill="none" stroke="#fff" stroke-width="0.40" opacity="0.86"/>
<path d="M350.09 228.0 C350.09 252.0 349.99 256.2 349.99 280.2" fill="none" stroke="#fff" stroke-width="0.77" opacity="0.89"/>
<path d="M298.89 228.0 C298.89 252.0 297.12 256.2 297.12 280.2" fill="none" stroke="#fff" stroke-width="0.75" opacity="0.65"/>
<path d="M420.14 228.0 C420.14 252.0 417.57 256.2 417.57 280.2" fill="none" stroke="#fff" stroke-width="0.90" opacity="0.64"/>
<path d="M303.55 228.0 C303.55 252.0 301.75 256.2 301.75 280.2" fill="none" stroke="#fff" stroke-width="0.46" opacity="0.68"/>
<path d="M378.83 228.0 C378.83 252.0 377.70 256.2 377.70 280.2" fill="none" stroke="#fff" stroke-width="0.83" opacity="0.64"/>
<path d="M431.05 228.0 C431.05 252.0 428.25 256.2 428.25 280.2" fill="none" stroke="#fff" stroke-width="0.60" opacity="0.73"/>
<path d="M384.95 228.0 C384.95 252.0 384.00 256.2 384.00 280.2" fill="none" stroke="#fff" stroke-width="0.69" opacity="0.92"/>
<path d="M364.80 228.0 C364.80 252.0 365.01 256.2 365.01 280.2" fill="none" stroke="#fff" stroke-width="0.48" opacity="0.64"/>
<path d="M432.68 228.0 C432.68 252.0 431.49 256.2 431.49 280.2" fill="none" stroke="#fff" stroke-width="0.36" opacity="0.69"/>
<path d="M374.04 228.0 C374.04 252.0 375.08 256.2 375.08 280.2" fill="none" stroke="#fff" stroke-width="0.70" opacity="0.53"/>
<path d="M382.18 228.0 C382.18 252.0 382.01 256.2 382.01 280.2" fill="none" stroke="#fff" stroke-width="0.54" opacity="0.82"/>
<path d="M396.75 228.0 C396.75 252.0 395.90 256.2 395.90 280.2" fill="none" stroke="#fff" stroke-width="0.72" opacity="0.93"/>
<path d="M328.13 228.0 C328.13 252.0 328.21 256.2 328.21 280.2" fill="none" stroke="#fff" stroke-width="0.53" opacity="0.66"/>
<path d="M336.71 228.0 C336.71 252.0 336.98 256.2 336.98 280.2" fill="none" stroke="#fff" stroke-width="0.52" opacity="0.67"/>
<path d="M401.68 228.0 C401.68 252.0 402.30 256.2 402.30 280.2" fill="none" stroke="#fff" stroke-width="0.75" opacity="0.64"/>
<path d="M325.07 228.0 C325.07 252.0 323.08 256.2 323.08 280.2" fill="none" stroke="#fff" stroke-width="0.45" opacity="0.70"/>
<path d="M391.25 228.0 C391.25 252.0 391.00 256.2 391.00 280.2" fill="none" stroke="#fff" stroke-width="0.53" opacity="0.88"/>
<path d="M356.23 228.0 C356.23 252.0 353.60 256.2 353.60 280.2" fill="none" stroke="#fff" stroke-width="0.54" opacity="0.79"/>
<path d="M419.12 228.0 C419.12 252.0 417.30 256.2 417.30 280.2" fill="none" stroke="#fff" stroke-width="0.42" opacity="0.74"/>
<path d="M320.52 228.0 C320.52 252.0 320.37 256.2 320.37 280.2" fill="none" stroke="#fff" stroke-width="0.45" opacity="0.63"/>
<path d="M408.54 228.0 C408.54 252.0 407.99 256.2 407.99 280.2" fill="none" stroke="#fff" stroke-width="0.54" opacity="0.56"/>
<path d="M335.00 228.0 C335.00 252.0 333.06 256.2 333.06 280.2" fill="none" stroke="#fff" stroke-width="0.54" opacity="0.69"/>
<path d="M352.21 228.0 C352.21 252.0 353.20 256.2 353.20 280.2" fill="none" stroke="#fff" stroke-width="0.44" opacity="0.50"/>
<path d="M428.79 228.0 C428.79 252.0 427.89 256.2 427.89 280.2" fill="none" stroke="#fff" stroke-width="0.59" opacity="0.93"/>
<path d="M424.54 228.0 C424.54 252.0 424.90 256.2 424.90 280.2" fill="none" stroke="#fff" stroke-width="0.81" opacity="0.80"/>
<path d="M366.10 228.0 C366.10 252.0 365.58 256.2 365.58 280.2" fill="none" stroke="#fff" stroke-width="0.48" opacity="0.53"/>
<path d="M376.10 228.0 C376.10 252.0 376.90 256.2 376.90 280.2" fill="none" stroke="#fff" stroke-width="0.37" opacity="0.91"/>
<path d="M393.09 228.0 C393.09 252.0 392.10 256.2 392.10 280.2" fill="none" stroke="#fff" stroke-width="0.84" opacity="0.76"/>
<path d="M294.82 228.0 C294.82 252.0 293.09 256.2 293.09 280.2" fill="none" stroke="#fff" stroke-width="0.51" opacity="0.80"/>
<path d="M367.33 228.0 C367.33 252.0 368.22 256.2 368.22 280.2" fill="none" stroke="#fff" stroke-width="0.69" opacity="0.65"/>
<path d="M329.54 228.0 C329.54 252.0 328.06 256.2 328.06 280.2" fill="none" stroke="#fff" stroke-width="0.78" opacity="0.66"/>
<path d="M320.64 228.0 C320.64 252.0 321.23 256.2 321.23 280.2" fill="none" stroke="#fff" stroke-width="0.44" opacity="0.86"/>
<path d="M438.59999999999997 228.0 L602.5 228.0 C602.5 257.23 440.9 250.97 440.9 280.2 L602.5 280.2 C602.5 250.97 438.59999999999997 257.23 438.59999999999997 228.0 Z" fill="#e9eaea" fill-rule="nonzero"/>
<path d="M573.09 228.0 C573.09 257.23 471.12 250.97 471.12 280.2" fill="none" stroke="#fff" stroke-width="0.63" opacity="0.30"/>
<path d="M536.57 228.0 C536.57 257.23 507.36 250.97 507.36 280.2" fill="none" stroke="#fff" stroke-width="0.32" opacity="0.42"/>
<path d="M491.72 228.0 C491.72 257.23 550.23 250.97 550.23 280.2" fill="none" stroke="#fff" stroke-width="0.47" opacity="0.51"/>
<path d="M554.99 228.0 C554.99 257.23 485.75 250.97 485.75 280.2" fill="none" stroke="#fff" stroke-width="0.32" opacity="0.36"/>
<path d="M473.79 228.0 C473.79 257.23 566.08 250.97 566.08 280.2" fill="none" stroke="#fff" stroke-width="0.69" opacity="0.68"/>
<path d="M469.00 228.0 C469.00 257.23 572.54 250.97 572.54 280.2" fill="none" stroke="#fff" stroke-width="0.43" opacity="0.44"/>
<path d="M502.03 228.0 C502.03 257.23 540.55 250.97 540.55 280.2" fill="none" stroke="#fff" stroke-width="0.53" opacity="0.46"/>
<path d="M482.07 228.0 C482.07 257.23 558.96 250.97 558.96 280.2" fill="none" stroke="#fff" stroke-width="0.35" opacity="0.55"/>
<path d="M547.46 228.0 C547.46 257.23 494.69 250.97 494.69 280.2" fill="none" stroke="#fff" stroke-width="0.33" opacity="0.38"/>
<path d="M504.76 228.0 C504.76 257.23 537.68 250.97 537.68 280.2" fill="none" stroke="#fff" stroke-width="0.61" opacity="0.47"/>
<path d="M558.06 228.0 C558.06 257.23 485.20 250.97 485.20 280.2" fill="none" stroke="#fff" stroke-width="0.47" opacity="0.47"/>
<path d="M520.07 228.0 C520.07 257.23 522.98 250.97 522.98 280.2" fill="none" stroke="#fff" stroke-width="0.47" opacity="0.61"/>
<path d="M515.67 228.0 C515.67 257.23 525.49 250.97 525.49 280.2" fill="none" stroke="#fff" stroke-width="0.51" opacity="0.61"/>
<path d="M467.18 228.0 C467.18 257.23 574.02 250.97 574.02 280.2" fill="none" stroke="#fff" stroke-width="0.47" opacity="0.70"/>
<path d="M574.92 228.0 C574.92 257.23 467.59 250.97 467.59 280.2" fill="none" stroke="#fff" stroke-width="0.66" opacity="0.66"/>
<path d="M490.93 228.0 C490.93 257.23 550.76 250.97 550.76 280.2" fill="none" stroke="#fff" stroke-width="0.35" opacity="0.67"/>
<path d="M540.77 228.0 C540.77 257.23 503.32 250.97 503.32 280.2" fill="none" stroke="#fff" stroke-width="0.62" opacity="0.60"/>
<path d="M549.66 228.0 C549.66 257.23 493.25 250.97 493.25 280.2" fill="none" stroke="#fff" stroke-width="0.34" opacity="0.56"/>
<path d="M458.88 228.0 C458.88 257.23 581.08 250.97 581.08 280.2" fill="none" stroke="#fff" stroke-width="0.61" opacity="0.32"/>
<path d="M469.70 228.0 C469.70 257.23 570.23 250.97 570.23 280.2" fill="none" stroke="#fff" stroke-width="0.65" opacity="0.38"/>
<path d="M461.19 228.0 C461.19 257.23 581.59 250.97 581.59 280.2" fill="none" stroke="#fff" stroke-width="0.35" opacity="0.68"/>
<path d="M542.17 228.0 C542.17 257.23 501.73 250.97 501.73 280.2" fill="none" stroke="#fff" stroke-width="0.68" opacity="0.56"/>
<path d="M557.76 228.0 C557.76 257.23 483.15 250.97 483.15 280.2" fill="none" stroke="#fff" stroke-width="0.61" opacity="0.53"/>
<path d="M547.35 228.0 C547.35 257.23 493.70 250.97 493.70 280.2" fill="none" stroke="#fff" stroke-width="0.60" opacity="0.72"/>
<path d="M465.88 228.0 C465.88 257.23 574.90 250.97 574.90 280.2" fill="none" stroke="#fff" stroke-width="0.53" opacity="0.67"/>
<path d="M488.43 228.0 C488.43 257.23 552.09 250.97 552.09 280.2" fill="none" stroke="#fff" stroke-width="0.40" opacity="0.58"/>
<path d="M552.13 228.0 C552.13 257.23 490.14 250.97 490.14 280.2" fill="none" stroke="#fff" stroke-width="0.45" opacity="0.48"/>
<path d="M501.90 228.0 C501.90 257.23 539.76 250.97 539.76 280.2" fill="none" stroke="#fff" stroke-width="0.33" opacity="0.53"/>
<path d="M579.48 228.0 C579.48 257.23 463.25 250.97 463.25 280.2" fill="none" stroke="#fff" stroke-width="0.60" opacity="0.37"/>
<path d="M544.32 228.0 C544.32 257.23 499.29 250.97 499.29 280.2" fill="none" stroke="#fff" stroke-width="0.57" opacity="0.53"/>
<path d="M518.52 228.0 C518.52 257.23 524.27 250.97 524.27 280.2" fill="none" stroke="#fff" stroke-width="0.66" opacity="0.37"/>
<path d="M470.21 228.0 C470.21 257.23 572.33 250.97 572.33 280.2" fill="none" stroke="#fff" stroke-width="0.67" opacity="0.53"/>
<path d="M513.46 228.0 C513.46 257.23 529.57 250.97 529.57 280.2" fill="none" stroke="#fff" stroke-width="0.37" opacity="0.42"/>
<path d="M483.08 228.0 C483.08 257.23 558.99 250.97 558.99 280.2" fill="none" stroke="#fff" stroke-width="0.43" opacity="0.40"/>
<path d="M544.36 228.0 C544.36 257.23 500.04 250.97 500.04 280.2" fill="none" stroke="#fff" stroke-width="0.42" opacity="0.62"/>
<path d="M509.74 228.0 C509.74 257.23 533.77 250.97 533.77 280.2" fill="none" stroke="#fff" stroke-width="0.53" opacity="0.42"/>
<path d="M485.37 228.0 C485.37 257.23 554.48 250.97 554.48 280.2" fill="none" stroke="#fff" stroke-width="0.49" opacity="0.47"/>
<path d="M479.72 228.0 C479.72 257.23 561.40 250.97 561.40 280.2" fill="none" stroke="#fff" stroke-width="0.43" opacity="0.65"/>
<path d="M476.16 228.0 C476.16 257.23 567.44 250.97 567.44 280.2" fill="none" stroke="#fff" stroke-width="0.49" opacity="0.57"/>
<path d="M516.57 228.0 C516.57 257.23 526.96 250.97 526.96 280.2" fill="none" stroke="#fff" stroke-width="0.63" opacity="0.55"/>
<path d="M518.22 228.0 C518.22 257.23 524.88 250.97 524.88 280.2" fill="none" stroke="#fff" stroke-width="0.64" opacity="0.48"/>
<path d="M549.65 228.0 C549.65 257.23 494.85 250.97 494.85 280.2" fill="none" stroke="#fff" stroke-width="0.49" opacity="0.40"/>
<path d="M487.51 228.0 C487.51 257.23 555.14 250.97 555.14 280.2" fill="none" stroke="#fff" stroke-width="0.57" opacity="0.73"/>
<path d="M564.63 228.0 C564.63 257.23 477.21 250.97 477.21 280.2" fill="none" stroke="#fff" stroke-width="0.38" opacity="0.42"/>
<path d="M481.58 228.0 C481.58 257.23 560.94 250.97 560.94 280.2" fill="none" stroke="#fff" stroke-width="0.64" opacity="0.70"/>
<path d="M490.03 228.0 C490.03 257.23 553.25 250.97 553.25 280.2" fill="none" stroke="#fff" stroke-width="0.43" opacity="0.49"/>
<path d="M549.07 228.0 C549.07 257.23 491.92 250.97 491.92 280.2" fill="none" stroke="#fff" stroke-width="0.34" opacity="0.68"/>
<path d="M494.61 228.0 C494.61 257.23 546.70 250.97 546.70 280.2" fill="none" stroke="#fff" stroke-width="0.53" opacity="0.60"/>
<path d="M459.13 228.0 C459.13 257.23 581.60 250.97 581.60 280.2" fill="none" stroke="#fff" stroke-width="0.47" opacity="0.52"/>
<path d="M484.44 228.0 C484.44 257.23 557.65 250.97 557.65 280.2" fill="none" stroke="#fff" stroke-width="0.68" opacity="0.48"/>
<path d="M526.08 228.0 C526.08 257.23 514.73 250.97 514.73 280.2" fill="none" stroke="#fff" stroke-width="0.41" opacity="0.60"/>
<path d="M472.29 228.0 C472.29 257.23 570.84 250.97 570.84 280.2" fill="none" stroke="#fff" stroke-width="0.66" opacity="0.34"/>
<path d="M575.52 228.0 C575.52 257.23 467.00 250.97 467.00 280.2" fill="none" stroke="#fff" stroke-width="0.61" opacity="0.64"/>
<path d="M495.08 228.0 C495.08 257.23 547.52 250.97 547.52 280.2" fill="none" stroke="#fff" stroke-width="0.56" opacity="0.66"/>
<path d="M491.35 228.0 C491.35 257.23 551.51 250.97 551.51 280.2" fill="none" stroke="#fff" stroke-width="0.68" opacity="0.60"/>
<path d="M525.06 228.0 C525.06 257.23 515.71 250.97 515.71 280.2" fill="none" stroke="#fff" stroke-width="0.50" opacity="0.46"/>
<path d="M547.72 228.0 C547.72 257.23 495.63 250.97 495.63 280.2" fill="none" stroke="#fff" stroke-width="0.53" opacity="0.38"/>
<path d="M538.69 228.0 C538.69 257.23 504.33 250.97 504.33 280.2" fill="none" stroke="#fff" stroke-width="0.37" opacity="0.70"/>
<path d="M539.90 228.0 C539.90 257.23 501.11 250.97 501.11 280.2" fill="none" stroke="#fff" stroke-width="0.67" opacity="0.36"/>
<path d="M499.56 228.0 C499.56 257.23 543.27 250.97 543.27 280.2" fill="none" stroke="#fff" stroke-width="0.54" opacity="0.55"/>
<path d="M517.6 246 Q521.2 254.1 517.6 262 L524.6 262 Q521.0 254.1 524.6 246 Z" fill="#e9eaea"/>
<rect x="291.9" y="223.1" width="310.90" height="5.4" rx="1.4" fill="#f4b4c2"/>
<rect x="292.2" y="223.9" width="310.30" height="3.8" rx="0.8" fill="#da3558"/>
<rect x="291.9" y="279.8" width="142.90" height="5.3" rx="1.4" fill="#cdc5a4"/>
<rect x="292.2" y="280.6" width="142.30" height="3.7" rx="0.8" fill="#6a591e"/>
<rect x="440.59999999999997" y="279.8" width="162.20" height="5.3" rx="1.4" fill="#cdc5a4"/>
<rect x="440.9" y="280.6" width="161.60" height="3.7" rx="0.8" fill="#6a591e"/>
<text x="293.60" y="220.20" font-size="7.6" text-anchor="middle" font-weight="normal" font-style="normal" fill="#000">0</text>
<text x="438.20" y="215.20" font-size="7.9" text-anchor="middle" font-weight="normal" font-style="normal" fill="#000">24.7</text>
<text x="433.50" y="220.90" font-size="7.9" text-anchor="end" font-weight="normal" font-style="normal" fill="#000">fusion point</text>
<path d="M436.2 219.8 L439.8 219.8 L438 222.7 Z" fill="none" stroke="#e03a2a" stroke-width="0.5"/>
<text x="611.30" y="220.20" font-size="8.0" text-anchor="middle" font-weight="normal" font-style="normal" fill="#000">52.5 Mb</text>
<text x="267.00" y="225.30" font-size="7.9" text-anchor="middle" font-weight="normal" font-style="normal" fill="#000">Chr1 of</text>
<text x="291.00" y="233.90" font-size="7.9" text-anchor="end" font-weight="normal" font-style="normal" fill="#000">HapY genome</text>
<text x="263.20" y="282.30" font-size="7.9" text-anchor="middle" font-weight="normal" font-style="normal" fill="#000">Chr13 of</text>
<text x="287.30" y="291.00" font-size="7.9" text-anchor="end" font-weight="normal" font-style="normal" fill="#000">female genome</text>
<text x="609.20" y="285.50" font-size="7.9" text-anchor="start" font-weight="normal" font-style="normal" fill="#000">Chr4 of female genome</text>
<text transform="translate(291.20 287.20) rotate(90) scale(0.8 1)" font-size="8.0" fill="#000">0</text>
<text transform="translate(430.60 287.00) rotate(90) scale(0.8 1)" font-size="8.0" fill="#000">24.6 Mb</text>
<text transform="translate(440.00 287.00) rotate(90) scale(0.8 1)" font-size="8.0" fill="#000">0</text>
<text transform="translate(600.20 287.00) rotate(90) scale(0.8 1)" font-size="8.0" fill="#000">28.1 Mb</text>
<rect x="447.6" y="320.9" width="5.3" height="5.3" fill="#ee8462"/>
<rect x="447.6" y="330.7" width="5.3" height="5.3" fill="#52bb46"/>
<text x="454.60" y="326.20" font-size="7.4" text-anchor="start" font-weight="normal" font-style="normal" fill="#000">Putative centromeric  repeats</text>
<text x="454.60" y="335.90" font-size="7.4" text-anchor="start" font-weight="normal" font-style="normal" fill="#000">Putative  telomere-associated  repeats</text>
<text x="612.40" y="338.90" font-size="8.0" text-anchor="middle" font-weight="normal" font-style="normal" fill="#000">52.5 Mb</text>
<text x="291.30" y="340.00" font-size="7.4" text-anchor="middle" font-weight="normal" font-style="normal" fill="#000">0</text>
<text x="265.40" y="344.40" font-size="7.85" text-anchor="middle" font-weight="normal" font-style="normal" fill="#000">Chr1 of</text>
<text x="289.60" y="353.10" font-size="7.85" text-anchor="end" font-weight="normal" font-style="normal" fill="#000">HapY genome</text>
<text x="264.20" y="365.50" font-size="7.85" text-anchor="middle" font-weight="normal" font-style="normal" fill="#000">Chr13 of</text>
<text x="289.90" y="374.30" font-size="7.85" text-anchor="end" font-weight="normal" font-style="normal" fill="#000">female genome</text>
<text x="610.90" y="369.80" font-size="7.2" text-anchor="start" font-weight="normal" font-style="normal" fill="#000">Chr4 of female genome</text>
<line x1="290.4" y1="342.9" x2="608.0" y2="342.9" stroke="#f3a58c" stroke-width="0.7"/>
<line x1="290.4" y1="343.5" x2="608.0" y2="343.5" stroke="#fbdcd2" stroke-width="0.7"/>
<line x1="496.6" y1="342.9" x2="496.6" y2="342.33" stroke="#ee8462" stroke-width="0.5"/>
<line x1="389.9" y1="342.9" x2="389.9" y2="342.49" stroke="#ee8462" stroke-width="0.5"/>
<line x1="312.2" y1="342.9" x2="312.2" y2="342.17" stroke="#ee8462" stroke-width="0.5"/>
<line x1="530.6" y1="342.9" x2="530.6" y2="342.27" stroke="#ee8462" stroke-width="0.5"/>
<line x1="525.9" y1="342.9" x2="525.9" y2="342.38" stroke="#ee8462" stroke-width="0.5"/>
<line x1="375.0" y1="342.9" x2="375.0" y2="342.37" stroke="#ee8462" stroke-width="0.5"/>
<line x1="568.2" y1="342.9" x2="568.2" y2="342.57" stroke="#ee8462" stroke-width="0.5"/>
<line x1="451.1" y1="342.9" x2="451.1" y2="342.45" stroke="#ee8462" stroke-width="0.5"/>
<line x1="535.2" y1="342.9" x2="535.2" y2="342.39" stroke="#ee8462" stroke-width="0.5"/>
<line x1="396.4" y1="342.9" x2="396.4" y2="342.36" stroke="#ee8462" stroke-width="0.5"/>
<line x1="462.8" y1="342.9" x2="462.8" y2="342.14" stroke="#ee8462" stroke-width="0.5"/>
<line x1="402.8" y1="342.9" x2="402.8" y2="342.09" stroke="#ee8462" stroke-width="0.5"/>
<line x1="326.1" y1="342.9" x2="326.1" y2="342.44" stroke="#ee8462" stroke-width="0.5"/>
<line x1="322.1" y1="342.9" x2="322.1" y2="342.53" stroke="#ee8462" stroke-width="0.5"/>
<line x1="538.4" y1="342.9" x2="538.4" y2="342.16" stroke="#ee8462" stroke-width="0.5"/>
<line x1="349.3" y1="342.9" x2="349.3" y2="342.49" stroke="#ee8462" stroke-width="0.5"/>
<line x1="423.1" y1="342.9" x2="423.1" y2="342.15" stroke="#ee8462" stroke-width="0.5"/>
<line x1="550.1" y1="342.9" x2="550.1" y2="342.15" stroke="#ee8462" stroke-width="0.5"/>
<line x1="478.9" y1="342.9" x2="478.9" y2="342.51" stroke="#ee8462" stroke-width="0.5"/>
<line x1="417.3" y1="342.9" x2="417.3" y2="342.48" stroke="#ee8462" stroke-width="0.5"/>
<line x1="458.4" y1="342.9" x2="458.4" y2="342.26" stroke="#ee8462" stroke-width="0.5"/>
<line x1="354.7" y1="342.9" x2="354.7" y2="342.45" stroke="#ee8462" stroke-width="0.5"/>
<line x1="539.3" y1="342.9" x2="539.3" y2="342.58" stroke="#ee8462" stroke-width="0.5"/>
<line x1="546.1" y1="342.9" x2="546.1" y2="342.07" stroke="#ee8462" stroke-width="0.5"/>
<line x1="592.7" y1="342.9" x2="592.7" y2="342.37" stroke="#ee8462" stroke-width="0.5"/>
<line x1="466.3" y1="342.9" x2="466.3" y2="342.25" stroke="#ee8462" stroke-width="0.5"/>
<path d="M434.1 342.9 L434.4 340 L435 339.2 L435.4 336.5 L436 335.5 L436.3 332.9 L436.8 333.2 L437.1 338 L437.7 338.8 L437.8 342.9 Z" fill="#ee7a52"/>
<path d="M439.3 342.9 L439.6 338.5 L440.2 337.6 L440.5 333.2 L441 333.6 L441.4 338.6 L441.9 339.2 L442.5 342.9 Z" fill="#ee7a52"/>
<line x1="585.5" y1="342.9" x2="585.5" y2="338.9" stroke="#ee7a52" stroke-width="0.5"/>
<rect x="290.4" y="344.7" width="144.80" height="5.9" rx="2.9" fill="#fff" stroke="#8a8a8a" stroke-width="0.6"/>
<rect x="436.6" y="344.7" width="172.20" height="5.9" rx="2.9" fill="#fff" stroke="#8a8a8a" stroke-width="0.6"/>
<rect x="434.2" y="345.3" width="3.4" height="4.7" fill="#fff"/>
<path d="M434.3 344.8 L437.4 350.5 M434.3 350.5 L437.4 344.8" stroke="#5a7fb8" stroke-width="0.55" fill="none"/>
<rect x="440.2" y="345.0" width="1.5" height="5.3" fill="#4a78c0"/>
<path d="M290.4 355.9 L290.4 351.6 L608.5 351.6 L608.5 355.5" fill="none" stroke="#6cc85a" stroke-width="0.6"/>
<line x1="292.7" y1="362.2" x2="435.6" y2="362.2" stroke="#f3a58c" stroke-width="0.7"/>
<line x1="438.9" y1="362.2" x2="608.0" y2="362.2" stroke="#f3a58c" stroke-width="0.7"/>
<line x1="292.7" y1="362.8" x2="608.0" y2="362.8" stroke="#fbdcd2" stroke-width="0.7"/>
<line x1="493.0" y1="362.2" x2="493.0" y2="361.31" stroke="#ee8462" stroke-width="0.5"/>
<line x1="509.7" y1="362.2" x2="509.7" y2="361.72" stroke="#ee8462" stroke-width="0.5"/>
<line x1="564.5" y1="362.2" x2="564.5" y2="361.61" stroke="#ee8462" stroke-width="0.5"/>
<line x1="482.8" y1="362.2" x2="482.8" y2="361.46" stroke="#ee8462" stroke-width="0.5"/>
<line x1="293.5" y1="362.2" x2="293.5" y2="361.44" stroke="#ee8462" stroke-width="0.5"/>
<line x1="501.9" y1="362.2" x2="501.9" y2="361.60" stroke="#ee8462" stroke-width="0.5"/>
<line x1="458.2" y1="362.2" x2="458.2" y2="361.62" stroke="#ee8462" stroke-width="0.5"/>
<line x1="353.8" y1="362.2" x2="353.8" y2="361.58" stroke="#ee8462" stroke-width="0.5"/>
<line x1="304.4" y1="362.2" x2="304.4" y2="361.60" stroke="#ee8462" stroke-width="0.5"/>
<line x1="496.9" y1="362.2" x2="496.9" y2="361.63" stroke="#ee8462" stroke-width="0.5"/>
<line x1="471.6" y1="362.2" x2="471.6" y2="361.32" stroke="#ee8462" stroke-width="0.5"/>
<line x1="574.7" y1="362.2" x2="574.7" y2="361.82" stroke="#ee8462" stroke-width="0.5"/>
<line x1="543.2" y1="362.2" x2="543.2" y2="361.53" stroke="#ee8462" stroke-width="0.5"/>
<line x1="308.7" y1="362.2" x2="308.7" y2="361.68" stroke="#ee8462" stroke-width="0.5"/>
<line x1="366.5" y1="362.2" x2="366.5" y2="361.85" stroke="#ee8462" stroke-width="0.5"/>
<line x1="463.0" y1="362.2" x2="463.0" y2="361.34" stroke="#ee8462" stroke-width="0.5"/>
<line x1="394.8" y1="362.2" x2="394.8" y2="361.38" stroke="#ee8462" stroke-width="0.5"/>
<line x1="512.3" y1="362.2" x2="512.3" y2="361.82" stroke="#ee8462" stroke-width="0.5"/>
<line x1="564.0" y1="362.2" x2="564.0" y2="361.54" stroke="#ee8462" stroke-width="0.5"/>
<line x1="585.7" y1="362.2" x2="585.7" y2="361.47" stroke="#ee8462" stroke-width="0.5"/>
<line x1="526.5" y1="362.2" x2="526.5" y2="361.69" stroke="#ee8462" stroke-width="0.5"/>
<line x1="547.7" y1="362.2" x2="547.7" y2="361.34" stroke="#ee8462" stroke-width="0.5"/>
<path d="M433.2 362.2 L433.5 359.6 L434.2 357.7 L434.8 358.4 L435.1 360.2 L435.6 362.2 Z" fill="#ee7a52"/>
<path d="M438.9 362.2 L439.2 358 L439.8 356.4 L440.4 357.2 L440.8 360 L441.4 360.6 L442 362.2 Z" fill="#ee7a52"/>
<rect x="292.7" y="363.9" width="142.90" height="5.6" rx="2.8" fill="#fff" stroke="#8a8a8a" stroke-width="0.6"/>
<rect x="438.9" y="363.9" width="169.90" height="5.6" rx="2.8" fill="#fff" stroke="#8a8a8a" stroke-width="0.6"/>
<rect x="434.2" y="364.3" width="1.3" height="4.9" fill="#5a84c4"/>
<rect x="439.2" y="364.3" width="1.3" height="4.9" fill="#5a84c4"/>
<path d="M292.7 374.8 L292.7 370.5 L435.6 370.5" fill="none" stroke="#6cc85a" stroke-width="0.6"/>
<path d="M438.9 367.5 L438.9 370.6 L608.5 370.6 L608.5 375.1" fill="none" stroke="#6cc85a" stroke-width="0.6"/>
<text transform="translate(290.40 378.40) rotate(90) scale(0.8 1)" font-size="8.0" fill="#000">0</text>
<text transform="translate(430.70 373.20) rotate(90) scale(0.81 1)" font-size="8.0" fill="#000">24.6 Mb</text>
<text transform="translate(438.50 374.80) rotate(90) scale(0.8 1)" font-size="8.0" fill="#000">0</text>
<text transform="translate(605.30 376.00) rotate(90) scale(0.81 1)" font-size="8.0" fill="#000">28.1 Mb</text>
</g>
<g id="panelFG">
<defs><filter id="soft" x="-30%" y="-30%" width="160%" height="160%"><feGaussianBlur stdDeviation="0.32"/></filter></defs>
<path d="M54.93 437.47 L64.65 432.44 L69.36 437.28" fill="none" stroke="#2c2c2c" stroke-width="3.6" stroke-linecap="round" stroke-linejoin="round" filter="url(#soft)"/>
<path d="M76.34 436.73 L80.44 432.44 L88.16 438.06" fill="none" stroke="#2c2c2c" stroke-width="3.6" stroke-linecap="round" stroke-linejoin="round" filter="url(#soft)"/>
<path d="M106.66 436.50 C107.71 436.59 110.73 436.68 113.01 437.05 C115.29 437.42 119.12 438.43 120.34 438.70" fill="none" stroke="#2c2c2c" stroke-width="4.17" stroke-linecap="round" stroke-linejoin="round" filter="url(#soft)"/>
<path d="M129.25 439.16 C129.54 438.68 129.96 436.87 131.00 436.30 C132.04 435.73 133.91 435.81 135.48 435.75 C137.06 435.68 139.63 435.90 140.45 435.93" fill="none" stroke="#2c2c2c" stroke-width="3.88" stroke-linecap="round" stroke-linejoin="round" filter="url(#soft)"/>
<path d="M159.55 433.85 C160.43 433.93 162.94 433.62 164.81 434.32 C166.68 435.02 169.76 437.43 170.75 438.05" fill="none" stroke="#2c2c2c" stroke-width="4.02" stroke-linecap="round" stroke-linejoin="round" filter="url(#soft)"/>
<path d="M178.15 434.39 C178.64 434.20 179.86 433.15 181.09 433.28 C182.31 433.42 184.11 434.92 185.50 435.22 C186.89 435.51 188.23 435.20 189.42 435.03 C190.61 434.86 192.12 434.34 192.66 434.20" fill="none" stroke="#2c2c2c" stroke-width="3.88" stroke-linecap="round" stroke-linejoin="round" filter="url(#soft)"/>
<path d="M211.80 434.93 C212.07 434.54 212.51 433.15 213.39 432.60 C214.28 432.05 215.81 431.58 217.10 431.61 C218.40 431.63 220.19 432.12 221.16 432.77 C222.12 433.42 222.61 435.04 222.90 435.50" fill="none" stroke="#2c2c2c" stroke-width="2.87" stroke-linecap="round" stroke-linejoin="round" filter="url(#soft)"/>
<path d="M229.31 435.99 C230.18 435.51 232.76 433.19 234.50 433.12 C236.25 433.04 238.90 435.12 239.78 435.52" fill="none" stroke="#2c2c2c" stroke-width="3.16" stroke-linecap="round" stroke-linejoin="round" filter="url(#soft)"/>
<path d="M260.35 437.38 L266.69 435.05 L271.95 439.15" fill="none" stroke="#2c2c2c" stroke-width="4.02" stroke-linecap="round" stroke-linejoin="round" filter="url(#soft)"/>
<path d="M278.96 436.46 C280.26 435.90 284.79 433.30 286.75 433.14 C288.71 432.99 290.07 435.14 290.74 435.54" fill="none" stroke="#2c2c2c" stroke-width="4.31" stroke-linecap="round" stroke-linejoin="round" filter="url(#soft)"/>
<path d="M53.54 469.46 L59.30 462.64 L65.36 468.69" fill="none" stroke="#2c2c2c" stroke-width="3.74" stroke-linecap="round" stroke-linejoin="round" filter="url(#soft)"/>
<path d="M73.65 466.10 L78.87 461.85 L82.25 466.85" fill="none" stroke="#2c2c2c" stroke-width="4.02" stroke-linecap="round" stroke-linejoin="round" filter="url(#soft)"/>
<path d="M104.54 464.43 C105.13 464.17 106.74 462.96 108.06 462.87 C109.39 462.78 110.87 463.80 112.47 463.88 C114.07 463.96 116.80 463.42 117.66 463.33" fill="none" stroke="#2c2c2c" stroke-width="3.74" stroke-linecap="round" stroke-linejoin="round" filter="url(#soft)"/>
<path d="M126.54 464.72 C127.21 464.50 129.07 463.55 130.56 463.43 C132.05 463.31 133.81 464.09 135.46 463.98 C137.11 463.87 139.63 462.98 140.46 462.78" fill="none" stroke="#2c2c2c" stroke-width="3.74" stroke-linecap="round" stroke-linejoin="round" filter="url(#soft)"/>
<path d="M163.05 465.21 C164.00 465.10 167.29 463.84 168.76 464.55 C170.22 465.26 171.33 468.63 171.85 469.45" fill="none" stroke="#2c2c2c" stroke-width="4.02" stroke-linecap="round" stroke-linejoin="round" filter="url(#soft)"/>
<path d="M180.13 466.13 C180.93 465.73 183.03 463.61 184.92 463.74 C186.81 463.86 190.37 466.34 191.47 466.87" fill="none" stroke="#2c2c2c" stroke-width="3.6" stroke-linecap="round" stroke-linejoin="round" filter="url(#soft)"/>
<path d="M215.52 468.68 C215.54 467.80 215.17 464.48 215.62 463.37 C216.06 462.26 217.34 462.02 218.20 462.02 C219.06 462.02 220.33 462.26 220.79 463.37 C221.25 464.48 220.95 467.80 220.98 468.68" fill="none" stroke="#2c2c2c" stroke-width="3.3" stroke-linecap="round" stroke-linejoin="round" filter="url(#soft)"/>
<path d="M228.62 468.18 C228.86 467.29 229.44 464.00 230.07 462.87 C230.69 461.74 231.64 461.42 232.38 461.42 C233.12 461.42 234.04 461.74 234.50 462.87 C234.97 464.00 235.07 467.29 235.18 468.18" fill="none" stroke="#2c2c2c" stroke-width="3.3" stroke-linecap="round" stroke-linejoin="round" filter="url(#soft)"/>
<path d="M266.23 466.87 C266.23 466.05 265.88 463.01 266.23 461.97 C266.58 460.93 267.62 460.63 268.33 460.63 C269.05 460.63 269.94 460.93 270.53 461.97 C271.12 463.01 271.65 466.05 271.87 466.87" fill="none" stroke="#2c2c2c" stroke-width="3.45" stroke-linecap="round" stroke-linejoin="round" filter="url(#soft)"/>
<path d="M281.03 466.13 C281.16 465.53 281.24 463.27 281.80 462.49 C282.36 461.70 283.54 461.40 284.39 461.43 C285.24 461.46 286.41 461.64 286.89 462.68 C287.37 463.72 287.21 466.84 287.27 467.67" fill="none" stroke="#2c2c2c" stroke-width="3.45" stroke-linecap="round" stroke-linejoin="round" filter="url(#soft)"/>
<path d="M60.34 498.15 C60.50 497.75 60.78 496.34 61.32 495.77 C61.87 495.20 62.80 494.77 63.62 494.75 C64.44 494.73 65.61 495.14 66.24 495.63 C66.86 496.12 67.17 497.35 67.36 497.69" fill="none" stroke="#2c2c2c" stroke-width="4.47" stroke-linecap="round" stroke-linejoin="round" filter="url(#soft)"/>
<path d="M75.14 499.04 C75.29 498.60 75.54 497.02 76.03 496.40 C76.53 495.77 77.39 495.26 78.11 495.26 C78.84 495.26 79.84 495.77 80.39 496.40 C80.93 497.02 81.20 498.60 81.36 499.04" fill="none" stroke="#2c2c2c" stroke-width="4.47" stroke-linecap="round" stroke-linejoin="round" filter="url(#soft)"/>
<path d="M110.02 496.36 C110.65 495.82 112.34 493.26 113.83 493.14 C115.33 493.02 118.13 495.21 118.98 495.62" fill="none" stroke="#2c2c2c" stroke-width="4.02" stroke-linecap="round" stroke-linejoin="round" filter="url(#soft)"/>
<path d="M126.13 494.53 C126.97 494.19 129.68 492.43 131.17 492.51 C132.66 492.58 134.42 494.58 135.07 494.99" fill="none" stroke="#2c2c2c" stroke-width="4.32" stroke-linecap="round" stroke-linejoin="round" filter="url(#soft)"/>
<path d="M164.22 496.34 C164.54 495.75 165.02 493.17 166.19 492.76 C167.37 492.34 170.44 493.68 171.28 493.86" fill="none" stroke="#2c2c2c" stroke-width="4.02" stroke-linecap="round" stroke-linejoin="round" filter="url(#soft)"/>
<path d="M178.40 493.84 C179.25 493.56 181.88 492.33 183.50 492.18 C185.12 492.03 187.26 492.23 188.12 492.92 C188.99 493.61 188.60 495.75 188.70 496.32" fill="none" stroke="#2c2c2c" stroke-width="3.73" stroke-linecap="round" stroke-linejoin="round" filter="url(#soft)"/>
<path d="M209.83 499.04 C210.39 498.41 211.55 495.48 213.17 495.26 C214.80 495.05 218.50 497.33 219.57 497.75" fill="none" stroke="#2c2c2c" stroke-width="4.32" stroke-linecap="round" stroke-linejoin="round" filter="url(#soft)"/>
<path d="M225.93 497.21 C226.90 496.80 230.13 494.65 231.75 494.73 C233.38 494.80 235.02 497.18 235.67 497.67" fill="none" stroke="#2c2c2c" stroke-width="4.32" stroke-linecap="round" stroke-linejoin="round" filter="url(#soft)"/>
<path d="M266.12 498.10 C266.24 497.55 266.42 495.59 266.80 494.81 C267.17 494.03 267.61 493.43 268.37 493.40 C269.13 493.38 270.67 493.97 271.38 494.67 C272.10 495.38 272.46 497.14 272.67 497.64" fill="none" stroke="#2c2c2c" stroke-width="4.17" stroke-linecap="round" stroke-linejoin="round" filter="url(#soft)"/>
<path d="M279.59 499.01 C279.68 498.23 279.77 495.30 280.14 494.31 C280.50 493.32 281.26 493.09 281.77 493.09 C282.29 493.09 282.96 493.32 283.23 494.31 C283.50 495.30 283.38 498.23 283.41 499.01" fill="none" stroke="#2c2c2c" stroke-width="3.57" stroke-linecap="round" stroke-linejoin="round" filter="url(#soft)"/>
<path d="M61.70 525.80 L65.97 520.80 L69.30 525.80" fill="none" stroke="#2c2c2c" stroke-width="3.73" stroke-linecap="round" stroke-linejoin="round" filter="url(#soft)"/>
<path d="M75.91 525.82 L78.12 521.58 L80.79 525.82" fill="none" stroke="#2c2c2c" stroke-width="3.88" stroke-linecap="round" stroke-linejoin="round" filter="url(#soft)"/>
<path d="M114.09 525.81 C114.14 525.06 113.92 522.30 114.37 521.30 C114.82 520.29 116.01 519.79 116.80 519.79 C117.59 519.79 118.68 520.29 119.14 521.30 C119.59 522.30 119.45 525.06 119.51 525.81" fill="none" stroke="#2c2c2c" stroke-width="3.57" stroke-linecap="round" stroke-linejoin="round" filter="url(#soft)"/>
<path d="M126.11 528.49 C126.30 527.69 126.62 524.82 127.25 523.67 C127.88 522.53 129.02 521.68 129.90 521.61 C130.78 521.54 131.92 522.35 132.55 523.28 C133.18 524.20 133.50 526.52 133.69 527.17" fill="none" stroke="#2c2c2c" stroke-width="3.88" stroke-linecap="round" stroke-linejoin="round" filter="url(#soft)"/>
<path d="M165.11 529.79 C165.13 528.91 164.87 525.61 165.20 524.53 C165.53 523.45 166.48 523.31 167.10 523.31 C167.72 523.31 168.58 523.45 168.91 524.53 C169.24 525.61 169.06 528.91 169.09 529.79" fill="none" stroke="#2c2c2c" stroke-width="3.88" stroke-linecap="round" stroke-linejoin="round" filter="url(#soft)"/>
<path d="M177.71 529.29 C177.76 528.36 177.62 524.88 177.98 523.73 C178.35 522.58 179.27 522.41 179.90 522.41 C180.52 522.41 181.37 522.58 181.72 523.73 C182.07 524.88 181.94 528.36 181.99 529.29" fill="none" stroke="#2c2c2c" stroke-width="3.88" stroke-linecap="round" stroke-linejoin="round" filter="url(#soft)"/>
<path d="M210.60 523.59 C211.34 523.47 214.22 522.38 215.04 522.86 C215.85 523.33 215.42 525.85 215.50 526.44" fill="none" stroke="#2c2c2c" stroke-width="3.73" stroke-linecap="round" stroke-linejoin="round" filter="url(#soft)"/>
<path d="M225.33 523.67 C226.18 523.64 229.08 522.81 230.44 523.48 C231.80 524.16 232.97 527.01 233.47 527.72" fill="none" stroke="#2c2c2c" stroke-width="4.32" stroke-linecap="round" stroke-linejoin="round" filter="url(#soft)"/>
<path d="M264.23 526.00 C264.87 525.71 266.82 523.96 268.10 524.25 C269.37 524.54 271.24 527.17 271.87 527.75" fill="none" stroke="#2c2c2c" stroke-width="4.32" stroke-linecap="round" stroke-linejoin="round" filter="url(#soft)"/>
<path d="M279.03 526.63 C279.22 526.18 279.53 524.57 280.16 523.93 C280.79 523.28 281.92 522.77 282.80 522.77 C283.68 522.77 284.81 523.28 285.44 523.93 C286.07 524.57 286.38 526.18 286.57 526.63" fill="none" stroke="#2c2c2c" stroke-width="4.32" stroke-linecap="round" stroke-linejoin="round" filter="url(#soft)"/>
<path d="M62.21 552.13 C62.45 551.64 63.00 549.43 63.67 549.18 C64.34 548.94 65.74 549.95 66.23 550.66 C66.71 551.36 66.53 552.96 66.59 553.42" fill="none" stroke="#2c2c2c" stroke-width="3.88" stroke-linecap="round" stroke-linejoin="round" filter="url(#soft)"/>
<path d="M76.41 554.04 C76.50 553.61 76.64 552.08 76.93 551.46 C77.22 550.85 77.63 550.36 78.14 550.36 C78.65 550.36 79.56 550.85 80.00 551.46 C80.44 552.08 80.66 553.61 80.79 554.04" fill="none" stroke="#2c2c2c" stroke-width="3.88" stroke-linecap="round" stroke-linejoin="round" filter="url(#soft)"/>
<path d="M112.61 555.38 C112.83 554.80 113.05 552.42 113.92 551.88 C114.79 551.35 117.08 551.45 117.83 552.16 C118.58 552.87 118.30 555.46 118.39 556.12" fill="none" stroke="#2c2c2c" stroke-width="3.88" stroke-linecap="round" stroke-linejoin="round" filter="url(#soft)"/>
<path d="M128.81 556.09 C128.86 555.33 128.69 552.50 129.08 551.52 C129.48 550.54 130.53 550.21 131.18 550.21 C131.84 550.21 132.67 550.54 133.01 551.52 C133.34 552.50 133.16 555.33 133.19 556.09" fill="none" stroke="#2c2c2c" stroke-width="3.88" stroke-linecap="round" stroke-linejoin="round" filter="url(#soft)"/>
<path d="M165.00 554.14 C165.41 553.83 166.32 552.22 167.46 552.30 C168.59 552.38 171.08 554.22 171.80 554.60" fill="none" stroke="#2c2c2c" stroke-width="3.73" stroke-linecap="round" stroke-linejoin="round" filter="url(#soft)"/>
<path d="M181.10 556.20 C181.73 555.80 183.63 553.93 184.90 553.80 C186.17 553.68 188.07 555.18 188.70 555.46" fill="none" stroke="#2c2c2c" stroke-width="3.73" stroke-linecap="round" stroke-linejoin="round" filter="url(#soft)"/>
<path d="M214.53 556.73 C215.18 556.47 217.19 555.17 218.39 555.17 C219.60 555.17 221.20 556.47 221.77 556.73" fill="none" stroke="#2c2c2c" stroke-width="2.53" stroke-linecap="round" stroke-linejoin="round" filter="url(#soft)"/>
<path d="M226.65 556.78 C227.20 556.59 229.01 555.58 229.98 555.67 C230.95 555.76 232.04 557.05 232.45 557.33" fill="none" stroke="#2c2c2c" stroke-width="2.68" stroke-linecap="round" stroke-linejoin="round" filter="url(#soft)"/>
<text x="71.40" y="450.20" font-size="9.1" text-anchor="middle" font-weight="normal" font-style="normal" fill="#000">1</text>
<text x="125.00" y="450.20" font-size="9.1" text-anchor="middle" font-weight="normal" font-style="normal" fill="#000">2</text>
<text x="176.20" y="450.20" font-size="9.1" text-anchor="middle" font-weight="normal" font-style="normal" fill="#000">3</text>
<text x="225.10" y="450.20" font-size="9.1" text-anchor="middle" font-weight="normal" font-style="normal" fill="#000">4</text>
<text x="276.60" y="450.20" font-size="9.1" text-anchor="middle" font-weight="normal" font-style="normal" fill="#000">5</text>
<text x="70.00" y="479.70" font-size="9.1" text-anchor="middle" font-weight="normal" font-style="normal" fill="#000">6</text>
<text x="123.70" y="479.70" font-size="9.1" text-anchor="middle" font-weight="normal" font-style="normal" fill="#000">7</text>
<text x="175.30" y="479.70" font-size="9.1" text-anchor="middle" font-weight="normal" font-style="normal" fill="#000">8</text>
<text x="224.60" y="479.70" font-size="9.1" text-anchor="middle" font-weight="normal" font-style="normal" fill="#000">9</text>
<text x="279.60" y="479.70" font-size="9.1" text-anchor="middle" font-weight="normal" font-style="normal" fill="#000">10</text>
<text x="71.70" y="510.80" font-size="9.1" text-anchor="middle" font-weight="normal" font-style="normal" fill="#000">11</text>
<text x="127.20" y="510.80" font-size="9.1" text-anchor="middle" font-weight="normal" font-style="normal" fill="#000">12</text>
<text x="176.20" y="510.80" font-size="9.1" text-anchor="middle" font-weight="normal" font-style="normal" fill="#000">13</text>
<text x="225.90" y="510.80" font-size="9.1" text-anchor="middle" font-weight="normal" font-style="normal" fill="#000">14</text>
<text x="278.00" y="510.80" font-size="9.1" text-anchor="middle" font-weight="normal" font-style="normal" fill="#000">15</text>
<text x="72.20" y="540.30" font-size="9.1" text-anchor="middle" font-weight="normal" font-style="normal" fill="#000">16</text>
<text x="123.70" y="540.30" font-size="9.1" text-anchor="middle" font-weight="normal" font-style="normal" fill="#000">17</text>
<text x="176.20" y="540.30" font-size="9.1" text-anchor="middle" font-weight="normal" font-style="normal" fill="#000">18</text>
<text x="224.60" y="540.30" font-size="9.1" text-anchor="middle" font-weight="normal" font-style="normal" fill="#000">19</text>
<text x="276.10" y="540.30" font-size="9.1" text-anchor="middle" font-weight="normal" font-style="normal" fill="#000">20</text>
<text x="69.50" y="568.50" font-size="9.1" text-anchor="middle" font-weight="normal" font-style="normal" fill="#000">21</text>
<text x="123.70" y="568.50" font-size="9.1" text-anchor="middle" font-weight="normal" font-style="normal" fill="#000">22</text>
<text x="173.60" y="568.50" font-size="9.1" text-anchor="middle" font-weight="normal" font-style="normal" fill="#000">23</text>
<text x="223.80" y="568.50" font-size="9.1" text-anchor="middle" font-weight="normal" font-style="normal" fill="#000">24</text>
<text x="174.30" y="423.00" font-size="12.2" text-anchor="middle" font-weight="normal" font-style="normal" fill="#000">Female</text>
<text x="272.90" y="563.60" font-size="8.3" text-anchor="middle" font-weight="normal" font-style="normal" fill="#000">2 μm</text>
<line x1="268.3" y1="568.4" x2="276.3" y2="568.4" stroke="#333" stroke-width="0.9"/>
<path d="M351.66 432.90 C351.95 432.50 352.43 431.07 353.39 430.49 C354.35 429.92 355.90 429.42 357.42 429.46 C358.93 429.50 361.27 430.03 362.47 430.74 C363.68 431.46 364.28 433.24 364.64 433.74" fill="none" stroke="#5c5c5c" stroke-width="4.26" stroke-linecap="round" stroke-linejoin="round" filter="url(#soft)"/>
<path d="M373.75 432.92 C374.95 432.61 378.91 431.22 380.98 431.08 C383.04 430.94 385.29 431.92 386.16 432.09" fill="none" stroke="#5c5c5c" stroke-width="3.96" stroke-linecap="round" stroke-linejoin="round" filter="url(#soft)"/>
<path d="M407.64 433.47 C408.21 433.28 409.76 432.30 411.07 432.36 C412.37 432.43 413.87 433.77 415.47 433.84 C417.07 433.90 419.80 432.92 420.66 432.73" fill="none" stroke="#5c5c5c" stroke-width="3.82" stroke-linecap="round" stroke-linejoin="round" filter="url(#soft)"/>
<path d="M429.76 433.71 C430.96 433.37 435.05 431.81 436.96 431.69 C438.87 431.57 440.53 432.76 441.24 432.98" fill="none" stroke="#5c5c5c" stroke-width="4.26" stroke-linecap="round" stroke-linejoin="round" filter="url(#soft)"/>
<path d="M465.47 433.78 C465.71 433.47 466.11 432.36 466.92 431.92 C467.72 431.47 469.14 431.12 470.30 431.12 C471.47 431.12 473.04 431.47 473.90 431.92 C474.75 432.36 475.18 433.47 475.44 433.78" fill="none" stroke="#5c5c5c" stroke-width="4.41" stroke-linecap="round" stroke-linejoin="round" filter="url(#soft)"/>
<path d="M484.65 434.36 C485.61 433.82 488.41 431.51 490.41 431.14 C492.41 430.77 495.61 431.98 496.65 432.15" fill="none" stroke="#5c5c5c" stroke-width="4.11" stroke-linecap="round" stroke-linejoin="round" filter="url(#soft)"/>
<path d="M518.44 433.86 C519.27 433.60 521.72 432.20 523.40 432.29 C525.09 432.38 527.70 434.06 528.56 434.41" fill="none" stroke="#5c5c5c" stroke-width="3.82" stroke-linecap="round" stroke-linejoin="round" filter="url(#soft)"/>
<path d="M537.03 432.94 C538.00 432.73 540.88 431.66 542.80 431.66 C544.72 431.66 547.60 432.73 548.57 432.94" fill="none" stroke="#5c5c5c" stroke-width="3.67" stroke-linecap="round" stroke-linejoin="round" filter="url(#soft)"/>
<path d="M578.55 437.25 C578.57 436.75 578.17 435.00 578.69 434.25 C579.22 433.50 580.70 432.75 581.70 432.75 C582.70 432.75 584.18 433.50 584.71 434.25 C585.23 435.00 584.83 436.75 584.85 437.25" fill="none" stroke="#5c5c5c" stroke-width="4.11" stroke-linecap="round" stroke-linejoin="round" filter="url(#soft)"/>
<path d="M593.04 436.66 C593.21 436.09 593.50 434.09 594.06 433.29 C594.63 432.49 595.37 431.89 596.44 431.84 C597.50 431.80 599.49 432.37 600.44 433.03 C601.39 433.69 601.87 435.34 602.15 435.81" fill="none" stroke="#5c5c5c" stroke-width="3.96" stroke-linecap="round" stroke-linejoin="round" filter="url(#soft)"/>
<path d="M358.67 467.33 C358.69 466.59 358.31 463.88 358.81 462.88 C359.30 461.89 360.70 461.37 361.65 461.37 C362.60 461.37 364.00 461.89 364.49 462.88 C364.99 463.88 364.61 466.59 364.63 467.33" fill="none" stroke="#5c5c5c" stroke-width="4.41" stroke-linecap="round" stroke-linejoin="round" filter="url(#soft)"/>
<path d="M373.97 467.33 C373.99 466.49 373.61 463.38 374.11 462.29 C374.60 461.19 376.00 460.77 376.95 460.77 C377.90 460.77 379.30 461.19 379.79 462.29 C380.29 463.38 379.91 466.49 379.94 467.33" fill="none" stroke="#5c5c5c" stroke-width="4.41" stroke-linecap="round" stroke-linejoin="round" filter="url(#soft)"/>
<path d="M413.57 467.32 C413.75 466.69 414.03 464.42 414.60 463.51 C415.18 462.60 416.18 461.88 417.00 461.88 C417.83 461.88 418.94 462.60 419.54 463.51 C420.14 464.42 420.44 466.69 420.62 467.32" fill="none" stroke="#5c5c5c" stroke-width="4.7" stroke-linecap="round" stroke-linejoin="round" filter="url(#soft)"/>
<path d="M429.78 467.32 C429.96 466.62 430.27 464.10 430.89 463.09 C431.51 462.08 432.67 461.28 433.49 461.28 C434.31 461.28 435.27 462.08 435.82 463.09 C436.38 464.10 436.66 466.62 436.82 467.32" fill="none" stroke="#5c5c5c" stroke-width="4.7" stroke-linecap="round" stroke-linejoin="round" filter="url(#soft)"/>
<path d="M471.56 467.33 C471.59 466.74 471.22 464.61 471.71 463.77 C472.20 462.92 473.57 462.27 474.50 462.27 C475.43 462.27 476.80 462.92 477.29 463.77 C477.78 464.61 477.41 466.74 477.44 467.33" fill="none" stroke="#5c5c5c" stroke-width="4.41" stroke-linecap="round" stroke-linejoin="round" filter="url(#soft)"/>
<path d="M484.17 467.73 C484.19 467.16 483.77 465.09 484.31 464.27 C484.85 463.44 486.37 462.77 487.40 462.77 C488.43 462.77 489.95 463.44 490.49 464.27 C491.03 465.09 490.61 467.16 490.63 467.73" fill="none" stroke="#5c5c5c" stroke-width="4.41" stroke-linecap="round" stroke-linejoin="round" filter="url(#soft)"/>
<path d="M524.55 469.05 C524.57 468.30 524.24 465.57 524.69 464.57 C525.14 463.57 526.40 463.05 527.25 463.05 C528.10 463.05 529.36 463.57 529.81 464.57 C530.26 465.57 529.93 468.30 529.95 469.05" fill="none" stroke="#5c5c5c" stroke-width="4.11" stroke-linecap="round" stroke-linejoin="round" filter="url(#soft)"/>
<path d="M539.35 468.15 C539.37 467.57 539.00 465.49 539.49 464.66 C539.98 463.83 541.50 463.15 542.27 463.15 C543.04 463.15 543.78 463.83 544.11 464.66 C544.44 465.49 544.23 467.57 544.25 468.15" fill="none" stroke="#5c5c5c" stroke-width="4.11" stroke-linecap="round" stroke-linejoin="round" filter="url(#soft)"/>
<path d="M579.06 468.13 C579.09 467.41 578.73 464.76 579.21 463.78 C579.69 462.80 581.04 462.27 581.95 462.27 C582.86 462.27 584.21 462.80 584.69 463.78 C585.17 464.76 584.81 467.41 584.84 468.13" fill="none" stroke="#5c5c5c" stroke-width="4.41" stroke-linecap="round" stroke-linejoin="round" filter="url(#soft)"/>
<path d="M594.46 468.13 C594.72 467.31 595.02 463.85 595.98 463.17 C596.94 462.48 599.68 463.31 600.24 464.01 C600.79 464.71 599.45 466.82 599.29 467.38" fill="none" stroke="#5c5c5c" stroke-width="4.41" stroke-linecap="round" stroke-linejoin="round" filter="url(#soft)"/>
<path d="M356.15 498.69 C356.76 498.34 358.66 496.74 359.78 496.58 C360.89 496.41 362.40 497.01 362.85 497.68 C363.29 498.35 362.54 500.13 362.47 500.62" fill="none" stroke="#5c5c5c" stroke-width="4.73" stroke-linecap="round" stroke-linejoin="round" filter="url(#soft)"/>
<path d="M370.56 500.58 C370.86 499.74 371.36 496.27 372.41 495.52 C373.46 494.77 376.08 495.55 376.87 496.07 C377.66 496.59 377.10 498.22 377.14 498.65" fill="none" stroke="#5c5c5c" stroke-width="4.73" stroke-linecap="round" stroke-linejoin="round" filter="url(#soft)"/>
<path d="M414.23 497.03 C414.83 496.71 416.58 495.12 417.83 495.10 C419.08 495.08 420.94 496.17 421.71 496.94 C422.49 497.71 422.34 499.24 422.47 499.70" fill="none" stroke="#5c5c5c" stroke-width="4.27" stroke-linecap="round" stroke-linejoin="round" filter="url(#soft)"/>
<path d="M430.74 497.77 C431.38 497.32 433.40 495.24 434.59 495.10 C435.79 494.96 437.28 496.17 437.89 496.94 C438.50 497.71 438.20 499.24 438.26 499.70" fill="none" stroke="#5c5c5c" stroke-width="4.41" stroke-linecap="round" stroke-linejoin="round" filter="url(#soft)"/>
<path d="M472.52 499.69 C472.66 499.12 472.91 497.09 473.39 496.27 C473.87 495.46 474.69 494.81 475.42 494.81 C476.15 494.81 477.21 495.46 477.77 496.27 C478.33 497.09 478.61 499.12 478.78 499.69" fill="none" stroke="#5c5c5c" stroke-width="4.11" stroke-linecap="round" stroke-linejoin="round" filter="url(#soft)"/>
<path d="M484.32 499.69 C484.50 499.12 484.81 497.09 485.42 496.27 C486.03 495.46 487.17 494.81 487.99 494.81 C488.81 494.81 489.80 495.46 490.36 496.27 C490.93 497.09 491.21 499.12 491.38 499.69" fill="none" stroke="#5c5c5c" stroke-width="4.11" stroke-linecap="round" stroke-linejoin="round" filter="url(#soft)"/>
<path d="M522.61 499.13 C522.79 498.53 523.10 496.40 523.71 495.55 C524.33 494.69 525.47 493.98 526.29 494.01 C527.12 494.04 528.10 494.77 528.67 495.71 C529.24 496.66 529.52 499.03 529.69 499.69" fill="none" stroke="#5c5c5c" stroke-width="3.96" stroke-linecap="round" stroke-linejoin="round" filter="url(#soft)"/>
<path d="M537.32 499.08 C537.50 498.49 537.81 496.38 538.43 495.54 C539.04 494.69 540.09 494.02 541.02 494.02 C541.94 494.02 543.29 494.69 544.00 495.54 C544.71 496.38 545.07 498.49 545.28 499.08" fill="none" stroke="#5c5c5c" stroke-width="4.11" stroke-linecap="round" stroke-linejoin="round" filter="url(#soft)"/>
<path d="M577.16 496.40 C577.72 496.26 579.47 495.58 580.49 495.57 C581.51 495.55 582.75 495.66 583.27 496.30 C583.79 496.95 583.58 498.91 583.64 499.43" fill="none" stroke="#5c5c5c" stroke-width="4.87" stroke-linecap="round" stroke-linejoin="round" filter="url(#soft)"/>
<path d="M590.16 498.84 C590.57 498.27 591.58 496.06 592.62 495.43 C593.66 494.80 595.31 494.90 596.40 495.06 C597.49 495.23 598.68 496.21 599.14 496.44" fill="none" stroke="#5c5c5c" stroke-width="4.87" stroke-linecap="round" stroke-linejoin="round" filter="url(#soft)"/>
<path d="M359.94 528.83 C360.33 528.52 361.85 526.57 362.28 526.99 C362.72 527.40 362.51 530.59 362.56 531.31" fill="none" stroke="#5c5c5c" stroke-width="3.96" stroke-linecap="round" stroke-linejoin="round" filter="url(#soft)"/>
<path d="M370.94 531.53 C371.04 531.07 371.20 529.42 371.54 528.76 C371.88 528.10 372.33 527.57 372.96 527.57 C373.59 527.57 374.78 528.10 375.34 528.76 C375.91 529.42 376.19 531.07 376.37 531.53" fill="none" stroke="#5c5c5c" stroke-width="4.41" stroke-linecap="round" stroke-linejoin="round" filter="url(#soft)"/>
<path d="M416.06 529.30 C416.22 528.92 416.49 527.58 417.03 527.04 C417.57 526.51 418.54 526.03 419.30 526.08 C420.06 526.12 421.03 526.62 421.57 527.29 C422.11 527.97 422.38 529.65 422.55 530.12" fill="none" stroke="#5c5c5c" stroke-width="4.73" stroke-linecap="round" stroke-linejoin="round" filter="url(#soft)"/>
<path d="M429.86 527.34 C430.53 527.03 432.88 525.04 433.93 525.50 C434.97 525.96 435.77 529.33 436.14 530.10" fill="none" stroke="#5c5c5c" stroke-width="4.73" stroke-linecap="round" stroke-linejoin="round" filter="url(#soft)"/>
<path d="M467.05 529.18 C467.19 528.75 467.43 527.21 467.91 526.60 C468.40 525.99 469.13 525.45 469.94 525.50 C470.75 525.54 472.08 526.10 472.75 526.85 C473.42 527.60 473.75 529.48 473.95 530.00" fill="none" stroke="#5c5c5c" stroke-width="4.57" stroke-linecap="round" stroke-linejoin="round" filter="url(#soft)"/>
<path d="M484.15 528.62 C484.35 528.26 484.67 526.96 485.31 526.43 C485.96 525.91 487.05 525.43 488.02 525.50 C488.98 525.56 490.38 526.10 491.12 526.85 C491.85 527.60 492.22 529.48 492.44 530.00" fill="none" stroke="#5c5c5c" stroke-width="4.73" stroke-linecap="round" stroke-linejoin="round" filter="url(#soft)"/>
<path d="M527.46 530.90 C527.69 530.11 527.79 526.65 528.84 526.20 C529.89 525.76 532.93 527.89 533.75 528.23" fill="none" stroke="#5c5c5c" stroke-width="4.73" stroke-linecap="round" stroke-linejoin="round" filter="url(#soft)"/>
<path d="M540.65 531.53 C540.80 531.07 541.05 529.42 541.55 528.76 C542.05 528.10 542.83 527.60 543.63 527.57 C544.44 527.54 545.72 528.03 546.37 528.59 C547.02 529.16 547.35 530.58 547.54 530.98" fill="none" stroke="#5c5c5c" stroke-width="4.73" stroke-linecap="round" stroke-linejoin="round" filter="url(#soft)"/>
<path d="M578.36 530.09 C578.49 529.79 578.72 528.71 579.18 528.28 C579.64 527.86 580.40 527.51 581.11 527.51 C581.83 527.51 582.89 527.86 583.45 528.28 C584.00 528.71 584.28 529.79 584.45 530.09" fill="none" stroke="#5c5c5c" stroke-width="2.89" stroke-linecap="round" stroke-linejoin="round" filter="url(#soft)"/>
<path d="M590.70 530.05 C590.91 529.65 591.27 528.24 591.99 527.67 C592.70 527.10 594.00 526.65 595.00 526.65 C595.99 526.65 597.24 527.10 597.94 527.67 C598.64 528.24 598.99 529.65 599.20 530.05" fill="none" stroke="#5c5c5c" stroke-width="3.65" stroke-linecap="round" stroke-linejoin="round" filter="url(#soft)"/>
<path d="M356.13 559.71 C356.75 559.51 358.55 558.28 359.81 558.51 C361.06 558.74 363.02 560.66 363.66 561.09" fill="none" stroke="#5c5c5c" stroke-width="4.41" stroke-linecap="round" stroke-linejoin="round" filter="url(#soft)"/>
<path d="M370.95 561.11 C371.65 560.76 373.72 559.13 375.10 558.99 C376.48 558.85 378.55 560.07 379.25 560.28" fill="none" stroke="#5c5c5c" stroke-width="4.73" stroke-linecap="round" stroke-linejoin="round" filter="url(#soft)"/>
<path d="M415.0 561.2 L420.7 560.3" fill="none" stroke="#5c5c5c" stroke-width="2.59" stroke-linecap="round" stroke-linejoin="round" filter="url(#soft)"/>
<path d="M430.68 561.72 C431.48 561.41 433.89 559.97 435.50 559.88 C437.11 559.79 439.52 560.95 440.32 561.17" fill="none" stroke="#5c5c5c" stroke-width="3.35" stroke-linecap="round" stroke-linejoin="round" filter="url(#soft)"/>
<path d="M467.75 562.36 C467.77 561.63 467.32 558.99 467.88 558.02 C468.45 557.05 470.06 556.54 471.15 556.54 C472.24 556.54 473.85 557.05 474.42 558.02 C474.98 558.99 474.53 561.63 474.56 562.36" fill="none" stroke="#5c5c5c" stroke-width="4.57" stroke-linecap="round" stroke-linejoin="round" filter="url(#soft)"/>
<path d="M484.92 562.43 C485.12 561.79 485.39 559.14 486.10 558.57 C486.81 558.00 488.85 558.38 489.18 559.03 C489.51 559.67 488.27 561.86 488.09 562.43" fill="none" stroke="#5c5c5c" stroke-width="4.11" stroke-linecap="round" stroke-linejoin="round" filter="url(#soft)"/>
<path d="M501.6 552.0 Q504.6 558.6 508.0 565.2 M507.6 552.0 Q505.0 558.6 502.0 565.2" fill="none" stroke="#5c5c5c" stroke-width="3.0" stroke-linecap="round" filter="url(#soft)"/>
<text x="369.20" y="450.50" font-size="9.1" text-anchor="middle" font-weight="normal" font-style="normal" fill="#000">1</text>
<text x="425.80" y="450.50" font-size="9.1" text-anchor="middle" font-weight="normal" font-style="normal" fill="#000">2</text>
<text x="479.20" y="450.50" font-size="9.1" text-anchor="middle" font-weight="normal" font-style="normal" fill="#000">3</text>
<text x="532.20" y="450.50" font-size="9.1" text-anchor="middle" font-weight="normal" font-style="normal" fill="#000">4</text>
<text x="588.50" y="450.50" font-size="9.1" text-anchor="middle" font-weight="normal" font-style="normal" fill="#000">5</text>
<text x="368.60" y="479.10" font-size="9.1" text-anchor="middle" font-weight="normal" font-style="normal" fill="#000">6</text>
<text x="425.20" y="479.10" font-size="9.1" text-anchor="middle" font-weight="normal" font-style="normal" fill="#000">7</text>
<text x="479.50" y="479.10" font-size="9.1" text-anchor="middle" font-weight="normal" font-style="normal" fill="#000">8</text>
<text x="534.00" y="479.10" font-size="9.1" text-anchor="middle" font-weight="normal" font-style="normal" fill="#000">9</text>
<text x="589.10" y="479.10" font-size="9.1" text-anchor="middle" font-weight="normal" font-style="normal" fill="#000">10</text>
<text x="369.20" y="512.40" font-size="9.1" text-anchor="middle" font-weight="normal" font-style="normal" fill="#000">11</text>
<text x="425.80" y="512.40" font-size="9.1" text-anchor="middle" font-weight="normal" font-style="normal" fill="#000">12</text>
<text x="480.90" y="512.40" font-size="9.1" text-anchor="middle" font-weight="normal" font-style="normal" fill="#000">13</text>
<text x="534.00" y="512.40" font-size="9.1" text-anchor="middle" font-weight="normal" font-style="normal" fill="#000">14</text>
<text x="588.20" y="512.40" font-size="9.1" text-anchor="middle" font-weight="normal" font-style="normal" fill="#000">15</text>
<text x="369.80" y="542.40" font-size="9.1" text-anchor="middle" font-weight="normal" font-style="normal" fill="#000">16</text>
<text x="425.80" y="542.40" font-size="9.1" text-anchor="middle" font-weight="normal" font-style="normal" fill="#000">17</text>
<text x="480.90" y="542.40" font-size="9.1" text-anchor="middle" font-weight="normal" font-style="normal" fill="#000">18</text>
<text x="535.10" y="542.40" font-size="9.1" text-anchor="middle" font-weight="normal" font-style="normal" fill="#000">19</text>
<text x="587.60" y="542.40" font-size="9.1" text-anchor="middle" font-weight="normal" font-style="normal" fill="#000">20</text>
<text x="369.80" y="573.40" font-size="9.1" text-anchor="middle" font-weight="normal" font-style="normal" fill="#000">21</text>
<text x="426.10" y="573.40" font-size="9.1" text-anchor="middle" font-weight="normal" font-style="normal" fill="#000">22</text>
<text x="485.90" y="573.40" font-size="9.1" text-anchor="middle" font-weight="normal" font-style="normal" fill="#000">23</text>
<text x="486.00" y="423.60" font-size="12.2" text-anchor="middle" font-weight="normal" font-style="normal" fill="#000">Male</text>
<text x="555.30" y="563.40" font-size="8.3" text-anchor="middle" font-weight="normal" font-style="normal" fill="#000">2 μm</text>
<line x1="550.9" y1="567.6" x2="558.8" y2="567.6" stroke="#333" stroke-width="0.9"/>
</g>
<text x="1.30" y="13.70" font-size="17.9" text-anchor="start" font-weight="bold" font-style="normal" fill="#000">A</text>
<text x="222.00" y="15.40" font-size="17.9" text-anchor="start" font-weight="bold" font-style="normal" fill="#000">B</text>
<text x="432.60" y="18.40" font-size="17.9" text-anchor="start" font-weight="bold" font-style="normal" fill="#000">C</text>
<text x="0.60" y="214.60" font-size="17.9" text-anchor="start" font-weight="bold" font-style="normal" fill="#000">D</text>
<text x="222.00" y="210.80" font-size="17.9" text-anchor="start" font-weight="bold" font-style="normal" fill="#000">E</text>
<text x="34.30" y="425.30" font-size="17.9" text-anchor="start" font-weight="bold" font-style="normal" fill="#000">F</text>
<text x="331.20" y="425.50" font-size="17.9" text-anchor="start" font-weight="bold" font-style="normal" fill="#000">G</text>
</svg>
</body></html>
